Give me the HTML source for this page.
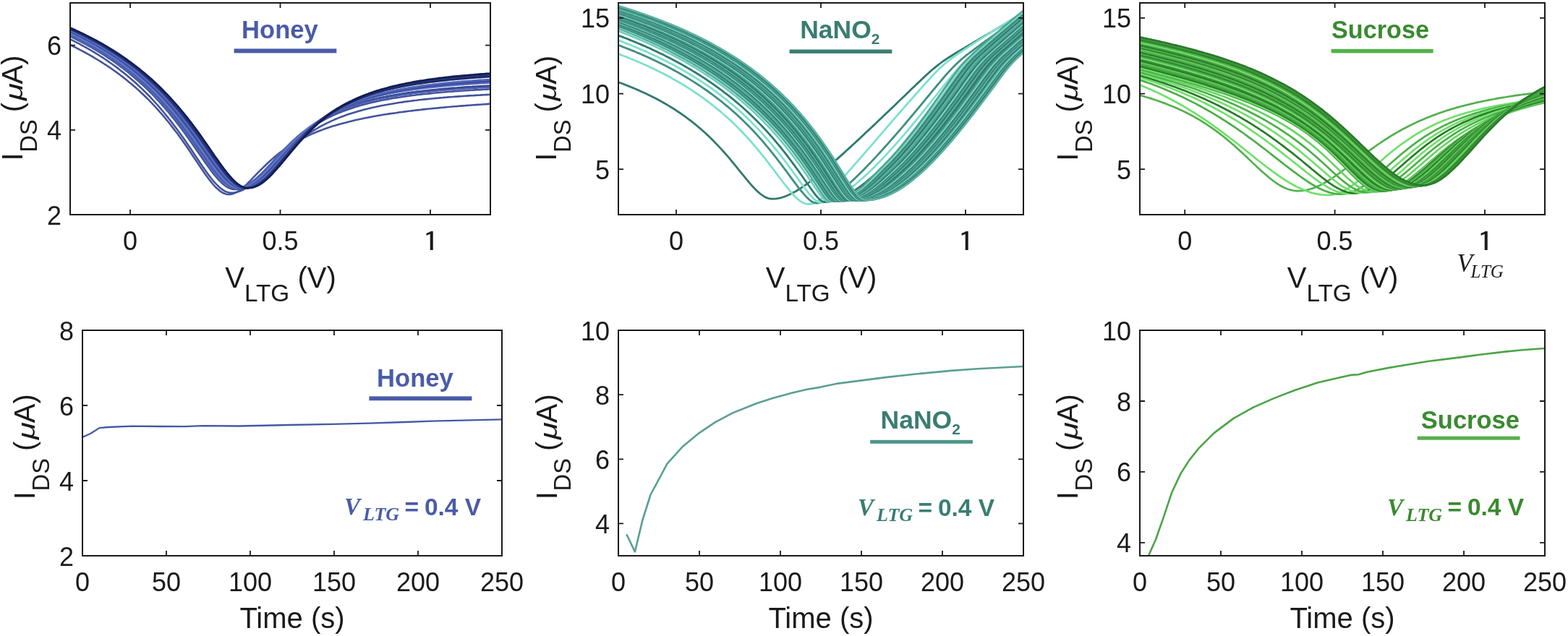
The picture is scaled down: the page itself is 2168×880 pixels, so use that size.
<!DOCTYPE html><html><head><meta charset="utf-8"><title>Figure</title><style>
html,body{margin:0;padding:0;background:#fff;}
svg{display:block;}
.t{font-family:"Liberation Sans",Arial,sans-serif;font-size:36px;fill:#1a1a1a;}
.l{font-family:"Liberation Sans",Arial,sans-serif;font-size:40px;fill:#1a1a1a;}
.sub{font-size:32px;}
.mu{font-style:italic;font-size:34px;}
.ann{font-family:"Liberation Sans",Arial,sans-serif;font-size:34.5px;font-weight:bold;}
.annsub{font-size:21px;}
.vi{font-family:"Liberation Serif",serif;font-style:italic;font-size:35px;fill:#1a1a1a;}
.visub{font-size:26px;}
.vb{font-family:"Liberation Serif",serif;font-style:italic;font-weight:bold;font-size:33px;}
.vbsub{font-size:26px;}
.eq{font-family:"Liberation Sans",Arial,sans-serif;font-weight:bold;font-size:33.5px;}
.one{font-family:"IPAGothic","Liberation Sans",sans-serif;font-size:36.4px;}
</style></head><body><svg width="2168" height="880" viewBox="0 0 2168 880"><rect width="2168" height="880" fill="#fff"/><clipPath id="c1"><rect x="97.0" y="4.0" width="581.0" height="293.0"/></clipPath>
<g clip-path="url(#c1)" fill="none" stroke-width="2.60" stroke-linejoin="round" stroke-linecap="round">
<path stroke="#43549c" d="M97.0,62.1 L99.9,63.5 L102.8,64.9 L105.7,66.4 L108.6,67.9 L111.5,69.4 L114.4,70.9 L117.3,72.5 L120.2,74.1 L123.1,75.7 L126.1,77.4 L129.0,79.0 L131.9,80.8 L134.8,82.5 L137.7,84.3 L140.6,86.1 L143.5,88.0 L146.4,89.8 L149.3,91.8 L152.2,93.7 L155.1,95.7 L158.0,97.8 L160.9,99.9 L163.8,102.0 L166.7,104.2 L169.6,106.4 L172.5,108.7 L175.4,111.0 L178.3,113.4 L181.2,115.8 L184.1,118.3 L187.1,120.8 L190.0,123.4 L192.9,126.0 L195.8,128.7 L198.7,131.5 L201.6,134.3 L204.5,137.2 L207.4,140.1 L210.3,143.1 L213.2,146.2 L216.1,149.3 L219.0,152.6 L221.9,155.8 L224.8,159.2 L227.7,162.6 L230.6,166.2 L233.5,169.7 L236.4,173.4 L239.3,177.1 L242.2,181.0 L245.2,184.8 L248.1,188.8 L251.0,192.8 L253.9,196.9 L256.8,201.1 L259.7,205.3 L262.6,209.6 L265.5,213.9 L268.4,218.2 L271.3,222.5 L274.2,226.9 L277.1,231.2 L280.0,235.5 L282.9,239.7 L285.8,243.7 L288.7,247.7 L291.6,251.4 L294.5,255.0 L297.4,258.2 L300.4,261.1 L303.3,263.6 L306.2,265.7 L309.1,267.3 L312.0,268.4 L314.9,269.0 L317.8,269.0 L320.7,268.5 L323.6,267.6 L326.5,266.3 L329.4,264.6 L332.3,262.6 L335.2,260.3 L338.1,257.8 L341.0,255.1 L343.9,252.2 L346.8,249.3 L349.7,246.2 L352.6,243.2 L355.5,240.2 L358.4,237.2 L361.4,234.2 L364.3,231.3 L367.2,228.5 L370.1,225.7 L373.0,223.0 L375.9,220.4 L378.8,217.9 L381.7,215.5 L384.6,213.1 L387.5,210.9 L390.4,208.7 L393.3,206.6 L396.2,204.6 L399.1,202.6 L402.0,200.8 L404.9,199.0 L407.8,197.2 L410.7,195.5 L413.6,193.9 L416.5,192.4 L419.5,190.9 L422.4,189.5 L425.3,188.1 L428.2,186.7 L431.1,185.4 L434.0,184.2 L436.9,183.0 L439.8,181.8 L442.7,180.7 L445.6,179.6 L448.5,178.5 L451.4,177.5 L454.3,176.5 L457.2,175.6 L460.1,174.6 L463.0,173.8 L465.9,172.9 L468.8,172.0 L471.7,171.2 L474.7,170.4 L477.6,169.7 L480.5,168.9 L483.4,168.2 L486.3,167.5 L489.2,166.8 L492.1,166.1 L495.0,165.5 L497.9,164.8 L500.8,164.2 L503.7,163.6 L506.6,163.0 L509.5,162.4 L512.4,161.9 L515.3,161.3 L518.2,160.8 L521.1,160.3 L524.0,159.8 L526.9,159.3 L529.8,158.8 L532.8,158.3 L535.7,157.9 L538.6,157.4 L541.5,157.0 L544.4,156.6 L547.3,156.2 L550.2,155.7 L553.1,155.3 L556.0,155.0 L558.9,154.6 L561.8,154.2 L564.7,153.8 L567.6,153.5 L570.5,153.1 L573.4,152.8 L576.3,152.4 L579.2,152.1 L582.1,151.8 L585.0,151.4 L587.9,151.1 L590.8,150.8 L593.8,150.5 L596.7,150.2 L599.6,149.9 L602.5,149.7 L605.4,149.4 L608.3,149.1 L611.2,148.8 L614.1,148.6 L617.0,148.3 L619.9,148.0 L622.8,147.8 L625.7,147.5 L628.6,147.3 L631.5,147.1 L634.4,146.8 L637.3,146.6 L640.2,146.4 L643.1,146.2 L646.0,145.9 L648.9,145.7 L651.9,145.5 L654.8,145.3 L657.7,145.1 L660.6,144.9 L663.5,144.7 L666.4,144.5 L669.3,144.3 L672.2,144.1 L675.1,143.9 L678.0,143.7"/>
<path stroke="#43549c" d="M97.0,54.3 L99.9,55.7 L102.8,57.2 L105.7,58.7 L108.6,60.2 L111.5,61.7 L114.4,63.3 L117.3,64.9 L120.2,66.5 L123.1,68.2 L126.1,69.9 L129.0,71.6 L131.9,73.4 L134.8,75.2 L137.7,77.0 L140.6,78.8 L143.5,80.7 L146.4,82.7 L149.3,84.6 L152.2,86.7 L155.1,88.7 L158.0,90.8 L160.9,92.9 L163.8,95.1 L166.7,97.4 L169.6,99.6 L172.5,101.9 L175.4,104.3 L178.3,106.7 L181.2,109.2 L184.1,111.7 L187.1,114.3 L190.0,117.0 L192.9,119.7 L195.8,122.4 L198.7,125.2 L201.6,128.1 L204.5,131.0 L207.4,134.0 L210.3,137.1 L213.2,140.3 L216.1,143.5 L219.0,146.7 L221.9,150.1 L224.8,153.5 L227.7,157.0 L230.6,160.6 L233.5,164.2 L236.4,167.9 L239.3,171.7 L242.2,175.5 L245.2,179.5 L248.1,183.5 L251.0,187.5 L253.9,191.6 L256.8,195.8 L259.7,200.0 L262.6,204.3 L265.5,208.6 L268.4,212.9 L271.3,217.3 L274.2,221.6 L277.1,225.9 L280.0,230.2 L282.9,234.3 L285.8,238.4 L288.7,242.4 L291.6,246.2 L294.5,249.8 L297.4,253.2 L300.4,256.2 L303.3,259.0 L306.2,261.4 L309.1,263.4 L312.0,265.0 L314.9,266.1 L317.8,266.7 L320.7,266.8 L323.6,266.6 L326.5,266.1 L329.4,265.3 L332.3,264.3 L335.2,263.0 L338.1,261.5 L341.0,259.8 L343.9,257.9 L346.8,255.8 L349.7,253.5 L352.6,251.1 L355.5,248.6 L358.4,245.9 L361.4,243.2 L364.3,240.4 L367.2,237.5 L370.1,234.6 L373.0,231.7 L375.9,228.8 L378.8,225.9 L381.7,223.0 L384.6,220.2 L387.5,217.3 L390.4,214.6 L393.3,211.8 L396.2,209.2 L399.1,206.5 L402.0,204.0 L404.9,201.5 L407.8,199.1 L410.7,196.7 L413.6,194.4 L416.5,192.2 L419.5,190.1 L422.4,188.0 L425.3,186.0 L428.2,184.0 L431.1,182.1 L434.0,180.3 L436.9,178.6 L439.8,176.9 L442.7,175.2 L445.6,173.7 L448.5,172.2 L451.4,170.7 L454.3,169.3 L457.2,167.9 L460.1,166.6 L463.0,165.3 L465.9,164.1 L468.8,162.9 L471.7,161.8 L474.7,160.7 L477.6,159.6 L480.5,158.6 L483.4,157.6 L486.3,156.7 L489.2,155.8 L492.1,154.9 L495.0,154.0 L497.9,153.2 L500.8,152.4 L503.7,151.6 L506.6,150.9 L509.5,150.2 L512.4,149.5 L515.3,148.8 L518.2,148.2 L521.1,147.5 L524.0,146.9 L526.9,146.3 L529.8,145.8 L532.8,145.2 L535.7,144.7 L538.6,144.2 L541.5,143.7 L544.4,143.2 L547.3,142.7 L550.2,142.2 L553.1,141.8 L556.0,141.4 L558.9,140.9 L561.8,140.5 L564.7,140.1 L567.6,139.8 L570.5,139.4 L573.4,139.0 L576.3,138.7 L579.2,138.3 L582.1,138.0 L585.0,137.7 L587.9,137.4 L590.8,137.1 L593.8,136.8 L596.7,136.5 L599.6,136.2 L602.5,135.9 L605.4,135.7 L608.3,135.4 L611.2,135.2 L614.1,134.9 L617.0,134.7 L619.9,134.4 L622.8,134.2 L625.7,134.0 L628.6,133.8 L631.5,133.6 L634.4,133.4 L637.3,133.2 L640.2,133.0 L643.1,132.8 L646.0,132.6 L648.9,132.4 L651.9,132.2 L654.8,132.1 L657.7,131.9 L660.6,131.7 L663.5,131.6 L666.4,131.4 L669.3,131.3 L672.2,131.1 L675.1,131.0 L678.0,130.8"/>
<path stroke="#43549c" d="M97.0,50.2 L99.9,51.6 L102.8,53.0 L105.7,54.5 L108.6,56.0 L111.5,57.5 L114.4,59.0 L117.3,60.6 L120.2,62.2 L123.1,63.8 L126.1,65.4 L129.0,67.1 L131.9,68.8 L134.8,70.6 L137.7,72.3 L140.6,74.1 L143.5,76.0 L146.4,77.9 L149.3,79.8 L152.2,81.7 L155.1,83.7 L158.0,85.7 L160.9,87.8 L163.8,89.9 L166.7,92.1 L169.6,94.3 L172.5,96.5 L175.4,98.8 L178.3,101.1 L181.2,103.5 L184.1,105.9 L187.1,108.4 L190.0,110.9 L192.9,113.5 L195.8,116.2 L198.7,118.9 L201.6,121.6 L204.5,124.4 L207.4,127.3 L210.3,130.2 L213.2,133.2 L216.1,136.3 L219.0,139.4 L221.9,142.6 L224.8,145.9 L227.7,149.2 L230.6,152.6 L233.5,156.0 L236.4,159.6 L239.3,163.2 L242.2,166.8 L245.2,170.6 L248.1,174.4 L251.0,178.3 L253.9,182.2 L256.8,186.2 L259.7,190.2 L262.6,194.3 L265.5,198.5 L268.4,202.7 L271.3,206.9 L274.2,211.1 L277.1,215.3 L280.0,219.5 L282.9,223.7 L285.8,227.8 L288.7,231.8 L291.6,235.8 L294.5,239.6 L297.4,243.2 L300.4,246.6 L303.3,249.8 L306.2,252.7 L309.1,255.3 L312.0,257.5 L314.9,259.3 L317.8,260.6 L320.7,261.6 L323.6,262.0 L326.5,262.0 L329.4,261.7 L332.3,261.0 L335.2,260.1 L338.1,258.8 L341.0,257.3 L343.9,255.6 L346.8,253.6 L349.7,251.4 L352.6,249.0 L355.5,246.5 L358.4,243.8 L361.4,241.0 L364.3,238.1 L367.2,235.1 L370.1,232.1 L373.0,229.0 L375.9,226.0 L378.8,222.9 L381.7,219.8 L384.6,216.8 L387.5,213.8 L390.4,210.8 L393.3,207.9 L396.2,205.0 L399.1,202.2 L402.0,199.5 L404.9,196.8 L407.8,194.2 L410.7,191.7 L413.6,189.3 L416.5,186.9 L419.5,184.6 L422.4,182.4 L425.3,180.3 L428.2,178.2 L431.1,176.3 L434.0,174.3 L436.9,172.5 L439.8,170.7 L442.7,169.0 L445.6,167.3 L448.5,165.7 L451.4,164.2 L454.3,162.7 L457.2,161.3 L460.1,159.9 L463.0,158.6 L465.9,157.4 L468.8,156.1 L471.7,155.0 L474.7,153.8 L477.6,152.7 L480.5,151.7 L483.4,150.7 L486.3,149.7 L489.2,148.7 L492.1,147.8 L495.0,146.9 L497.9,146.1 L500.8,145.3 L503.7,144.5 L506.6,143.7 L509.5,143.0 L512.4,142.3 L515.3,141.6 L518.2,140.9 L521.1,140.3 L524.0,139.7 L526.9,139.1 L529.8,138.5 L532.8,137.9 L535.7,137.4 L538.6,136.9 L541.5,136.3 L544.4,135.8 L547.3,135.4 L550.2,134.9 L553.1,134.5 L556.0,134.0 L558.9,133.6 L561.8,133.2 L564.7,132.8 L567.6,132.4 L570.5,132.0 L573.4,131.7 L576.3,131.3 L579.2,131.0 L582.1,130.6 L585.0,130.3 L587.9,130.0 L590.8,129.7 L593.8,129.4 L596.7,129.1 L599.6,128.8 L602.5,128.5 L605.4,128.2 L608.3,128.0 L611.2,127.7 L614.1,127.5 L617.0,127.2 L619.9,127.0 L622.8,126.8 L625.7,126.6 L628.6,126.3 L631.5,126.1 L634.4,125.9 L637.3,125.7 L640.2,125.5 L643.1,125.3 L646.0,125.1 L648.9,124.9 L651.9,124.8 L654.8,124.6 L657.7,124.4 L660.6,124.2 L663.5,124.1 L666.4,123.9 L669.3,123.8 L672.2,123.6 L675.1,123.5 L678.0,123.3"/>
<path stroke="#5a70c4" d="M97.0,48.6 L99.9,50.0 L102.8,51.4 L105.7,52.9 L108.6,54.3 L111.5,55.8 L114.4,57.4 L117.3,58.9 L120.2,60.5 L123.1,62.1 L126.1,63.7 L129.0,65.4 L131.9,67.1 L134.8,68.8 L137.7,70.5 L140.6,72.3 L143.5,74.2 L146.4,76.0 L149.3,77.9 L152.2,79.8 L155.1,81.8 L158.0,83.8 L160.9,85.8 L163.8,87.9 L166.7,90.0 L169.6,92.2 L172.5,94.4 L175.4,96.7 L178.3,99.0 L181.2,101.3 L184.1,103.7 L187.1,106.1 L190.0,108.6 L192.9,111.2 L195.8,113.8 L198.7,116.4 L201.6,119.1 L204.5,121.9 L207.4,124.7 L210.3,127.6 L213.2,130.6 L216.1,133.6 L219.0,136.6 L221.9,139.8 L224.8,143.0 L227.7,146.2 L230.6,149.6 L233.5,153.0 L236.4,156.4 L239.3,160.0 L242.2,163.6 L245.2,167.2 L248.1,171.0 L251.0,174.8 L253.9,178.7 L256.8,182.6 L259.7,186.6 L262.6,190.6 L265.5,194.7 L268.4,198.8 L271.3,202.9 L274.2,207.1 L277.1,211.3 L280.0,215.5 L282.9,219.6 L285.8,223.7 L288.7,227.8 L291.6,231.7 L294.5,235.6 L297.4,239.3 L300.4,242.8 L303.3,246.1 L306.2,249.1 L309.1,251.9 L312.0,254.3 L314.9,256.3 L317.8,258.0 L320.7,259.2 L323.6,259.9 L326.5,260.2 L329.4,260.1 L332.3,259.6 L335.2,258.8 L338.1,257.7 L341.0,256.3 L343.9,254.7 L346.8,252.8 L349.7,250.6 L352.6,248.3 L355.5,245.7 L358.4,243.0 L361.4,240.2 L364.3,237.3 L367.2,234.2 L370.1,231.2 L373.0,228.0 L375.9,224.9 L378.8,221.7 L381.7,218.5 L384.6,215.4 L387.5,212.3 L390.4,209.2 L393.3,206.2 L396.2,203.3 L399.1,200.4 L402.0,197.5 L404.9,194.8 L407.8,192.1 L410.7,189.5 L413.6,187.0 L416.5,184.6 L419.5,182.2 L422.4,179.9 L425.3,177.7 L428.2,175.6 L431.1,173.5 L434.0,171.6 L436.9,169.6 L439.8,167.8 L442.7,166.0 L445.6,164.3 L448.5,162.7 L451.4,161.1 L454.3,159.6 L457.2,158.1 L460.1,156.7 L463.0,155.4 L465.9,154.1 L468.8,152.8 L471.7,151.6 L474.7,150.5 L477.6,149.3 L480.5,148.3 L483.4,147.2 L486.3,146.2 L489.2,145.2 L492.1,144.3 L495.0,143.4 L497.9,142.6 L500.8,141.7 L503.7,140.9 L506.6,140.1 L509.5,139.4 L512.4,138.7 L515.3,138.0 L518.2,137.3 L521.1,136.6 L524.0,136.0 L526.9,135.4 L529.8,134.8 L532.8,134.2 L535.7,133.7 L538.6,133.1 L541.5,132.6 L544.4,132.1 L547.3,131.6 L550.2,131.2 L553.1,130.7 L556.0,130.3 L558.9,129.8 L561.8,129.4 L564.7,129.0 L567.6,128.6 L570.5,128.2 L573.4,127.9 L576.3,127.5 L579.2,127.1 L582.1,126.8 L585.0,126.5 L587.9,126.2 L590.8,125.8 L593.8,125.5 L596.7,125.2 L599.6,125.0 L602.5,124.7 L605.4,124.4 L608.3,124.1 L611.2,123.9 L614.1,123.6 L617.0,123.4 L619.9,123.1 L622.8,122.9 L625.7,122.7 L628.6,122.5 L631.5,122.2 L634.4,122.0 L637.3,121.8 L640.2,121.6 L643.1,121.4 L646.0,121.2 L648.9,121.1 L651.9,120.9 L654.8,120.7 L657.7,120.5 L660.6,120.4 L663.5,120.2 L666.4,120.0 L669.3,119.9 L672.2,119.7 L675.1,119.6 L678.0,119.4"/>
<path stroke="#2f3f88" d="M97.0,47.0 L99.9,48.4 L102.8,49.8 L105.7,51.3 L108.6,52.7 L111.5,54.2 L114.4,55.7 L117.3,57.2 L120.2,58.8 L123.1,60.4 L126.1,62.0 L129.0,63.6 L131.9,65.3 L134.8,67.0 L137.7,68.7 L140.6,70.5 L143.5,72.3 L146.4,74.1 L149.3,76.0 L152.2,77.9 L155.1,79.8 L158.0,81.8 L160.9,83.8 L163.8,85.8 L166.7,87.9 L169.6,90.1 L172.5,92.2 L175.4,94.5 L178.3,96.7 L181.2,99.0 L184.1,101.4 L187.1,103.8 L190.0,106.2 L192.9,108.8 L195.8,111.3 L198.7,113.9 L201.6,116.6 L204.5,119.3 L207.4,122.1 L210.3,124.9 L213.2,127.8 L216.1,130.8 L219.0,133.8 L221.9,136.9 L224.8,140.0 L227.7,143.3 L230.6,146.5 L233.5,149.9 L236.4,153.3 L239.3,156.8 L242.2,160.3 L245.2,164.0 L248.1,167.7 L251.0,171.4 L253.9,175.2 L256.8,179.1 L259.7,183.0 L262.6,187.0 L265.5,191.1 L268.4,195.2 L271.3,199.3 L274.2,203.5 L277.1,207.6 L280.0,211.8 L282.9,216.0 L285.8,220.2 L288.7,224.3 L291.6,228.3 L294.5,232.3 L297.4,236.1 L300.4,239.8 L303.3,243.2 L306.2,246.5 L309.1,249.5 L312.0,252.2 L314.9,254.6 L317.8,256.6 L320.7,258.2 L323.6,259.3 L326.5,260.0 L329.4,260.2 L332.3,260.1 L335.2,259.5 L338.1,258.7 L341.0,257.6 L343.9,256.1 L346.8,254.4 L349.7,252.5 L352.6,250.3 L355.5,247.9 L358.4,245.3 L361.4,242.6 L364.3,239.7 L367.2,236.8 L370.1,233.7 L373.0,230.6 L375.9,227.5 L378.8,224.3 L381.7,221.1 L384.6,217.9 L387.5,214.8 L390.4,211.7 L393.3,208.6 L396.2,205.6 L399.1,202.6 L402.0,199.7 L404.9,196.8 L407.8,194.1 L410.7,191.4 L413.6,188.8 L416.5,186.3 L419.5,183.8 L422.4,181.4 L425.3,179.2 L428.2,176.9 L431.1,174.8 L434.0,172.8 L436.9,170.8 L439.8,168.9 L442.7,167.0 L445.6,165.2 L448.5,163.5 L451.4,161.9 L454.3,160.3 L457.2,158.8 L460.1,157.3 L463.0,155.9 L465.9,154.5 L468.8,153.2 L471.7,152.0 L474.7,150.8 L477.6,149.6 L480.5,148.5 L483.4,147.4 L486.3,146.3 L489.2,145.3 L492.1,144.4 L495.0,143.4 L497.9,142.5 L500.8,141.7 L503.7,140.8 L506.6,140.0 L509.5,139.2 L512.4,138.5 L515.3,137.7 L518.2,137.0 L521.1,136.4 L524.0,135.7 L526.9,135.1 L529.8,134.5 L532.8,133.9 L535.7,133.3 L538.6,132.7 L541.5,132.2 L544.4,131.7 L547.3,131.2 L550.2,130.7 L553.1,130.2 L556.0,129.7 L558.9,129.3 L561.8,128.9 L564.7,128.4 L567.6,128.0 L570.5,127.6 L573.4,127.3 L576.3,126.9 L579.2,126.5 L582.1,126.2 L585.0,125.8 L587.9,125.5 L590.8,125.2 L593.8,124.9 L596.7,124.6 L599.6,124.3 L602.5,124.0 L605.4,123.7 L608.3,123.4 L611.2,123.1 L614.1,122.9 L617.0,122.6 L619.9,122.4 L622.8,122.1 L625.7,121.9 L628.6,121.7 L631.5,121.5 L634.4,121.2 L637.3,121.0 L640.2,120.8 L643.1,120.6 L646.0,120.4 L648.9,120.2 L651.9,120.1 L654.8,119.9 L657.7,119.7 L660.6,119.5 L663.5,119.3 L666.4,119.2 L669.3,119.0 L672.2,118.9 L675.1,118.7 L678.0,118.5"/>
<path stroke="#4a5eb0" d="M97.0,48.1 L99.9,49.5 L102.8,50.9 L105.7,52.3 L108.6,53.8 L111.5,55.3 L114.4,56.8 L117.3,58.3 L120.2,59.9 L123.1,61.5 L126.1,63.1 L129.0,64.8 L131.9,66.5 L134.8,68.2 L137.7,69.9 L140.6,71.7 L143.5,73.5 L146.4,75.4 L149.3,77.3 L152.2,79.2 L155.1,81.1 L158.0,83.1 L160.9,85.1 L163.8,87.2 L166.7,89.3 L169.6,91.5 L172.5,93.7 L175.4,95.9 L178.3,98.2 L181.2,100.5 L184.1,102.9 L187.1,105.4 L190.0,107.8 L192.9,110.4 L195.8,113.0 L198.7,115.6 L201.6,118.3 L204.5,121.0 L207.4,123.9 L210.3,126.7 L213.2,129.6 L216.1,132.6 L219.0,135.7 L221.9,138.8 L224.8,142.0 L227.7,145.2 L230.6,148.6 L233.5,151.9 L236.4,155.4 L239.3,158.9 L242.2,162.5 L245.2,166.2 L248.1,169.9 L251.0,173.7 L253.9,177.5 L256.8,181.4 L259.7,185.4 L262.6,189.4 L265.5,193.5 L268.4,197.6 L271.3,201.7 L274.2,205.9 L277.1,210.1 L280.0,214.2 L282.9,218.4 L285.8,222.5 L288.7,226.6 L291.6,230.6 L294.5,234.5 L297.4,238.2 L300.4,241.8 L303.3,245.1 L306.2,248.3 L309.1,251.1 L312.0,253.6 L314.9,255.8 L317.8,257.5 L320.7,258.9 L323.6,259.8 L326.5,260.2 L329.4,260.2 L332.3,259.8 L335.2,259.1 L338.1,258.1 L341.0,256.8 L343.9,255.2 L346.8,253.3 L349.7,251.3 L352.6,249.0 L355.5,246.5 L358.4,243.9 L361.4,241.1 L364.3,238.2 L367.2,235.2 L370.1,232.1 L373.0,229.0 L375.9,225.9 L378.8,222.8 L381.7,219.6 L384.6,216.5 L387.5,213.4 L390.4,210.3 L393.3,207.3 L396.2,204.4 L399.1,201.5 L402.0,198.6 L404.9,195.9 L407.8,193.2 L410.7,190.6 L413.6,188.1 L416.5,185.6 L419.5,183.3 L422.4,181.0 L425.3,178.8 L428.2,176.6 L431.1,174.6 L434.0,172.6 L436.9,170.7 L439.8,168.9 L442.7,167.1 L445.6,165.4 L448.5,163.7 L451.4,162.2 L454.3,160.6 L457.2,159.2 L460.1,157.8 L463.0,156.4 L465.9,155.1 L468.8,153.8 L471.7,152.6 L474.7,151.5 L477.6,150.4 L480.5,149.3 L483.4,148.2 L486.3,147.2 L489.2,146.3 L492.1,145.3 L495.0,144.4 L497.9,143.6 L500.8,142.7 L503.7,141.9 L506.6,141.2 L509.5,140.4 L512.4,139.7 L515.3,139.0 L518.2,138.3 L521.1,137.6 L524.0,137.0 L526.9,136.4 L529.8,135.8 L532.8,135.2 L535.7,134.7 L538.6,134.2 L541.5,133.6 L544.4,133.1 L547.3,132.6 L550.2,132.2 L553.1,131.7 L556.0,131.3 L558.9,130.8 L561.8,130.4 L564.7,130.0 L567.6,129.6 L570.5,129.3 L573.4,128.9 L576.3,128.5 L579.2,128.2 L582.1,127.8 L585.0,127.5 L587.9,127.2 L590.8,126.9 L593.8,126.6 L596.7,126.3 L599.6,126.0 L602.5,125.7 L605.4,125.4 L608.3,125.2 L611.2,124.9 L614.1,124.7 L617.0,124.4 L619.9,124.2 L622.8,123.9 L625.7,123.7 L628.6,123.5 L631.5,123.3 L634.4,123.1 L637.3,122.9 L640.2,122.7 L643.1,122.5 L646.0,122.3 L648.9,122.1 L651.9,121.9 L654.8,121.7 L657.7,121.6 L660.6,121.4 L663.5,121.2 L666.4,121.1 L669.3,120.9 L672.2,120.7 L675.1,120.6 L678.0,120.4"/>
<path stroke="#26357c" d="M97.0,44.5 L99.9,45.8 L102.8,47.2 L105.7,48.6 L108.6,50.0 L111.5,51.5 L114.4,52.9 L117.3,54.4 L120.2,56.0 L123.1,57.5 L126.1,59.1 L129.0,60.7 L131.9,62.3 L134.8,64.0 L137.7,65.7 L140.6,67.4 L143.5,69.2 L146.4,70.9 L149.3,72.8 L152.2,74.6 L155.1,76.5 L158.0,78.4 L160.9,80.4 L163.8,82.4 L166.7,84.5 L169.6,86.5 L172.5,88.7 L175.4,90.8 L178.3,93.0 L181.2,95.3 L184.1,97.6 L187.1,99.9 L190.0,102.3 L192.9,104.8 L195.8,107.3 L198.7,109.8 L201.6,112.4 L204.5,115.1 L207.4,117.8 L210.3,120.5 L213.2,123.4 L216.1,126.2 L219.0,129.2 L221.9,132.2 L224.8,135.3 L227.7,138.4 L230.6,141.6 L233.5,144.9 L236.4,148.2 L239.3,151.6 L242.2,155.1 L245.2,158.6 L248.1,162.2 L251.0,165.9 L253.9,169.6 L256.8,173.4 L259.7,177.3 L262.6,181.2 L265.5,185.2 L268.4,189.2 L271.3,193.3 L274.2,197.4 L277.1,201.6 L280.0,205.8 L282.9,210.0 L285.8,214.1 L288.7,218.3 L291.6,222.5 L294.5,226.5 L297.4,230.5 L300.4,234.4 L303.3,238.2 L306.2,241.8 L309.1,245.1 L312.0,248.3 L314.9,251.1 L317.8,253.6 L320.7,255.8 L323.6,257.5 L326.5,258.9 L329.4,259.8 L332.3,260.2 L335.2,260.2 L338.1,259.8 L341.0,259.1 L343.9,258.1 L346.8,256.7 L349.7,255.1 L352.6,253.2 L355.5,251.1 L358.4,248.8 L361.4,246.2 L364.3,243.5 L367.2,240.6 L370.1,237.6 L373.0,234.5 L375.9,231.3 L378.8,228.1 L381.7,224.8 L384.6,221.5 L387.5,218.2 L390.4,214.9 L393.3,211.6 L396.2,208.4 L399.1,205.2 L402.0,202.1 L404.9,199.0 L407.8,196.0 L410.7,193.1 L413.6,190.2 L416.5,187.4 L419.5,184.7 L422.4,182.1 L425.3,179.6 L428.2,177.1 L431.1,174.8 L434.0,172.5 L436.9,170.2 L439.8,168.1 L442.7,166.1 L445.6,164.1 L448.5,162.2 L451.4,160.3 L454.3,158.5 L457.2,156.8 L460.1,155.2 L463.0,153.6 L465.9,152.1 L468.8,150.6 L471.7,149.2 L474.7,147.8 L477.6,146.5 L480.5,145.2 L483.4,144.0 L486.3,142.8 L489.2,141.7 L492.1,140.6 L495.0,139.6 L497.9,138.5 L500.8,137.6 L503.7,136.6 L506.6,135.7 L509.5,134.8 L512.4,134.0 L515.3,133.2 L518.2,132.4 L521.1,131.6 L524.0,130.9 L526.9,130.2 L529.8,129.5 L532.8,128.8 L535.7,128.2 L538.6,127.5 L541.5,126.9 L544.4,126.4 L547.3,125.8 L550.2,125.3 L553.1,124.7 L556.0,124.2 L558.9,123.7 L561.8,123.2 L564.7,122.8 L567.6,122.3 L570.5,121.9 L573.4,121.4 L576.3,121.0 L579.2,120.6 L582.1,120.2 L585.0,119.9 L587.9,119.5 L590.8,119.1 L593.8,118.8 L596.7,118.4 L599.6,118.1 L602.5,117.8 L605.4,117.5 L608.3,117.2 L611.2,116.9 L614.1,116.6 L617.0,116.3 L619.9,116.0 L622.8,115.8 L625.7,115.5 L628.6,115.3 L631.5,115.0 L634.4,114.8 L637.3,114.6 L640.2,114.3 L643.1,114.1 L646.0,113.9 L648.9,113.7 L651.9,113.5 L654.8,113.3 L657.7,113.1 L660.6,112.9 L663.5,112.7 L666.4,112.5 L669.3,112.3 L672.2,112.2 L675.1,112.0 L678.0,111.8"/>
<path stroke="#6378cc" d="M97.0,46.0 L99.9,47.4 L102.8,48.8 L105.7,50.2 L108.6,51.6 L111.5,53.1 L114.4,54.6 L117.3,56.1 L120.2,57.6 L123.1,59.2 L126.1,60.8 L129.0,62.4 L131.9,64.1 L134.8,65.8 L137.7,67.5 L140.6,69.2 L143.5,71.0 L146.4,72.8 L149.3,74.7 L152.2,76.6 L155.1,78.5 L158.0,80.4 L160.9,82.4 L163.8,84.5 L166.7,86.5 L169.6,88.6 L172.5,90.8 L175.4,93.0 L178.3,95.2 L181.2,97.5 L184.1,99.9 L187.1,102.2 L190.0,104.7 L192.9,107.2 L195.8,109.7 L198.7,112.3 L201.6,114.9 L204.5,117.6 L207.4,120.4 L210.3,123.2 L213.2,126.0 L216.1,129.0 L219.0,132.0 L221.9,135.0 L224.8,138.1 L227.7,141.3 L230.6,144.6 L233.5,147.9 L236.4,151.2 L239.3,154.7 L242.2,158.2 L245.2,161.8 L248.1,165.5 L251.0,169.2 L253.9,173.0 L256.8,176.8 L259.7,180.7 L262.6,184.7 L265.5,188.7 L268.4,192.8 L271.3,196.9 L274.2,201.0 L277.1,205.2 L280.0,209.4 L282.9,213.6 L285.8,217.8 L288.7,221.9 L291.6,226.0 L294.5,230.0 L297.4,233.9 L300.4,237.7 L303.3,241.3 L306.2,244.7 L309.1,247.8 L312.0,250.7 L314.9,253.3 L317.8,255.5 L320.7,257.3 L323.6,258.7 L326.5,259.7 L329.4,260.2 L332.3,260.2 L335.2,259.9 L338.1,259.2 L341.0,258.2 L343.9,257.0 L346.8,255.4 L349.7,253.6 L352.6,251.5 L355.5,249.2 L358.4,246.7 L361.4,244.0 L364.3,241.2 L367.2,238.2 L370.1,235.2 L373.0,232.0 L375.9,228.8 L378.8,225.6 L381.7,222.4 L384.6,219.1 L387.5,215.9 L390.4,212.7 L393.3,209.5 L396.2,206.3 L399.1,203.3 L402.0,200.2 L404.9,197.3 L407.8,194.4 L410.7,191.6 L413.6,188.9 L416.5,186.2 L419.5,183.6 L422.4,181.2 L425.3,178.7 L428.2,176.4 L431.1,174.2 L434.0,172.0 L436.9,169.9 L439.8,167.9 L442.7,165.9 L445.6,164.1 L448.5,162.3 L451.4,160.5 L454.3,158.8 L457.2,157.2 L460.1,155.7 L463.0,154.2 L465.9,152.7 L468.8,151.3 L471.7,150.0 L474.7,148.7 L477.6,147.5 L480.5,146.3 L483.4,145.1 L486.3,144.0 L489.2,143.0 L492.1,141.9 L495.0,140.9 L497.9,140.0 L500.8,139.1 L503.7,138.2 L506.6,137.3 L509.5,136.5 L512.4,135.7 L515.3,134.9 L518.2,134.2 L521.1,133.5 L524.0,132.8 L526.9,132.1 L529.8,131.4 L532.8,130.8 L535.7,130.2 L538.6,129.6 L541.5,129.0 L544.4,128.5 L547.3,128.0 L550.2,127.4 L553.1,126.9 L556.0,126.4 L558.9,126.0 L561.8,125.5 L564.7,125.1 L567.6,124.6 L570.5,124.2 L573.4,123.8 L576.3,123.4 L579.2,123.0 L582.1,122.7 L585.0,122.3 L587.9,122.0 L590.8,121.6 L593.8,121.3 L596.7,121.0 L599.6,120.7 L602.5,120.4 L605.4,120.1 L608.3,119.8 L611.2,119.5 L614.1,119.2 L617.0,119.0 L619.9,118.7 L622.8,118.4 L625.7,118.2 L628.6,118.0 L631.5,117.7 L634.4,117.5 L637.3,117.3 L640.2,117.1 L643.1,116.8 L646.0,116.6 L648.9,116.4 L651.9,116.2 L654.8,116.0 L657.7,115.9 L660.6,115.7 L663.5,115.5 L666.4,115.3 L669.3,115.1 L672.2,115.0 L675.1,114.8 L678.0,114.7"/>
<path stroke="#2c3c84" d="M97.0,42.9 L99.9,44.3 L102.8,45.6 L105.7,47.0 L108.6,48.4 L111.5,49.9 L114.4,51.3 L117.3,52.8 L120.2,54.3 L123.1,55.8 L126.1,57.4 L129.0,59.0 L131.9,60.6 L134.8,62.2 L137.7,63.9 L140.6,65.6 L143.5,67.3 L146.4,69.1 L149.3,70.9 L152.2,72.7 L155.1,74.6 L158.0,76.5 L160.9,78.4 L163.8,80.4 L166.7,82.4 L169.6,84.5 L172.5,86.5 L175.4,88.7 L178.3,90.9 L181.2,93.1 L184.1,95.3 L187.1,97.7 L190.0,100.0 L192.9,102.4 L195.8,104.9 L198.7,107.4 L201.6,109.9 L204.5,112.5 L207.4,115.2 L210.3,117.9 L213.2,120.7 L216.1,123.6 L219.0,126.5 L221.9,129.4 L224.8,132.4 L227.7,135.5 L230.6,138.7 L233.5,141.9 L236.4,145.2 L239.3,148.5 L242.2,151.9 L245.2,155.4 L248.1,159.0 L251.0,162.6 L253.9,166.3 L256.8,170.0 L259.7,173.8 L262.6,177.7 L265.5,181.7 L268.4,185.7 L271.3,189.7 L274.2,193.8 L277.1,197.9 L280.0,202.1 L282.9,206.3 L285.8,210.5 L288.7,214.7 L291.6,218.9 L294.5,223.0 L297.4,227.1 L300.4,231.1 L303.3,234.9 L306.2,238.7 L309.1,242.2 L312.0,245.6 L314.9,248.7 L317.8,251.5 L320.7,253.9 L323.6,256.1 L326.5,257.8 L329.4,259.0 L332.3,259.9 L335.2,260.2 L338.1,260.1 L341.0,259.7 L343.9,259.0 L346.8,257.9 L349.7,256.5 L352.6,254.9 L355.5,252.9 L358.4,250.8 L361.4,248.4 L364.3,245.8 L367.2,243.0 L370.1,240.1 L373.0,237.1 L375.9,234.0 L378.8,230.7 L381.7,227.5 L384.6,224.2 L387.5,220.9 L390.4,217.5 L393.3,214.2 L396.2,211.0 L399.1,207.7 L402.0,204.5 L404.9,201.4 L407.8,198.3 L410.7,195.3 L413.6,192.3 L416.5,189.5 L419.5,186.7 L422.4,184.0 L425.3,181.4 L428.2,178.8 L431.1,176.3 L434.0,174.0 L436.9,171.7 L439.8,169.5 L442.7,167.3 L445.6,165.2 L448.5,163.3 L451.4,161.3 L454.3,159.5 L457.2,157.7 L460.1,156.0 L463.0,154.3 L465.9,152.7 L468.8,151.2 L471.7,149.7 L474.7,148.3 L477.6,146.9 L480.5,145.6 L483.4,144.4 L486.3,143.1 L489.2,141.9 L492.1,140.8 L495.0,139.7 L497.9,138.7 L500.8,137.6 L503.7,136.7 L506.6,135.7 L509.5,134.8 L512.4,133.9 L515.3,133.1 L518.2,132.3 L521.1,131.5 L524.0,130.7 L526.9,130.0 L529.8,129.2 L532.8,128.5 L535.7,127.9 L538.6,127.2 L541.5,126.6 L544.4,126.0 L547.3,125.4 L550.2,124.8 L553.1,124.3 L556.0,123.8 L558.9,123.2 L561.8,122.7 L564.7,122.3 L567.6,121.8 L570.5,121.3 L573.4,120.9 L576.3,120.5 L579.2,120.1 L582.1,119.6 L585.0,119.3 L587.9,118.9 L590.8,118.5 L593.8,118.1 L596.7,117.8 L599.6,117.5 L602.5,117.1 L605.4,116.8 L608.3,116.5 L611.2,116.2 L614.1,115.9 L617.0,115.6 L619.9,115.3 L622.8,115.0 L625.7,114.8 L628.6,114.5 L631.5,114.3 L634.4,114.0 L637.3,113.8 L640.2,113.5 L643.1,113.3 L646.0,113.1 L648.9,112.9 L651.9,112.7 L654.8,112.5 L657.7,112.3 L660.6,112.1 L663.5,111.9 L666.4,111.7 L669.3,111.5 L672.2,111.3 L675.1,111.1 L678.0,111.0"/>
<path stroke="#3e509c" d="M97.0,44.0 L99.9,45.3 L102.8,46.7 L105.7,48.1 L108.6,49.5 L111.5,50.9 L114.4,52.4 L117.3,53.9 L120.2,55.4 L123.1,56.9 L126.1,58.5 L129.0,60.1 L131.9,61.7 L134.8,63.4 L137.7,65.1 L140.6,66.8 L143.5,68.5 L146.4,70.3 L149.3,72.1 L152.2,74.0 L155.1,75.9 L158.0,77.8 L160.9,79.7 L163.8,81.7 L166.7,83.8 L169.6,85.8 L172.5,88.0 L175.4,90.1 L178.3,92.3 L181.2,94.5 L184.1,96.8 L187.1,99.2 L190.0,101.6 L192.9,104.0 L195.8,106.5 L198.7,109.0 L201.6,111.6 L204.5,114.2 L207.4,116.9 L210.3,119.7 L213.2,122.5 L216.1,125.3 L219.0,128.3 L221.9,131.3 L224.8,134.3 L227.7,137.4 L230.6,140.6 L233.5,143.9 L236.4,147.2 L239.3,150.6 L242.2,154.0 L245.2,157.5 L248.1,161.1 L251.0,164.8 L253.9,168.5 L256.8,172.3 L259.7,176.1 L262.6,180.0 L265.5,184.0 L268.4,188.0 L271.3,192.1 L274.2,196.2 L277.1,200.4 L280.0,204.5 L282.9,208.7 L285.8,212.9 L288.7,217.1 L291.6,221.3 L294.5,225.4 L297.4,229.4 L300.4,233.3 L303.3,237.1 L306.2,240.7 L309.1,244.2 L312.0,247.4 L314.9,250.3 L317.8,252.9 L320.7,255.2 L323.6,257.1 L326.5,258.5 L329.4,259.6 L332.3,260.1 L335.2,260.2 L338.1,259.9 L341.0,259.3 L343.9,258.4 L346.8,257.2 L349.7,255.6 L352.6,253.8 L355.5,251.8 L358.4,249.5 L361.4,247.0 L364.3,244.3 L367.2,241.5 L370.1,238.5 L373.0,235.5 L375.9,232.3 L378.8,229.1 L381.7,225.8 L384.6,222.6 L387.5,219.3 L390.4,216.0 L393.3,212.7 L396.2,209.5 L399.1,206.3 L402.0,203.2 L404.9,200.1 L407.8,197.1 L410.7,194.2 L413.6,191.3 L416.5,188.6 L419.5,185.9 L422.4,183.2 L425.3,180.7 L428.2,178.2 L431.1,175.9 L434.0,173.6 L436.9,171.3 L439.8,169.2 L442.7,167.1 L445.6,165.2 L448.5,163.2 L451.4,161.4 L454.3,159.6 L457.2,157.9 L460.1,156.2 L463.0,154.6 L465.9,153.1 L468.8,151.6 L471.7,150.2 L474.7,148.9 L477.6,147.5 L480.5,146.3 L483.4,145.1 L486.3,143.9 L489.2,142.7 L492.1,141.6 L495.0,140.6 L497.9,139.6 L500.8,138.6 L503.7,137.7 L506.6,136.7 L509.5,135.9 L512.4,135.0 L515.3,134.2 L518.2,133.4 L521.1,132.6 L524.0,131.9 L526.9,131.2 L529.8,130.5 L532.8,129.8 L535.7,129.2 L538.6,128.6 L541.5,128.0 L544.4,127.4 L547.3,126.8 L550.2,126.3 L553.1,125.7 L556.0,125.2 L558.9,124.7 L561.8,124.3 L564.7,123.8 L567.6,123.3 L570.5,122.9 L573.4,122.5 L576.3,122.1 L579.2,121.7 L582.1,121.3 L585.0,120.9 L587.9,120.5 L590.8,120.2 L593.8,119.8 L596.7,119.5 L599.6,119.1 L602.5,118.8 L605.4,118.5 L608.3,118.2 L611.2,117.9 L614.1,117.6 L617.0,117.3 L619.9,117.1 L622.8,116.8 L625.7,116.6 L628.6,116.3 L631.5,116.1 L634.4,115.8 L637.3,115.6 L640.2,115.4 L643.1,115.1 L646.0,114.9 L648.9,114.7 L651.9,114.5 L654.8,114.3 L657.7,114.1 L660.6,113.9 L663.5,113.7 L666.4,113.5 L669.3,113.4 L672.2,113.2 L675.1,113.0 L678.0,112.9"/>
<path stroke="#222f72" d="M97.0,41.4 L99.9,42.7 L102.8,44.1 L105.7,45.5 L108.6,46.8 L111.5,48.3 L114.4,49.7 L117.3,51.2 L120.2,52.6 L123.1,54.1 L126.1,55.7 L129.0,57.2 L131.9,58.8 L134.8,60.5 L137.7,62.1 L140.6,63.8 L143.5,65.5 L146.4,67.2 L149.3,69.0 L152.2,70.8 L155.1,72.7 L158.0,74.5 L160.9,76.4 L163.8,78.4 L166.7,80.4 L169.6,82.4 L172.5,84.5 L175.4,86.6 L178.3,88.7 L181.2,90.9 L184.1,93.1 L187.1,95.4 L190.0,97.7 L192.9,100.1 L195.8,102.5 L198.7,105.0 L201.6,107.5 L204.5,110.1 L207.4,112.7 L210.3,115.4 L213.2,118.1 L216.1,120.9 L219.0,123.8 L221.9,126.7 L224.8,129.6 L227.7,132.7 L230.6,135.8 L233.5,138.9 L236.4,142.2 L239.3,145.5 L242.2,148.8 L245.2,152.3 L248.1,155.8 L251.0,159.3 L253.9,163.0 L256.8,166.7 L259.7,170.4 L262.6,174.3 L265.5,178.2 L268.4,182.1 L271.3,186.1 L274.2,190.2 L277.1,194.3 L280.0,198.5 L282.9,202.6 L285.8,206.8 L288.7,211.1 L291.6,215.3 L294.5,219.4 L297.4,223.6 L300.4,227.6 L303.3,231.6 L306.2,235.5 L309.1,239.2 L312.0,242.7 L314.9,246.0 L317.8,249.1 L320.7,251.8 L323.6,254.3 L326.5,256.3 L329.4,258.0 L332.3,259.2 L335.2,259.9 L338.1,260.2 L341.0,260.1 L343.9,259.6 L346.8,258.8 L349.7,257.7 L352.6,256.3 L355.5,254.6 L358.4,252.6 L361.4,250.3 L364.3,247.9 L367.2,245.2 L370.1,242.4 L373.0,239.4 L375.9,236.3 L378.8,233.1 L381.7,229.8 L384.6,226.5 L387.5,223.1 L390.4,219.7 L393.3,216.2 L396.2,212.9 L399.1,209.5 L402.0,206.1 L404.9,202.9 L407.8,199.6 L410.7,196.5 L413.6,193.3 L416.5,190.3 L419.5,187.4 L422.4,184.5 L425.3,181.7 L428.2,179.0 L431.1,176.4 L434.0,173.8 L436.9,171.4 L439.8,169.0 L442.7,166.7 L445.6,164.5 L448.5,162.4 L451.4,160.3 L454.3,158.3 L457.2,156.4 L460.1,154.5 L463.0,152.8 L465.9,151.0 L468.8,149.4 L471.7,147.8 L474.7,146.3 L477.6,144.8 L480.5,143.4 L483.4,142.0 L486.3,140.7 L489.2,139.4 L492.1,138.2 L495.0,137.0 L497.9,135.9 L500.8,134.8 L503.7,133.7 L506.6,132.7 L509.5,131.7 L512.4,130.8 L515.3,129.8 L518.2,129.0 L521.1,128.1 L524.0,127.3 L526.9,126.5 L529.8,125.7 L532.8,125.0 L535.7,124.3 L538.6,123.6 L541.5,122.9 L544.4,122.2 L547.3,121.6 L550.2,121.0 L553.1,120.4 L556.0,119.8 L558.9,119.3 L561.8,118.7 L564.7,118.2 L567.6,117.7 L570.5,117.2 L573.4,116.8 L576.3,116.3 L579.2,115.9 L582.1,115.4 L585.0,115.0 L587.9,114.6 L590.8,114.2 L593.8,113.8 L596.7,113.4 L599.6,113.1 L602.5,112.7 L605.4,112.4 L608.3,112.0 L611.2,111.7 L614.1,111.4 L617.0,111.1 L619.9,110.8 L622.8,110.5 L625.7,110.2 L628.6,109.9 L631.5,109.7 L634.4,109.4 L637.3,109.2 L640.2,108.9 L643.1,108.7 L646.0,108.4 L648.9,108.2 L651.9,108.0 L654.8,107.8 L657.7,107.5 L660.6,107.3 L663.5,107.1 L666.4,106.9 L669.3,106.7 L672.2,106.5 L675.1,106.4 L678.0,106.2"/>
<path stroke="#5268bc" d="M97.0,42.4 L99.9,43.8 L102.8,45.1 L105.7,46.5 L108.6,47.9 L111.5,49.3 L114.4,50.8 L117.3,52.2 L120.2,53.7 L123.1,55.3 L126.1,56.8 L129.0,58.4 L131.9,60.0 L134.8,61.6 L137.7,63.3 L140.6,65.0 L143.5,66.7 L146.4,68.5 L149.3,70.3 L152.2,72.1 L155.1,73.9 L158.0,75.8 L160.9,77.8 L163.8,79.7 L166.7,81.7 L169.6,83.8 L172.5,85.8 L175.4,88.0 L178.3,90.1 L181.2,92.3 L184.1,94.6 L187.1,96.9 L190.0,99.2 L192.9,101.6 L195.8,104.1 L198.7,106.6 L201.6,109.1 L204.5,111.7 L207.4,114.4 L210.3,117.1 L213.2,119.8 L216.1,122.7 L219.0,125.5 L221.9,128.5 L224.8,131.5 L227.7,134.6 L230.6,137.7 L233.5,140.9 L236.4,144.2 L239.3,147.5 L242.2,150.9 L245.2,154.4 L248.1,157.9 L251.0,161.5 L253.9,165.2 L256.8,168.9 L259.7,172.7 L262.6,176.6 L265.5,180.5 L268.4,184.5 L271.3,188.5 L274.2,192.6 L277.1,196.7 L280.0,200.9 L282.9,205.1 L285.8,209.3 L288.7,213.5 L291.6,217.7 L294.5,221.8 L297.4,225.9 L300.4,229.9 L303.3,233.8 L306.2,237.6 L309.1,241.2 L312.0,244.6 L314.9,247.8 L317.8,250.7 L320.7,253.3 L323.6,255.5 L326.5,257.3 L329.4,258.7 L332.3,259.7 L335.2,260.2 L338.1,260.2 L341.0,259.9 L343.9,259.2 L346.8,258.2 L349.7,256.9 L352.6,255.4 L355.5,253.5 L358.4,251.4 L361.4,249.1 L364.3,246.5 L367.2,243.8 L370.1,240.9 L373.0,237.9 L375.9,234.8 L378.8,231.6 L381.7,228.3 L384.6,225.0 L387.5,221.7 L390.4,218.3 L393.3,215.0 L396.2,211.7 L399.1,208.4 L402.0,205.2 L404.9,202.0 L407.8,198.9 L410.7,195.8 L413.6,192.9 L416.5,189.9 L419.5,187.1 L422.4,184.4 L425.3,181.7 L428.2,179.1 L431.1,176.6 L434.0,174.2 L436.9,171.9 L439.8,169.6 L442.7,167.4 L445.6,165.3 L448.5,163.3 L451.4,161.3 L454.3,159.4 L457.2,157.6 L460.1,155.9 L463.0,154.2 L465.9,152.6 L468.8,151.0 L471.7,149.5 L474.7,148.1 L477.6,146.7 L480.5,145.3 L483.4,144.0 L486.3,142.8 L489.2,141.6 L492.1,140.4 L495.0,139.3 L497.9,138.2 L500.8,137.2 L503.7,136.2 L506.6,135.2 L509.5,134.3 L512.4,133.4 L515.3,132.5 L518.2,131.7 L521.1,130.9 L524.0,130.1 L526.9,129.3 L529.8,128.6 L532.8,127.9 L535.7,127.2 L538.6,126.6 L541.5,125.9 L544.4,125.3 L547.3,124.7 L550.2,124.1 L553.1,123.6 L556.0,123.0 L558.9,122.5 L561.8,122.0 L564.7,121.5 L567.6,121.0 L570.5,120.6 L573.4,120.1 L576.3,119.7 L579.2,119.3 L582.1,118.8 L585.0,118.4 L587.9,118.1 L590.8,117.7 L593.8,117.3 L596.7,117.0 L599.6,116.6 L602.5,116.3 L605.4,116.0 L608.3,115.6 L611.2,115.3 L614.1,115.0 L617.0,114.7 L619.9,114.4 L622.8,114.2 L625.7,113.9 L628.6,113.6 L631.5,113.4 L634.4,113.1 L637.3,112.9 L640.2,112.6 L643.1,112.4 L646.0,112.2 L648.9,112.0 L651.9,111.8 L654.8,111.5 L657.7,111.3 L660.6,111.1 L663.5,110.9 L666.4,110.8 L669.3,110.6 L672.2,110.4 L675.1,110.2 L678.0,110.0"/>
<path stroke="#1c2866" d="M97.0,39.9 L99.9,41.2 L102.8,42.6 L105.7,43.9 L108.6,45.3 L111.5,46.7 L114.4,48.1 L117.3,49.5 L120.2,51.0 L123.1,52.5 L126.1,54.0 L129.0,55.5 L131.9,57.1 L134.8,58.7 L137.7,60.3 L140.6,62.0 L143.5,63.7 L146.4,65.4 L149.3,67.2 L152.2,68.9 L155.1,70.8 L158.0,72.6 L160.9,74.5 L163.8,76.4 L166.7,78.4 L169.6,80.4 L172.5,82.4 L175.4,84.5 L178.3,86.6 L181.2,88.7 L184.1,90.9 L187.1,93.2 L190.0,95.5 L192.9,97.8 L195.8,100.2 L198.7,102.6 L201.6,105.1 L204.5,107.6 L207.4,110.2 L210.3,112.8 L213.2,115.5 L216.1,118.3 L219.0,121.1 L221.9,124.0 L224.8,126.9 L227.7,129.9 L230.6,132.9 L233.5,136.0 L236.4,139.2 L239.3,142.5 L242.2,145.8 L245.2,149.2 L248.1,152.6 L251.0,156.1 L253.9,159.7 L256.8,163.4 L259.7,167.1 L262.6,170.9 L265.5,174.7 L268.4,178.6 L271.3,182.6 L274.2,186.6 L277.1,190.7 L280.0,194.8 L282.9,199.0 L285.8,203.2 L288.7,207.4 L291.6,211.6 L294.5,215.8 L297.4,220.0 L300.4,224.1 L303.3,228.2 L306.2,232.1 L309.1,236.0 L312.0,239.7 L314.9,243.2 L317.8,246.5 L320.7,249.5 L323.6,252.2 L326.5,254.6 L329.4,256.6 L332.3,258.2 L335.2,259.3 L338.1,260.0 L341.0,260.2 L343.9,260.1 L346.8,259.5 L349.7,258.7 L352.6,257.5 L355.5,256.0 L358.4,254.3 L361.4,252.3 L364.3,250.0 L367.2,247.5 L370.1,244.8 L373.0,241.9 L375.9,238.9 L378.8,235.8 L381.7,232.5 L384.6,229.2 L387.5,225.9 L390.4,222.4 L393.3,219.0 L396.2,215.6 L399.1,212.2 L402.0,208.8 L404.9,205.4 L407.8,202.1 L410.7,198.9 L413.6,195.7 L416.5,192.6 L419.5,189.6 L422.4,186.6 L425.3,183.7 L428.2,180.9 L431.1,178.2 L434.0,175.6 L436.9,173.0 L439.8,170.6 L442.7,168.2 L445.6,165.9 L448.5,163.7 L451.4,161.5 L454.3,159.5 L457.2,157.5 L460.1,155.5 L463.0,153.7 L465.9,151.9 L468.8,150.2 L471.7,148.5 L474.7,146.9 L477.6,145.4 L480.5,143.9 L483.4,142.5 L486.3,141.1 L489.2,139.8 L492.1,138.5 L495.0,137.3 L497.9,136.1 L500.8,135.0 L503.7,133.9 L506.6,132.8 L509.5,131.8 L512.4,130.8 L515.3,129.8 L518.2,128.9 L521.1,128.0 L524.0,127.2 L526.9,126.4 L529.8,125.6 L532.8,124.8 L535.7,124.0 L538.6,123.3 L541.5,122.6 L544.4,121.9 L547.3,121.3 L550.2,120.7 L553.1,120.0 L556.0,119.4 L558.9,118.9 L561.8,118.3 L564.7,117.8 L567.6,117.3 L570.5,116.8 L573.4,116.3 L576.3,115.8 L579.2,115.3 L582.1,114.9 L585.0,114.4 L587.9,114.0 L590.8,113.6 L593.8,113.2 L596.7,112.8 L599.6,112.5 L602.5,112.1 L605.4,111.7 L608.3,111.4 L611.2,111.1 L614.1,110.7 L617.0,110.4 L619.9,110.1 L622.8,109.8 L625.7,109.5 L628.6,109.2 L631.5,108.9 L634.4,108.7 L637.3,108.4 L640.2,108.2 L643.1,107.9 L646.0,107.7 L648.9,107.4 L651.9,107.2 L654.8,107.0 L657.7,106.7 L660.6,106.5 L663.5,106.3 L666.4,106.1 L669.3,105.9 L672.2,105.7 L675.1,105.5 L678.0,105.3"/>
<path stroke="#26347a" d="M97.0,40.4 L99.9,41.7 L102.8,43.1 L105.7,44.4 L108.6,45.8 L111.5,47.2 L114.4,48.6 L117.3,50.1 L120.2,51.5 L123.1,53.0 L126.1,54.6 L129.0,56.1 L131.9,57.7 L134.8,59.3 L137.7,60.9 L140.6,62.6 L143.5,64.3 L146.4,66.0 L149.3,67.8 L152.2,69.6 L155.1,71.4 L158.0,73.2 L160.9,75.1 L163.8,77.1 L166.7,79.0 L169.6,81.0 L172.5,83.1 L175.4,85.2 L178.3,87.3 L181.2,89.4 L184.1,91.7 L187.1,93.9 L190.0,96.2 L192.9,98.6 L195.8,100.9 L198.7,103.4 L201.6,105.9 L204.5,108.4 L207.4,111.0 L210.3,113.7 L213.2,116.4 L216.1,119.2 L219.0,122.0 L221.9,124.9 L224.8,127.8 L227.7,130.8 L230.6,133.9 L233.5,137.0 L236.4,140.2 L239.3,143.5 L242.2,146.8 L245.2,150.2 L248.1,153.7 L251.0,157.2 L253.9,160.8 L256.8,164.5 L259.7,168.2 L262.6,172.0 L265.5,175.9 L268.4,179.8 L271.3,183.8 L274.2,187.8 L277.1,191.9 L280.0,196.0 L282.9,200.2 L285.8,204.4 L288.7,208.6 L291.6,212.8 L294.5,217.0 L297.4,221.2 L300.4,225.3 L303.3,229.3 L306.2,233.3 L309.1,237.1 L312.0,240.7 L314.9,244.2 L317.8,247.4 L320.7,250.3 L323.6,252.9 L326.5,255.2 L329.4,257.1 L332.3,258.5 L335.2,259.6 L338.1,260.1 L341.0,260.2 L343.9,259.9 L346.8,259.3 L349.7,258.4 L352.6,257.1 L355.5,255.6 L358.4,253.7 L361.4,251.6 L364.3,249.2 L367.2,246.7 L370.1,243.9 L373.0,241.0 L375.9,237.9 L378.8,234.7 L381.7,231.4 L384.6,228.1 L387.5,224.6 L390.4,221.2 L393.3,217.7 L396.2,214.3 L399.1,210.8 L402.0,207.4 L404.9,204.0 L407.8,200.7 L410.7,197.4 L413.6,194.2 L416.5,191.1 L419.5,188.1 L422.4,185.1 L425.3,182.2 L428.2,179.4 L431.1,176.6 L434.0,174.0 L436.9,171.4 L439.8,169.0 L442.7,166.6 L445.6,164.3 L448.5,162.0 L451.4,159.9 L454.3,157.8 L457.2,155.8 L460.1,153.9 L463.0,152.0 L465.9,150.2 L468.8,148.5 L471.7,146.8 L474.7,145.2 L477.6,143.7 L480.5,142.2 L483.4,140.7 L486.3,139.4 L489.2,138.0 L492.1,136.7 L495.0,135.5 L497.9,134.3 L500.8,133.2 L503.7,132.1 L506.6,131.0 L509.5,130.0 L512.4,129.0 L515.3,128.0 L518.2,127.1 L521.1,126.2 L524.0,125.3 L526.9,124.5 L529.8,123.7 L532.8,122.9 L535.7,122.2 L538.6,121.4 L541.5,120.7 L544.4,120.0 L547.3,119.4 L550.2,118.7 L553.1,118.1 L556.0,117.5 L558.9,117.0 L561.8,116.4 L564.7,115.9 L567.6,115.3 L570.5,114.8 L573.4,114.3 L576.3,113.8 L579.2,113.4 L582.1,112.9 L585.0,112.5 L587.9,112.1 L590.8,111.6 L593.8,111.2 L596.7,110.9 L599.6,110.5 L602.5,110.1 L605.4,109.8 L608.3,109.4 L611.2,109.1 L614.1,108.7 L617.0,108.4 L619.9,108.1 L622.8,107.8 L625.7,107.5 L628.6,107.2 L631.5,106.9 L634.4,106.7 L637.3,106.4 L640.2,106.1 L643.1,105.9 L646.0,105.6 L648.9,105.4 L651.9,105.2 L654.8,104.9 L657.7,104.7 L660.6,104.5 L663.5,104.3 L666.4,104.1 L669.3,103.9 L672.2,103.7 L675.1,103.5 L678.0,103.3"/>
<path stroke="#131c50" d="M97.0,38.4 L99.9,39.7 L102.8,41.0 L105.7,42.4 L108.6,43.7 L111.5,45.1 L114.4,46.5 L117.3,47.9 L120.2,49.4 L123.1,50.8 L126.1,52.3 L129.0,53.9 L131.9,55.4 L134.8,57.0 L137.7,58.6 L140.6,60.2 L143.5,61.9 L146.4,63.6 L149.3,65.3 L152.2,67.1 L155.1,68.9 L158.0,70.7 L160.9,72.5 L163.8,74.4 L166.7,76.4 L169.6,78.3 L172.5,80.3 L175.4,82.4 L178.3,84.5 L181.2,86.6 L184.1,88.8 L187.1,91.0 L190.0,93.2 L192.9,95.5 L195.8,97.9 L198.7,100.3 L201.6,102.7 L204.5,105.2 L207.4,107.7 L210.3,110.3 L213.2,113.0 L216.1,115.7 L219.0,118.5 L221.9,121.3 L224.8,124.2 L227.7,127.1 L230.6,130.1 L233.5,133.2 L236.4,136.3 L239.3,139.5 L242.2,142.8 L245.2,146.1 L248.1,149.5 L251.0,153.0 L253.9,156.5 L256.8,160.1 L259.7,163.8 L262.6,167.5 L265.5,171.3 L268.4,175.2 L271.3,179.1 L274.2,183.1 L277.1,187.1 L280.0,191.2 L282.9,195.4 L285.8,199.5 L288.7,203.7 L291.6,207.9 L294.5,212.2 L297.4,216.4 L300.4,220.5 L303.3,224.7 L306.2,228.7 L309.1,232.7 L312.0,236.5 L314.9,240.2 L317.8,243.7 L320.7,246.9 L323.6,249.9 L326.5,252.6 L329.4,254.9 L332.3,256.8 L335.2,258.4 L338.1,259.4 L341.0,260.1 L343.9,260.2 L346.8,260.0 L349.7,259.4 L352.6,258.5 L355.5,257.3 L358.4,255.8 L361.4,254.0 L364.3,251.9 L367.2,249.6 L370.1,247.0 L373.0,244.2 L375.9,241.3 L378.8,238.2 L381.7,235.0 L384.6,231.7 L387.5,228.3 L390.4,224.9 L393.3,221.4 L396.2,217.9 L399.1,214.4 L402.0,210.9 L404.9,207.5 L407.8,204.1 L410.7,200.7 L413.6,197.4 L416.5,194.1 L419.5,190.9 L422.4,187.8 L425.3,184.8 L428.2,181.9 L431.1,179.0 L434.0,176.2 L436.9,173.5 L439.8,170.9 L442.7,168.4 L445.6,166.0 L448.5,163.6 L451.4,161.3 L454.3,159.1 L457.2,157.0 L460.1,155.0 L463.0,153.0 L465.9,151.1 L468.8,149.3 L471.7,147.5 L474.7,145.8 L477.6,144.2 L480.5,142.6 L483.4,141.1 L486.3,139.6 L489.2,138.2 L492.1,136.8 L495.0,135.5 L497.9,134.2 L500.8,133.0 L503.7,131.8 L506.6,130.7 L509.5,129.6 L512.4,128.6 L515.3,127.6 L518.2,126.6 L521.1,125.6 L524.0,124.7 L526.9,123.8 L529.8,123.0 L532.8,122.2 L535.7,121.4 L538.6,120.6 L541.5,119.8 L544.4,119.1 L547.3,118.4 L550.2,117.8 L553.1,117.1 L556.0,116.5 L558.9,115.9 L561.8,115.3 L564.7,114.7 L567.6,114.2 L570.5,113.6 L573.4,113.1 L576.3,112.6 L579.2,112.1 L582.1,111.6 L585.0,111.2 L587.9,110.7 L590.8,110.3 L593.8,109.9 L596.7,109.5 L599.6,109.1 L602.5,108.7 L605.4,108.3 L608.3,107.9 L611.2,107.6 L614.1,107.2 L617.0,106.9 L619.9,106.6 L622.8,106.2 L625.7,105.9 L628.6,105.6 L631.5,105.3 L634.4,105.1 L637.3,104.8 L640.2,104.5 L643.1,104.2 L646.0,104.0 L648.9,103.7 L651.9,103.5 L654.8,103.3 L657.7,103.0 L660.6,102.8 L663.5,102.6 L666.4,102.4 L669.3,102.2 L672.2,101.9 L675.1,101.7 L678.0,101.5"/>
</g>
<path d="M180.0,297.0 V290.0 M180.0,4.0 V11.0 M387.5,297.0 V290.0 M387.5,4.0 V11.0 M595.0,297.0 V290.0 M595.0,4.0 V11.0 M97.0,297.0 H104.0 M678.0,297.0 H671.0 M97.0,179.8 H104.0 M678.0,179.8 H671.0 M97.0,62.6 H104.0 M678.0,62.6 H671.0" stroke="#1a1a1a" stroke-width="1.8" fill="none"/>
<rect x="97.0" y="4.0" width="581.0" height="293.0" fill="none" stroke="#1a1a1a" stroke-width="2"/>
<text x="180.0" y="346.0" text-anchor="middle" class="t">0</text>
<text x="387.5" y="346.0" text-anchor="middle" class="t">0.5</text>
<text transform="translate(596.1,347.8) scale(1.35,1)" text-anchor="middle" class="t one">1</text>
<text x="85.0" y="310.5" text-anchor="end" class="t">2</text>
<text x="85.0" y="193.3" text-anchor="end" class="t">4</text>
<text x="85.0" y="76.1" text-anchor="end" class="t">6</text>
<g transform="translate(31.3,222.5) rotate(-90)">
<text x="0" y="0" class="l">I</text>
<text x="11.8" y="19.7" class="l" style="font-size:32.75px">DS</text>
<text x="67.3" y="0" class="l">(</text>
<text transform="translate(83.4,0) scale(1.28,1)" class="l mu">μ</text>
<text x="106" y="0" class="l">A)</text>
</g>
<text x="388.0" y="398.0" text-anchor="middle" class="l">V<tspan style="font-size:33.3px" dy="19.2">LTG</tspan><tspan dy="-19.2"> (V)</tspan></text>
<text x="334.1" y="53" class="ann" fill="#4a5ba8" style="font-size:34.6px">Honey</text>
<rect x="323.6" y="67.4" width="141.7" height="6" fill="#4a5ba8"/>
<clipPath id="c2"><rect x="855.0" y="4.0" width="560.0" height="293.0"/></clipPath>
<g clip-path="url(#c2)" fill="none" stroke-width="2.80" stroke-linejoin="round" stroke-linecap="round">
<path stroke="#2f7a6d" d="M855.0,113.7 L857.8,114.8 L860.6,115.8 L863.4,116.9 L866.2,118.0 L869.0,119.1 L871.8,120.2 L874.6,121.4 L877.4,122.5 L880.2,123.7 L883.0,124.9 L885.8,126.2 L888.6,127.5 L891.4,128.7 L894.2,130.1 L897.0,131.4 L899.8,132.8 L902.6,134.2 L905.4,135.6 L908.2,137.1 L911.0,138.6 L913.8,140.1 L916.6,141.7 L919.4,143.3 L922.2,144.9 L925.0,146.6 L927.8,148.3 L930.6,150.0 L933.4,151.8 L936.2,153.7 L939.0,155.5 L941.8,157.4 L944.6,159.4 L947.4,161.4 L950.2,163.5 L953.0,165.6 L955.8,167.7 L958.6,169.9 L961.4,172.2 L964.2,174.5 L967.0,176.9 L969.8,179.3 L972.6,181.8 L975.4,184.3 L978.2,186.9 L981.0,189.6 L983.8,192.3 L986.6,195.1 L989.4,198.0 L992.2,200.9 L995.0,203.9 L997.8,206.9 L1000.6,210.0 L1003.4,213.2 L1006.2,216.4 L1009.0,219.7 L1011.8,223.1 L1014.6,226.5 L1017.4,229.9 L1020.2,233.3 L1023.0,236.8 L1025.8,240.3 L1028.6,243.7 L1031.4,247.1 L1034.2,250.5 L1037.0,253.8 L1039.8,257.0 L1042.6,260.1 L1045.4,262.9 L1048.2,265.6 L1051.0,268.0 L1053.8,270.1 L1056.6,271.9 L1059.4,273.4 L1062.2,274.4 L1065.0,275.0 L1067.8,275.2 L1070.6,275.1 L1073.4,274.8 L1076.2,274.4 L1079.0,273.8 L1081.8,273.0 L1084.6,272.1 L1087.4,271.0 L1090.2,269.8 L1093.0,268.5 L1095.8,267.1 L1098.6,265.6 L1101.4,264.0 L1104.2,262.2 L1107.0,260.5 L1109.8,258.6 L1112.6,256.7 L1115.4,254.7 L1118.2,252.6 L1121.0,250.5 L1123.8,248.4 L1126.6,246.2 L1129.4,243.9 L1132.2,241.7 L1135.0,239.4 L1137.8,237.0 L1140.6,234.7 L1143.4,232.3 L1146.2,229.9 L1149.0,227.5 L1151.8,225.0 L1154.6,222.6 L1157.4,220.1 L1160.2,217.6 L1163.0,215.1 L1165.8,212.6 L1168.6,210.0 L1171.4,207.5 L1174.2,204.9 L1177.0,202.4 L1179.8,199.8 L1182.6,197.2 L1185.4,194.6 L1188.2,192.0 L1191.0,189.4 L1193.8,186.8 L1196.6,184.1 L1199.4,181.5 L1202.2,178.9 L1205.0,176.2 L1207.8,173.6 L1210.6,170.9 L1213.4,168.3 L1216.2,165.6 L1219.0,162.9 L1221.8,160.3 L1224.6,157.6 L1227.4,154.9 L1230.2,152.2 L1233.0,149.6 L1235.8,146.9 L1238.6,144.2 L1241.4,141.5 L1244.2,138.8 L1247.0,136.1 L1249.8,133.4 L1252.6,130.7 L1255.4,128.0 L1258.2,125.3 L1261.0,122.6 L1263.8,119.9 L1266.6,117.2 L1269.4,114.6 L1272.2,111.9 L1275.0,109.2 L1277.8,106.6 L1280.6,104.0 L1283.4,101.5 L1286.2,98.9 L1289.0,96.5 L1291.8,94.1 L1294.6,91.8 L1297.4,89.6 L1300.2,87.5 L1303.0,85.4 L1305.8,83.5 L1308.6,81.6 L1311.4,79.7 L1314.2,78.0 L1317.0,76.2 L1319.8,74.5 L1322.6,72.8 L1325.4,71.1 L1328.2,69.4 L1331.0,67.7 L1333.8,66.1 L1336.6,64.4 L1339.4,62.8 L1342.2,61.1 L1345.0,59.4 L1347.8,57.8 L1350.6,56.1 L1353.4,54.5 L1356.2,52.8 L1359.0,51.2 L1361.8,49.5 L1364.6,47.9 L1367.4,46.2 L1370.2,44.6 L1373.0,42.9 L1375.8,41.3 L1378.6,39.6 L1381.4,38.0 L1384.2,36.3 L1387.0,34.7 L1389.8,33.0 L1392.6,31.4 L1395.4,29.7 L1398.2,28.0 L1401.0,26.4 L1403.8,24.7 L1406.6,23.1 L1409.4,21.4 L1412.2,19.8 L1415.0,18.1"/>
<path stroke="#7ee0cf" d="M855.0,74.6 L857.8,75.7 L860.6,76.8 L863.4,77.8 L866.2,78.9 L869.0,80.0 L871.8,81.2 L874.6,82.3 L877.4,83.5 L880.2,84.6 L883.0,85.8 L885.8,87.0 L888.6,88.3 L891.4,89.5 L894.2,90.8 L897.0,92.1 L899.8,93.4 L902.6,94.7 L905.4,96.0 L908.2,97.4 L911.0,98.8 L913.8,100.2 L916.6,101.6 L919.4,103.1 L922.2,104.6 L925.0,106.1 L927.8,107.6 L930.6,109.2 L933.4,110.7 L936.2,112.3 L939.0,114.0 L941.8,115.6 L944.6,117.3 L947.4,119.0 L950.2,120.8 L953.0,122.6 L955.8,124.4 L958.6,126.2 L961.4,128.1 L964.2,130.0 L967.0,131.9 L969.8,133.9 L972.6,135.9 L975.4,138.0 L978.2,140.0 L981.0,142.2 L983.8,144.3 L986.6,146.5 L989.4,148.8 L992.2,151.1 L995.0,153.4 L997.8,155.8 L1000.6,158.2 L1003.4,160.7 L1006.2,163.2 L1009.0,165.8 L1011.8,168.4 L1014.6,171.1 L1017.4,173.8 L1020.2,176.6 L1023.0,179.4 L1025.8,182.3 L1028.6,185.2 L1031.4,188.2 L1034.2,191.3 L1037.0,194.4 L1039.8,197.6 L1042.6,200.8 L1045.4,204.1 L1048.2,207.5 L1051.0,210.9 L1053.8,214.3 L1056.6,217.8 L1059.4,221.4 L1062.2,225.0 L1065.0,228.6 L1067.8,232.3 L1070.6,236.0 L1073.4,239.8 L1076.2,243.5 L1079.0,247.3 L1081.8,251.0 L1084.6,254.6 L1087.4,258.2 L1090.2,261.7 L1093.0,265.1 L1095.8,268.3 L1098.6,271.3 L1101.4,274.1 L1104.2,276.5 L1107.0,278.6 L1109.8,280.3 L1112.6,281.5 L1115.4,282.2 L1118.2,282.5 L1121.0,282.3 L1123.8,281.6 L1126.6,280.6 L1129.4,279.3 L1132.2,277.6 L1135.0,275.7 L1137.8,273.6 L1140.6,271.2 L1143.4,268.8 L1146.2,266.1 L1149.0,263.4 L1151.8,260.6 L1154.6,257.7 L1157.4,254.8 L1160.2,251.8 L1163.0,248.7 L1165.8,245.7 L1168.6,242.5 L1171.4,239.4 L1174.2,236.2 L1177.0,233.1 L1179.8,229.9 L1182.6,226.7 L1185.4,223.5 L1188.2,220.2 L1191.0,217.0 L1193.8,213.8 L1196.6,210.5 L1199.4,207.3 L1202.2,204.1 L1205.0,200.8 L1207.8,197.6 L1210.6,194.3 L1213.4,191.1 L1216.2,187.8 L1219.0,184.6 L1221.8,181.3 L1224.6,178.1 L1227.4,174.9 L1230.2,171.6 L1233.0,168.4 L1235.8,165.2 L1238.6,161.9 L1241.4,158.7 L1244.2,155.5 L1247.0,152.3 L1249.8,149.1 L1252.6,145.9 L1255.4,142.7 L1258.2,139.5 L1261.0,136.3 L1263.8,133.1 L1266.6,130.0 L1269.4,126.8 L1272.2,123.6 L1275.0,120.5 L1277.8,117.4 L1280.6,114.3 L1283.4,111.2 L1286.2,108.1 L1289.0,105.1 L1291.8,102.1 L1294.6,99.3 L1297.4,96.4 L1300.2,93.7 L1303.0,91.1 L1305.8,88.7 L1308.6,86.3 L1311.4,84.1 L1314.2,81.9 L1317.0,79.8 L1319.8,77.8 L1322.6,75.9 L1325.4,73.9 L1328.2,72.0 L1331.0,70.2 L1333.8,68.3 L1336.6,66.5 L1339.4,64.6 L1342.2,62.8 L1345.0,61.0 L1347.8,59.2 L1350.6,57.3 L1353.4,55.5 L1356.2,53.7 L1359.0,51.9 L1361.8,50.1 L1364.6,48.4 L1367.4,46.6 L1370.2,44.8 L1373.0,43.0 L1375.8,41.2 L1378.6,39.4 L1381.4,37.7 L1384.2,35.9 L1387.0,34.1 L1389.8,32.4 L1392.6,30.6 L1395.4,28.9 L1398.2,27.1 L1401.0,25.4 L1403.8,23.6 L1406.6,21.9 L1409.4,20.2 L1412.2,18.4 L1415.0,16.7"/>
<path stroke="#3f8f81" d="M855.0,62.5 L857.8,63.5 L860.6,64.6 L863.4,65.7 L866.2,66.8 L869.0,67.9 L871.8,69.0 L874.6,70.1 L877.4,71.3 L880.2,72.5 L883.0,73.6 L885.8,74.8 L888.6,76.1 L891.4,77.3 L894.2,78.5 L897.0,79.8 L899.8,81.1 L902.6,82.4 L905.4,83.7 L908.2,85.1 L911.0,86.4 L913.8,87.8 L916.6,89.2 L919.4,90.6 L922.2,92.0 L925.0,93.5 L927.8,95.0 L930.6,96.5 L933.4,98.0 L936.2,99.6 L939.0,101.1 L941.8,102.7 L944.6,104.4 L947.4,106.0 L950.2,107.7 L953.0,109.4 L955.8,111.1 L958.6,112.9 L961.4,114.6 L964.2,116.5 L967.0,118.3 L969.8,120.2 L972.6,122.1 L975.4,124.0 L978.2,126.0 L981.0,128.0 L983.8,130.0 L986.6,132.1 L989.4,134.2 L992.2,136.3 L995.0,138.5 L997.8,140.7 L1000.6,143.0 L1003.4,145.3 L1006.2,147.6 L1009.0,150.0 L1011.8,152.4 L1014.6,154.9 L1017.4,157.4 L1020.2,160.0 L1023.0,162.6 L1025.8,165.3 L1028.6,168.0 L1031.4,170.7 L1034.2,173.5 L1037.0,176.4 L1039.8,179.3 L1042.6,182.3 L1045.4,185.3 L1048.2,188.4 L1051.0,191.5 L1053.8,194.7 L1056.6,198.0 L1059.4,201.3 L1062.2,204.7 L1065.0,208.1 L1067.8,211.6 L1070.6,215.1 L1073.4,218.7 L1076.2,222.3 L1079.0,226.0 L1081.8,229.7 L1084.6,233.5 L1087.4,237.2 L1090.2,241.0 L1093.0,244.8 L1095.8,248.6 L1098.6,252.4 L1101.4,256.1 L1104.2,259.8 L1107.0,263.3 L1109.8,266.7 L1112.6,269.9 L1115.4,272.9 L1118.2,275.6 L1121.0,278.0 L1123.8,279.7 L1126.6,280.8 L1129.4,281.0 L1132.2,280.8 L1135.0,280.2 L1137.8,279.4 L1140.6,278.3 L1143.4,277.1 L1146.2,275.6 L1149.0,273.9 L1151.8,272.1 L1154.6,270.2 L1157.4,268.1 L1160.2,266.0 L1163.0,263.7 L1165.8,261.4 L1168.6,259.0 L1171.4,256.6 L1174.2,254.1 L1177.0,251.5 L1179.8,248.9 L1182.6,246.2 L1185.4,243.5 L1188.2,240.8 L1191.0,238.0 L1193.8,235.2 L1196.6,232.3 L1199.4,229.4 L1202.2,226.5 L1205.0,223.6 L1207.8,220.6 L1210.6,217.6 L1213.4,214.6 L1216.2,211.5 L1219.0,208.4 L1221.8,205.3 L1224.6,202.2 L1227.4,199.1 L1230.2,195.9 L1233.0,192.7 L1235.8,189.5 L1238.6,186.3 L1241.4,183.1 L1244.2,179.8 L1247.0,176.6 L1249.8,173.3 L1252.6,170.0 L1255.4,166.7 L1258.2,163.3 L1261.0,160.0 L1263.8,156.7 L1266.6,153.3 L1269.4,150.0 L1272.2,146.6 L1275.0,143.2 L1277.8,139.8 L1280.6,136.4 L1283.4,133.0 L1286.2,129.6 L1289.0,126.2 L1291.8,122.9 L1294.6,119.5 L1297.4,116.1 L1300.2,112.8 L1303.0,109.5 L1305.8,106.2 L1308.6,103.0 L1311.4,99.9 L1314.2,96.8 L1317.0,93.9 L1319.8,91.0 L1322.6,88.3 L1325.4,85.7 L1328.2,83.1 L1331.0,80.7 L1333.8,78.4 L1336.6,76.2 L1339.4,74.0 L1342.2,71.9 L1345.0,69.8 L1347.8,67.7 L1350.6,65.6 L1353.4,63.6 L1356.2,61.5 L1359.0,59.5 L1361.8,57.4 L1364.6,55.4 L1367.4,53.4 L1370.2,51.4 L1373.0,49.4 L1375.8,47.4 L1378.6,45.4 L1381.4,43.4 L1384.2,41.4 L1387.0,39.4 L1389.8,37.4 L1392.6,35.4 L1395.4,33.5 L1398.2,31.5 L1401.0,29.6 L1403.8,27.6 L1406.6,25.7 L1409.4,23.7 L1412.2,21.8 L1415.0,19.9"/>
<path stroke="#7ee0cf" d="M855.0,55.8 L857.8,56.8 L860.6,57.9 L863.4,59.0 L866.2,60.1 L869.0,61.2 L871.8,62.3 L874.6,63.5 L877.4,64.6 L880.2,65.8 L883.0,67.0 L885.8,68.2 L888.6,69.4 L891.4,70.6 L894.2,71.8 L897.0,73.1 L899.8,74.4 L902.6,75.7 L905.4,77.0 L908.2,78.3 L911.0,79.7 L913.8,81.0 L916.6,82.4 L919.4,83.8 L922.2,85.2 L925.0,86.7 L927.8,88.1 L930.6,89.6 L933.4,91.1 L936.2,92.7 L939.0,94.2 L941.8,95.8 L944.6,97.4 L947.4,99.0 L950.2,100.6 L953.0,102.3 L955.8,104.0 L958.6,105.7 L961.4,107.4 L964.2,109.2 L967.0,111.0 L969.8,112.8 L972.6,114.7 L975.4,116.6 L978.2,118.5 L981.0,120.4 L983.8,122.4 L986.6,124.4 L989.4,126.5 L992.2,128.5 L995.0,130.7 L997.8,132.8 L1000.6,135.0 L1003.4,137.2 L1006.2,139.5 L1009.0,141.8 L1011.8,144.1 L1014.6,146.5 L1017.4,148.9 L1020.2,151.4 L1023.0,153.9 L1025.8,156.4 L1028.6,159.0 L1031.4,161.6 L1034.2,164.3 L1037.0,167.1 L1039.8,169.9 L1042.6,172.7 L1045.4,175.6 L1048.2,178.5 L1051.0,181.5 L1053.8,184.6 L1056.6,187.7 L1059.4,190.9 L1062.2,194.1 L1065.0,197.4 L1067.8,200.7 L1070.6,204.1 L1073.4,207.5 L1076.2,211.1 L1079.0,214.6 L1081.8,218.2 L1084.6,221.9 L1087.4,225.6 L1090.2,229.4 L1093.0,233.2 L1095.8,237.0 L1098.6,240.9 L1101.4,244.7 L1104.2,248.6 L1107.0,252.5 L1109.8,256.3 L1112.6,260.0 L1115.4,263.7 L1118.2,267.3 L1121.0,270.6 L1123.8,273.7 L1126.6,276.4 L1129.4,278.6 L1132.2,280.0 L1135.0,280.2 L1137.8,280.0 L1140.6,279.6 L1143.4,279.0 L1146.2,278.1 L1149.0,277.1 L1151.8,275.8 L1154.6,274.5 L1157.4,273.0 L1160.2,271.4 L1163.0,269.6 L1165.8,267.8 L1168.6,265.9 L1171.4,263.9 L1174.2,261.8 L1177.0,259.7 L1179.8,257.5 L1182.6,255.2 L1185.4,252.8 L1188.2,250.4 L1191.0,248.0 L1193.8,245.5 L1196.6,242.9 L1199.4,240.3 L1202.2,237.7 L1205.0,235.0 L1207.8,232.2 L1210.6,229.4 L1213.4,226.6 L1216.2,223.7 L1219.0,220.8 L1221.8,217.9 L1224.6,214.9 L1227.4,211.9 L1230.2,208.8 L1233.0,205.7 L1235.8,202.6 L1238.6,199.5 L1241.4,196.3 L1244.2,193.1 L1247.0,189.8 L1249.8,186.6 L1252.6,183.3 L1255.4,180.0 L1258.2,176.6 L1261.0,173.3 L1263.8,169.9 L1266.6,166.5 L1269.4,163.1 L1272.2,159.6 L1275.0,156.2 L1277.8,152.7 L1280.6,149.2 L1283.4,145.7 L1286.2,142.2 L1289.0,138.7 L1291.8,135.1 L1294.6,131.6 L1297.4,128.1 L1300.2,124.5 L1303.0,121.0 L1305.8,117.5 L1308.6,114.0 L1311.4,110.5 L1314.2,107.1 L1317.0,103.7 L1319.8,100.4 L1322.6,97.1 L1325.4,94.0 L1328.2,91.0 L1331.0,88.1 L1333.8,85.3 L1336.6,82.7 L1339.4,80.1 L1342.2,77.7 L1345.0,75.4 L1347.8,73.1 L1350.6,70.9 L1353.4,68.7 L1356.2,66.5 L1359.0,64.3 L1361.8,62.1 L1364.6,60.0 L1367.4,57.8 L1370.2,55.7 L1373.0,53.5 L1375.8,51.4 L1378.6,49.3 L1381.4,47.1 L1384.2,45.0 L1387.0,42.9 L1389.8,40.8 L1392.6,38.7 L1395.4,36.6 L1398.2,34.5 L1401.0,32.5 L1403.8,30.4 L1406.6,28.3 L1409.4,26.3 L1412.2,24.2 L1415.0,22.2"/>
<path stroke="#2f7a6d" d="M855.0,49.0 L857.8,50.1 L860.6,51.1 L863.4,52.2 L866.2,53.3 L869.0,54.4 L871.8,55.6 L874.6,56.7 L877.4,57.9 L880.2,59.0 L883.0,60.2 L885.8,61.4 L888.6,62.6 L891.4,63.8 L894.2,65.1 L897.0,66.3 L899.8,67.6 L902.6,68.9 L905.4,70.2 L908.2,71.5 L911.0,72.9 L913.8,74.2 L916.6,75.6 L919.4,77.0 L922.2,78.4 L925.0,79.8 L927.8,81.3 L930.6,82.7 L933.4,84.2 L936.2,85.7 L939.0,87.3 L941.8,88.8 L944.6,90.4 L947.4,92.0 L950.2,93.6 L953.0,95.2 L955.8,96.9 L958.6,98.6 L961.4,100.3 L964.2,102.0 L967.0,103.8 L969.8,105.6 L972.6,107.4 L975.4,109.2 L978.2,111.1 L981.0,113.0 L983.8,114.9 L986.6,116.9 L989.4,118.9 L992.2,120.9 L995.0,122.9 L997.8,125.0 L1000.6,127.1 L1003.4,129.3 L1006.2,131.4 L1009.0,133.7 L1011.8,135.9 L1014.6,138.2 L1017.4,140.6 L1020.2,142.9 L1023.0,145.3 L1025.8,147.8 L1028.6,150.3 L1031.4,152.8 L1034.2,155.4 L1037.0,158.0 L1039.8,160.7 L1042.6,163.4 L1045.4,166.2 L1048.2,169.0 L1051.0,171.9 L1053.8,174.8 L1056.6,177.8 L1059.4,180.8 L1062.2,183.9 L1065.0,187.0 L1067.8,190.2 L1070.6,193.4 L1073.4,196.8 L1076.2,200.1 L1079.0,203.5 L1081.8,207.0 L1084.6,210.6 L1087.4,214.2 L1090.2,217.8 L1093.0,221.5 L1095.8,225.3 L1098.6,229.1 L1101.4,233.0 L1104.2,236.9 L1107.0,240.8 L1109.8,244.8 L1112.6,248.8 L1115.4,252.8 L1118.2,256.8 L1121.0,260.7 L1123.8,264.6 L1126.6,268.3 L1129.4,271.8 L1132.2,274.9 L1135.0,277.5 L1137.8,279.1 L1140.6,279.5 L1143.4,279.3 L1146.2,279.0 L1149.0,278.5 L1151.8,277.8 L1154.6,277.0 L1157.4,276.1 L1160.2,275.0 L1163.0,273.8 L1165.8,272.5 L1168.6,271.1 L1171.4,269.6 L1174.2,268.0 L1177.0,266.4 L1179.8,264.6 L1182.6,262.8 L1185.4,260.9 L1188.2,258.9 L1191.0,256.8 L1193.8,254.7 L1196.6,252.5 L1199.4,250.2 L1202.2,247.9 L1205.0,245.5 L1207.8,243.0 L1210.6,240.5 L1213.4,237.9 L1216.2,235.3 L1219.0,232.6 L1221.8,229.9 L1224.6,227.1 L1227.4,224.3 L1230.2,221.4 L1233.0,218.4 L1235.8,215.4 L1238.6,212.4 L1241.4,209.3 L1244.2,206.2 L1247.0,203.1 L1249.8,199.9 L1252.6,196.6 L1255.4,193.3 L1258.2,190.0 L1261.0,186.7 L1263.8,183.3 L1266.6,179.9 L1269.4,176.5 L1272.2,173.0 L1275.0,169.5 L1277.8,166.0 L1280.6,162.4 L1283.4,158.8 L1286.2,155.2 L1289.0,151.6 L1291.8,148.0 L1294.6,144.3 L1297.4,140.7 L1300.2,137.0 L1303.0,133.3 L1305.8,129.6 L1308.6,125.9 L1311.4,122.2 L1314.2,118.5 L1317.0,114.8 L1319.8,111.1 L1322.6,107.5 L1325.4,103.9 L1328.2,100.4 L1331.0,97.0 L1333.8,93.7 L1336.6,90.5 L1339.4,87.5 L1342.2,84.6 L1345.0,81.9 L1347.8,79.3 L1350.6,76.8 L1353.4,74.3 L1356.2,72.0 L1359.0,69.6 L1361.8,67.3 L1364.6,65.0 L1367.4,62.7 L1370.2,60.5 L1373.0,58.2 L1375.8,55.9 L1378.6,53.7 L1381.4,51.4 L1384.2,49.2 L1387.0,46.9 L1389.8,44.7 L1392.6,42.5 L1395.4,40.3 L1398.2,38.0 L1401.0,35.8 L1403.8,33.6 L1406.6,31.5 L1409.4,29.3 L1412.2,27.1 L1415.0,24.9"/>
<path stroke="#6ccfbd" d="M855.0,42.9 L857.8,43.9 L860.6,45.0 L863.4,46.1 L866.2,47.2 L869.0,48.3 L871.8,49.5 L874.6,50.6 L877.4,51.8 L880.2,52.9 L883.0,54.1 L885.8,55.3 L888.6,56.5 L891.4,57.8 L894.2,59.0 L897.0,60.3 L899.8,61.5 L902.6,62.8 L905.4,64.1 L908.2,65.4 L911.0,66.8 L913.8,68.1 L916.6,69.5 L919.4,70.9 L922.2,72.3 L925.0,73.7 L927.8,75.1 L930.6,76.6 L933.4,78.0 L936.2,79.5 L939.0,81.0 L941.8,82.6 L944.6,84.1 L947.4,85.7 L950.2,87.3 L953.0,88.9 L955.8,90.6 L958.6,92.2 L961.4,93.9 L964.2,95.6 L967.0,97.3 L969.8,99.1 L972.6,100.9 L975.4,102.7 L978.2,104.5 L981.0,106.4 L983.8,108.3 L986.6,110.2 L989.4,112.1 L992.2,114.1 L995.0,116.1 L997.8,118.1 L1000.6,120.2 L1003.4,122.3 L1006.2,124.4 L1009.0,126.6 L1011.8,128.8 L1014.6,131.0 L1017.4,133.2 L1020.2,135.5 L1023.0,137.9 L1025.8,140.3 L1028.6,142.7 L1031.4,145.1 L1034.2,147.6 L1037.0,150.1 L1039.8,152.7 L1042.6,155.3 L1045.4,158.0 L1048.2,160.7 L1051.0,163.5 L1053.8,166.3 L1056.6,169.2 L1059.4,172.1 L1062.2,175.0 L1065.0,178.0 L1067.8,181.1 L1070.6,184.2 L1073.4,187.4 L1076.2,190.6 L1079.0,193.9 L1081.8,197.3 L1084.6,200.7 L1087.4,204.2 L1090.2,207.7 L1093.0,211.3 L1095.8,214.9 L1098.6,218.7 L1101.4,222.5 L1104.2,226.3 L1107.0,230.2 L1109.8,234.2 L1112.6,238.2 L1115.4,242.3 L1118.2,246.4 L1121.0,250.6 L1123.8,254.7 L1126.6,258.9 L1129.4,263.0 L1132.2,267.0 L1135.0,270.8 L1137.8,274.2 L1140.6,276.9 L1143.4,278.5 L1146.2,278.8 L1149.0,278.6 L1151.8,278.4 L1154.6,278.0 L1157.4,277.5 L1160.2,276.9 L1163.0,276.2 L1165.8,275.3 L1168.6,274.4 L1171.4,273.4 L1174.2,272.2 L1177.0,271.0 L1179.8,269.7 L1182.6,268.3 L1185.4,266.8 L1188.2,265.2 L1191.0,263.5 L1193.8,261.8 L1196.6,259.9 L1199.4,258.0 L1202.2,256.0 L1205.0,254.0 L1207.8,251.8 L1210.6,249.6 L1213.4,247.3 L1216.2,244.9 L1219.0,242.5 L1221.8,240.0 L1224.6,237.4 L1227.4,234.8 L1230.2,232.1 L1233.0,229.4 L1235.8,226.5 L1238.6,223.7 L1241.4,220.7 L1244.2,217.7 L1247.0,214.7 L1249.8,211.6 L1252.6,208.4 L1255.4,205.2 L1258.2,202.0 L1261.0,198.7 L1263.8,195.4 L1266.6,192.0 L1269.4,188.5 L1272.2,185.1 L1275.0,181.6 L1277.8,178.0 L1280.6,174.5 L1283.4,170.9 L1286.2,167.2 L1289.0,163.5 L1291.8,159.8 L1294.6,156.1 L1297.4,152.4 L1300.2,148.6 L1303.0,144.8 L1305.8,141.0 L1308.6,137.1 L1311.4,133.3 L1314.2,129.4 L1317.0,125.6 L1319.8,121.7 L1322.6,117.8 L1325.4,114.0 L1328.2,110.1 L1331.0,106.3 L1333.8,102.6 L1336.6,98.9 L1339.4,95.4 L1342.2,92.0 L1345.0,88.7 L1347.8,85.7 L1350.6,82.8 L1353.4,80.1 L1356.2,77.5 L1359.0,74.9 L1361.8,72.5 L1364.6,70.0 L1367.4,67.6 L1370.2,65.2 L1373.0,62.8 L1375.8,60.4 L1378.6,58.0 L1381.4,55.7 L1384.2,53.3 L1387.0,50.9 L1389.8,48.6 L1392.6,46.2 L1395.4,43.9 L1398.2,41.6 L1401.0,39.3 L1403.8,37.0 L1406.6,34.7 L1409.4,32.4 L1412.2,30.1 L1415.0,27.8"/>
<path stroke="#4fa393" d="M855.0,39.2 L857.8,40.3 L860.6,41.4 L863.4,42.5 L866.2,43.6 L869.0,44.7 L871.8,45.9 L874.6,47.0 L877.4,48.2 L880.2,49.3 L883.0,50.5 L885.8,51.7 L888.6,52.9 L891.4,54.2 L894.2,55.4 L897.0,56.6 L899.8,57.9 L902.6,59.2 L905.4,60.5 L908.2,61.8 L911.0,63.1 L913.8,64.5 L916.6,65.9 L919.4,67.2 L922.2,68.6 L925.0,70.0 L927.8,71.5 L930.6,72.9 L933.4,74.4 L936.2,75.9 L939.0,77.4 L941.8,78.9 L944.6,80.5 L947.4,82.0 L950.2,83.6 L953.0,85.2 L955.8,86.8 L958.6,88.5 L961.4,90.2 L964.2,91.8 L967.0,93.6 L969.8,95.3 L972.6,97.1 L975.4,98.9 L978.2,100.7 L981.0,102.5 L983.8,104.4 L986.6,106.3 L989.4,108.2 L992.2,110.1 L995.0,112.1 L997.8,114.1 L1000.6,116.1 L1003.4,118.2 L1006.2,120.3 L1009.0,122.4 L1011.8,124.6 L1014.6,126.8 L1017.4,129.0 L1020.2,131.3 L1023.0,133.6 L1025.8,135.9 L1028.6,138.3 L1031.4,140.7 L1034.2,143.1 L1037.0,145.6 L1039.8,148.1 L1042.6,150.7 L1045.4,153.3 L1048.2,156.0 L1051.0,158.7 L1053.8,161.4 L1056.6,164.2 L1059.4,167.0 L1062.2,169.9 L1065.0,172.9 L1067.8,175.9 L1070.6,178.9 L1073.4,182.0 L1076.2,185.2 L1079.0,188.4 L1081.8,191.7 L1084.6,195.0 L1087.4,198.4 L1090.2,201.8 L1093.0,205.4 L1095.8,209.0 L1098.6,212.6 L1101.4,216.3 L1104.2,220.1 L1107.0,224.0 L1109.8,227.9 L1112.6,231.9 L1115.4,236.0 L1118.2,240.1 L1121.0,244.3 L1123.8,248.5 L1126.6,252.8 L1129.4,257.1 L1132.2,261.4 L1135.0,265.6 L1137.8,269.6 L1140.6,273.3 L1143.4,276.2 L1146.2,278.0 L1149.0,278.3 L1151.8,278.2 L1154.6,278.0 L1157.4,277.7 L1160.2,277.2 L1163.0,276.5 L1165.8,275.7 L1168.6,274.7 L1171.4,273.5 L1174.2,272.1 L1177.0,270.5 L1179.8,268.8 L1182.6,266.8 L1185.4,264.7 L1188.2,262.5 L1191.0,260.1 L1193.8,257.5 L1196.6,254.8 L1199.4,252.1 L1202.2,249.2 L1205.0,246.3 L1207.8,243.4 L1210.6,240.4 L1213.4,237.5 L1216.2,234.5 L1219.0,231.7 L1221.8,228.9 L1224.6,226.0 L1227.4,223.1 L1230.2,220.1 L1233.0,217.1 L1235.8,214.0 L1238.6,210.8 L1241.4,207.6 L1244.2,204.3 L1247.0,201.0 L1249.8,197.6 L1252.6,194.2 L1255.4,190.7 L1258.2,187.2 L1261.0,183.7 L1263.8,180.1 L1266.6,176.5 L1269.4,172.8 L1272.2,169.1 L1275.0,165.4 L1277.8,161.6 L1280.6,157.8 L1283.4,154.0 L1286.2,150.1 L1289.0,146.2 L1291.8,142.3 L1294.6,138.4 L1297.4,134.5 L1300.2,130.5 L1303.0,126.5 L1305.8,122.5 L1308.6,118.6 L1311.4,114.6 L1314.2,110.6 L1317.0,106.7 L1319.8,102.8 L1322.6,99.1 L1325.4,95.4 L1328.2,91.9 L1331.0,88.7 L1333.8,85.6 L1336.6,82.6 L1339.4,79.9 L1342.2,77.2 L1345.0,74.6 L1347.8,72.1 L1350.6,69.6 L1353.4,67.1 L1356.2,64.6 L1359.0,62.2 L1361.8,59.7 L1364.6,57.3 L1367.4,54.9 L1370.2,52.4 L1373.0,50.0 L1375.8,47.6 L1378.6,45.2 L1381.4,42.8 L1384.2,40.4 L1387.0,38.1 L1389.8,35.7 L1392.6,33.3 L1395.4,31.0 L1398.2,28.7 L1401.0,26.3 L1403.8,24.0 L1406.6,21.7 L1409.4,19.4 L1412.2,17.1 L1415.0,14.9"/>
<path stroke="#78d8c6" d="M855.0,37.5 L857.8,38.6 L860.6,39.7 L863.4,40.7 L866.2,41.8 L869.0,43.0 L871.8,44.1 L874.6,45.2 L877.4,46.4 L880.2,47.5 L883.0,48.7 L885.8,49.9 L888.6,51.1 L891.4,52.3 L894.2,53.5 L897.0,54.7 L899.8,56.0 L902.6,57.3 L905.4,58.6 L908.2,59.9 L911.0,61.2 L913.8,62.5 L916.6,63.9 L919.4,65.2 L922.2,66.6 L925.0,68.0 L927.8,69.4 L930.6,70.9 L933.4,72.3 L936.2,73.8 L939.0,75.3 L941.8,76.8 L944.6,78.3 L947.4,79.9 L950.2,81.4 L953.0,83.0 L955.8,84.6 L958.6,86.3 L961.4,87.9 L964.2,89.6 L967.0,91.3 L969.8,93.0 L972.6,94.7 L975.4,96.5 L978.2,98.3 L981.0,100.1 L983.8,102.0 L986.6,103.9 L989.4,105.8 L992.2,107.7 L995.0,109.6 L997.8,111.6 L1000.6,113.6 L1003.4,115.7 L1006.2,117.8 L1009.0,119.9 L1011.8,122.0 L1014.6,124.2 L1017.4,126.4 L1020.2,128.6 L1023.0,130.9 L1025.8,133.2 L1028.6,135.5 L1031.4,137.9 L1034.2,140.3 L1037.0,142.8 L1039.8,145.3 L1042.6,147.9 L1045.4,150.4 L1048.2,153.1 L1051.0,155.8 L1053.8,158.5 L1056.6,161.2 L1059.4,164.1 L1062.2,166.9 L1065.0,169.8 L1067.8,172.8 L1070.6,175.8 L1073.4,178.9 L1076.2,182.0 L1079.0,185.2 L1081.8,188.5 L1084.6,191.8 L1087.4,195.1 L1090.2,198.6 L1093.0,202.1 L1095.8,205.6 L1098.6,209.2 L1101.4,212.9 L1104.2,216.7 L1107.0,220.5 L1109.8,224.4 L1112.6,228.4 L1115.4,232.4 L1118.2,236.5 L1121.0,240.6 L1123.8,244.9 L1126.6,249.1 L1129.4,253.4 L1132.2,257.7 L1135.0,261.9 L1137.8,266.1 L1140.6,270.1 L1143.4,273.6 L1146.2,276.4 L1149.0,278.1 L1151.8,278.3 L1154.6,278.2 L1157.4,277.9 L1160.2,277.6 L1163.0,277.1 L1165.8,276.4 L1168.6,275.5 L1171.4,274.5 L1174.2,273.4 L1177.0,272.0 L1179.8,270.4 L1182.6,268.7 L1185.4,266.8 L1188.2,264.7 L1191.0,262.5 L1193.8,260.2 L1196.6,257.7 L1199.4,255.1 L1202.2,252.4 L1205.0,249.6 L1207.8,246.7 L1210.6,243.8 L1213.4,240.9 L1216.2,238.0 L1219.0,235.2 L1221.8,232.4 L1224.6,229.6 L1227.4,226.8 L1230.2,223.8 L1233.0,220.9 L1235.8,217.9 L1238.6,214.8 L1241.4,211.6 L1244.2,208.4 L1247.0,205.2 L1249.8,201.9 L1252.6,198.5 L1255.4,195.1 L1258.2,191.7 L1261.0,188.2 L1263.8,184.7 L1266.6,181.1 L1269.4,177.5 L1272.2,173.8 L1275.0,170.2 L1277.8,166.4 L1280.6,162.7 L1283.4,158.9 L1286.2,155.1 L1289.0,151.3 L1291.8,147.4 L1294.6,143.5 L1297.4,139.6 L1300.2,135.7 L1303.0,131.7 L1305.8,127.8 L1308.6,123.8 L1311.4,119.8 L1314.2,115.9 L1317.0,111.9 L1319.8,108.0 L1322.6,104.1 L1325.4,100.3 L1328.2,96.6 L1331.0,93.1 L1333.8,89.7 L1336.6,86.6 L1339.4,83.6 L1342.2,80.8 L1345.0,78.1 L1347.8,75.5 L1350.6,72.9 L1353.4,70.4 L1356.2,67.9 L1359.0,65.5 L1361.8,63.0 L1364.6,60.6 L1367.4,58.1 L1370.2,55.7 L1373.0,53.3 L1375.8,50.8 L1378.6,48.4 L1381.4,46.0 L1384.2,43.6 L1387.0,41.2 L1389.8,38.8 L1392.6,36.5 L1395.4,34.1 L1398.2,31.7 L1401.0,29.4 L1403.8,27.0 L1406.6,24.7 L1409.4,22.4 L1412.2,20.1 L1415.0,17.8"/>
<path stroke="#3a8577" d="M855.0,36.1 L857.8,37.1 L860.6,38.2 L863.4,39.2 L866.2,40.3 L869.0,41.4 L871.8,42.5 L874.6,43.7 L877.4,44.8 L880.2,45.9 L883.0,47.1 L885.8,48.3 L888.6,49.5 L891.4,50.7 L894.2,51.9 L897.0,53.1 L899.8,54.4 L902.6,55.6 L905.4,56.9 L908.2,58.2 L911.0,59.5 L913.8,60.8 L916.6,62.1 L919.4,63.5 L922.2,64.9 L925.0,66.2 L927.8,67.6 L930.6,69.1 L933.4,70.5 L936.2,72.0 L939.0,73.4 L941.8,74.9 L944.6,76.4 L947.4,78.0 L950.2,79.5 L953.0,81.1 L955.8,82.7 L958.6,84.3 L961.4,86.0 L964.2,87.6 L967.0,89.3 L969.8,91.0 L972.6,92.7 L975.4,94.5 L978.2,96.3 L981.0,98.1 L983.8,99.9 L986.6,101.8 L989.4,103.7 L992.2,105.6 L995.0,107.5 L997.8,109.5 L1000.6,111.5 L1003.4,113.5 L1006.2,115.6 L1009.0,117.6 L1011.8,119.8 L1014.6,121.9 L1017.4,124.1 L1020.2,126.3 L1023.0,128.6 L1025.8,130.9 L1028.6,133.2 L1031.4,135.6 L1034.2,138.0 L1037.0,140.4 L1039.8,142.9 L1042.6,145.4 L1045.4,148.0 L1048.2,150.6 L1051.0,153.2 L1053.8,155.9 L1056.6,158.7 L1059.4,161.5 L1062.2,164.3 L1065.0,167.2 L1067.8,170.2 L1070.6,173.2 L1073.4,176.2 L1076.2,179.3 L1079.0,182.5 L1081.8,185.7 L1084.6,189.0 L1087.4,192.3 L1090.2,195.7 L1093.0,199.2 L1095.8,202.7 L1098.6,206.3 L1101.4,210.0 L1104.2,213.7 L1107.0,217.5 L1109.8,221.4 L1112.6,225.3 L1115.4,229.3 L1118.2,233.4 L1121.0,237.5 L1123.8,241.7 L1126.6,245.9 L1129.4,250.2 L1132.2,254.5 L1135.0,258.8 L1137.8,263.0 L1140.6,267.1 L1143.4,270.9 L1146.2,274.3 L1149.0,276.9 L1151.8,278.2 L1154.6,278.2 L1157.4,278.1 L1160.2,277.8 L1163.0,277.4 L1165.8,276.9 L1168.6,276.2 L1171.4,275.3 L1174.2,274.3 L1177.0,273.1 L1179.8,271.7 L1182.6,270.1 L1185.4,268.4 L1188.2,266.5 L1191.0,264.5 L1193.8,262.3 L1196.6,259.9 L1199.4,257.5 L1202.2,254.9 L1205.0,252.2 L1207.8,249.5 L1210.6,246.7 L1213.4,243.9 L1216.2,241.0 L1219.0,238.2 L1221.8,235.3 L1224.6,232.6 L1227.4,229.8 L1230.2,227.0 L1233.0,224.1 L1235.8,221.1 L1238.6,218.1 L1241.4,215.0 L1244.2,211.9 L1247.0,208.7 L1249.8,205.5 L1252.6,202.2 L1255.4,198.8 L1258.2,195.5 L1261.0,192.0 L1263.8,188.6 L1266.6,185.0 L1269.4,181.5 L1272.2,177.9 L1275.0,174.2 L1277.8,170.6 L1280.6,166.9 L1283.4,163.1 L1286.2,159.4 L1289.0,155.6 L1291.8,151.7 L1294.6,147.9 L1297.4,144.0 L1300.2,140.1 L1303.0,136.2 L1305.8,132.3 L1308.6,128.3 L1311.4,124.3 L1314.2,120.4 L1317.0,116.4 L1319.8,112.5 L1322.6,108.5 L1325.4,104.6 L1328.2,100.8 L1331.0,97.1 L1333.8,93.6 L1336.6,90.2 L1339.4,87.1 L1342.2,84.1 L1345.0,81.2 L1347.8,78.5 L1350.6,75.9 L1353.4,73.3 L1356.2,70.8 L1359.0,68.3 L1361.8,65.9 L1364.6,63.4 L1367.4,60.9 L1370.2,58.5 L1373.0,56.1 L1375.8,53.6 L1378.6,51.2 L1381.4,48.8 L1384.2,46.4 L1387.0,44.0 L1389.8,41.6 L1392.6,39.2 L1395.4,36.8 L1398.2,34.4 L1401.0,32.1 L1403.8,29.7 L1406.6,27.3 L1409.4,25.0 L1412.2,22.7 L1415.0,20.3"/>
<path stroke="#4fa393" d="M855.0,34.7 L857.8,35.7 L860.6,36.8 L863.4,37.8 L866.2,38.9 L869.0,40.0 L871.8,41.1 L874.6,42.2 L877.4,43.3 L880.2,44.5 L883.0,45.6 L885.8,46.8 L888.6,48.0 L891.4,49.1 L894.2,50.3 L897.0,51.6 L899.8,52.8 L902.6,54.0 L905.4,55.3 L908.2,56.6 L911.0,57.9 L913.8,59.2 L916.6,60.5 L919.4,61.9 L922.2,63.2 L925.0,64.6 L927.8,66.0 L930.6,67.4 L933.4,68.8 L936.2,70.3 L939.0,71.7 L941.8,73.2 L944.6,74.7 L947.4,76.2 L950.2,77.8 L953.0,79.3 L955.8,80.9 L958.6,82.5 L961.4,84.1 L964.2,85.8 L967.0,87.4 L969.8,89.1 L972.6,90.9 L975.4,92.6 L978.2,94.4 L981.0,96.1 L983.8,98.0 L986.6,99.8 L989.4,101.7 L992.2,103.6 L995.0,105.5 L997.8,107.4 L1000.6,109.4 L1003.4,111.4 L1006.2,113.5 L1009.0,115.5 L1011.8,117.6 L1014.6,119.8 L1017.4,121.9 L1020.2,124.2 L1023.0,126.4 L1025.8,128.7 L1028.6,131.0 L1031.4,133.3 L1034.2,135.7 L1037.0,138.1 L1039.8,140.6 L1042.6,143.1 L1045.4,145.6 L1048.2,148.2 L1051.0,150.9 L1053.8,153.5 L1056.6,156.3 L1059.4,159.0 L1062.2,161.9 L1065.0,164.7 L1067.8,167.7 L1070.6,170.6 L1073.4,173.7 L1076.2,176.7 L1079.0,179.9 L1081.8,183.1 L1084.6,186.3 L1087.4,189.7 L1090.2,193.0 L1093.0,196.5 L1095.8,200.0 L1098.6,203.6 L1101.4,207.2 L1104.2,210.9 L1107.0,214.7 L1109.8,218.5 L1112.6,222.4 L1115.4,226.4 L1118.2,230.4 L1121.0,234.5 L1123.8,238.7 L1126.6,242.9 L1129.4,247.2 L1132.2,251.4 L1135.0,255.7 L1137.8,260.0 L1140.6,264.2 L1143.4,268.2 L1146.2,271.9 L1149.0,275.1 L1151.8,277.3 L1154.6,278.2 L1157.4,278.1 L1160.2,277.9 L1163.0,277.7 L1165.8,277.2 L1168.6,276.7 L1171.4,275.9 L1174.2,275.0 L1177.0,274.0 L1179.8,272.7 L1182.6,271.3 L1185.4,269.8 L1188.2,268.0 L1191.0,266.2 L1193.8,264.1 L1196.6,261.9 L1199.4,259.6 L1202.2,257.2 L1205.0,254.6 L1207.8,252.0 L1210.6,249.3 L1213.4,246.5 L1216.2,243.7 L1219.0,240.9 L1221.8,238.1 L1224.6,235.3 L1227.4,232.6 L1230.2,229.9 L1233.0,227.0 L1235.8,224.1 L1238.6,221.2 L1241.4,218.2 L1244.2,215.1 L1247.0,212.0 L1249.8,208.8 L1252.6,205.6 L1255.4,202.3 L1258.2,199.0 L1261.0,195.6 L1263.8,192.2 L1266.6,188.7 L1269.4,185.2 L1272.2,181.6 L1275.0,178.0 L1277.8,174.4 L1280.6,170.7 L1283.4,167.1 L1286.2,163.3 L1289.0,159.6 L1291.8,155.8 L1294.6,152.0 L1297.4,148.1 L1300.2,144.3 L1303.0,140.4 L1305.8,136.5 L1308.6,132.5 L1311.4,128.6 L1314.2,124.6 L1317.0,120.7 L1319.8,116.7 L1322.6,112.8 L1325.4,108.8 L1328.2,105.0 L1331.0,101.2 L1333.8,97.5 L1336.6,93.9 L1339.4,90.5 L1342.2,87.3 L1345.0,84.3 L1347.8,81.5 L1350.6,78.8 L1353.4,76.1 L1356.2,73.6 L1359.0,71.1 L1361.8,68.6 L1364.6,66.1 L1367.4,63.6 L1370.2,61.2 L1373.0,58.7 L1375.8,56.3 L1378.6,53.9 L1381.4,51.4 L1384.2,49.0 L1387.0,46.6 L1389.8,44.2 L1392.6,41.8 L1395.4,39.4 L1398.2,37.0 L1401.0,34.6 L1403.8,32.2 L1406.6,29.9 L1409.4,27.5 L1412.2,25.1 L1415.0,22.8"/>
<path stroke="#2f7a6d" d="M855.0,33.3 L857.8,34.4 L860.6,35.4 L863.4,36.5 L866.2,37.5 L869.0,38.6 L871.8,39.7 L874.6,40.8 L877.4,41.9 L880.2,43.0 L883.0,44.2 L885.8,45.3 L888.6,46.5 L891.4,47.7 L894.2,48.9 L897.0,50.1 L899.8,51.3 L902.6,52.5 L905.4,53.8 L908.2,55.1 L911.0,56.3 L913.8,57.6 L916.6,58.9 L919.4,60.3 L922.2,61.6 L925.0,63.0 L927.8,64.4 L930.6,65.8 L933.4,67.2 L936.2,68.6 L939.0,70.1 L941.8,71.5 L944.6,73.0 L947.4,74.5 L950.2,76.1 L953.0,77.6 L955.8,79.2 L958.6,80.8 L961.4,82.4 L964.2,84.0 L967.0,85.7 L969.8,87.3 L972.6,89.0 L975.4,90.8 L978.2,92.5 L981.0,94.3 L983.8,96.1 L986.6,97.9 L989.4,99.8 L992.2,101.6 L995.0,103.6 L997.8,105.5 L1000.6,107.5 L1003.4,109.4 L1006.2,111.5 L1009.0,113.5 L1011.8,115.6 L1014.6,117.7 L1017.4,119.9 L1020.2,122.1 L1023.0,124.3 L1025.8,126.5 L1028.6,128.8 L1031.4,131.2 L1034.2,133.5 L1037.0,135.9 L1039.8,138.4 L1042.6,140.9 L1045.4,143.4 L1048.2,146.0 L1051.0,148.6 L1053.8,151.2 L1056.6,153.9 L1059.4,156.7 L1062.2,159.5 L1065.0,162.3 L1067.8,165.2 L1070.6,168.2 L1073.4,171.2 L1076.2,174.3 L1079.0,177.4 L1081.8,180.6 L1084.6,183.8 L1087.4,187.1 L1090.2,190.4 L1093.0,193.9 L1095.8,197.3 L1098.6,200.9 L1101.4,204.5 L1104.2,208.2 L1107.0,211.9 L1109.8,215.7 L1112.6,219.6 L1115.4,223.6 L1118.2,227.6 L1121.0,231.7 L1123.8,235.8 L1126.6,240.0 L1129.4,244.2 L1132.2,248.5 L1135.0,252.8 L1137.8,257.1 L1140.6,261.3 L1143.4,265.5 L1146.2,269.4 L1149.0,272.9 L1151.8,275.8 L1154.6,277.7 L1157.4,278.1 L1160.2,278.0 L1163.0,277.8 L1165.8,277.5 L1168.6,277.0 L1171.4,276.4 L1174.2,275.7 L1177.0,274.7 L1179.8,273.6 L1182.6,272.4 L1185.4,271.0 L1188.2,269.4 L1191.0,267.6 L1193.8,265.7 L1196.6,263.7 L1199.4,261.5 L1202.2,259.2 L1205.0,256.8 L1207.8,254.3 L1210.6,251.7 L1213.4,249.0 L1216.2,246.3 L1219.0,243.5 L1221.8,240.8 L1224.6,238.0 L1227.4,235.3 L1230.2,232.6 L1233.0,229.8 L1235.8,227.0 L1238.6,224.1 L1241.4,221.1 L1244.2,218.1 L1247.0,215.1 L1249.8,211.9 L1252.6,208.8 L1255.4,205.5 L1258.2,202.3 L1261.0,198.9 L1263.8,195.6 L1266.6,192.1 L1269.4,188.7 L1272.2,185.2 L1275.0,181.6 L1277.8,178.1 L1280.6,174.4 L1283.4,170.8 L1286.2,167.1 L1289.0,163.4 L1291.8,159.6 L1294.6,155.8 L1297.4,152.0 L1300.2,148.2 L1303.0,144.3 L1305.8,140.5 L1308.6,136.6 L1311.4,132.6 L1314.2,128.7 L1317.0,124.8 L1319.8,120.8 L1322.6,116.9 L1325.4,112.9 L1328.2,109.0 L1331.0,105.1 L1333.8,101.3 L1336.6,97.6 L1339.4,94.1 L1342.2,90.7 L1345.0,87.5 L1347.8,84.5 L1350.6,81.6 L1353.4,78.9 L1356.2,76.3 L1359.0,73.7 L1361.8,71.2 L1364.6,68.7 L1367.4,66.2 L1370.2,63.8 L1373.0,61.3 L1375.8,58.9 L1378.6,56.4 L1381.4,54.0 L1384.2,51.5 L1387.0,49.1 L1389.8,46.7 L1392.6,44.3 L1395.4,41.9 L1398.2,39.5 L1401.0,37.1 L1403.8,34.7 L1406.6,32.3 L1409.4,29.9 L1412.2,27.6 L1415.0,25.2"/>
<path stroke="#5db3a3" d="M855.0,32.0 L857.8,33.1 L860.6,34.1 L863.4,35.1 L866.2,36.2 L869.0,37.3 L871.8,38.3 L874.6,39.4 L877.4,40.5 L880.2,41.7 L883.0,42.8 L885.8,43.9 L888.6,45.1 L891.4,46.3 L894.2,47.4 L897.0,48.6 L899.8,49.9 L902.6,51.1 L905.4,52.3 L908.2,53.6 L911.0,54.8 L913.8,56.1 L916.6,57.4 L919.4,58.7 L922.2,60.1 L925.0,61.4 L927.8,62.8 L930.6,64.2 L933.4,65.6 L936.2,67.0 L939.0,68.4 L941.8,69.9 L944.6,71.4 L947.4,72.9 L950.2,74.4 L953.0,75.9 L955.8,77.5 L958.6,79.1 L961.4,80.7 L964.2,82.3 L967.0,83.9 L969.8,85.6 L972.6,87.3 L975.4,89.0 L978.2,90.7 L981.0,92.5 L983.8,94.3 L986.6,96.1 L989.4,97.9 L992.2,99.8 L995.0,101.7 L997.8,103.6 L1000.6,105.5 L1003.4,107.5 L1006.2,109.5 L1009.0,111.6 L1011.8,113.6 L1014.6,115.7 L1017.4,117.9 L1020.2,120.0 L1023.0,122.2 L1025.8,124.5 L1028.6,126.8 L1031.4,129.1 L1034.2,131.4 L1037.0,133.8 L1039.8,136.2 L1042.6,138.7 L1045.4,141.2 L1048.2,143.8 L1051.0,146.3 L1053.8,149.0 L1056.6,151.7 L1059.4,154.4 L1062.2,157.2 L1065.0,160.0 L1067.8,162.9 L1070.6,165.8 L1073.4,168.8 L1076.2,171.9 L1079.0,174.9 L1081.8,178.1 L1084.6,181.3 L1087.4,184.6 L1090.2,187.9 L1093.0,191.3 L1095.8,194.8 L1098.6,198.3 L1101.4,201.9 L1104.2,205.5 L1107.0,209.2 L1109.8,213.0 L1112.6,216.9 L1115.4,220.8 L1118.2,224.8 L1121.0,228.9 L1123.8,233.0 L1126.6,237.1 L1129.4,241.4 L1132.2,245.6 L1135.0,249.9 L1137.8,254.2 L1140.6,258.5 L1143.4,262.7 L1146.2,266.8 L1149.0,270.6 L1151.8,273.9 L1154.6,276.5 L1157.4,277.9 L1160.2,278.0 L1163.0,277.9 L1165.8,277.7 L1168.6,277.3 L1171.4,276.8 L1174.2,276.2 L1177.0,275.4 L1179.8,274.4 L1182.6,273.3 L1185.4,272.0 L1188.2,270.6 L1191.0,269.0 L1193.8,267.2 L1196.6,265.3 L1199.4,263.2 L1202.2,261.1 L1205.0,258.8 L1207.8,256.4 L1210.6,253.9 L1213.4,251.3 L1216.2,248.7 L1219.0,246.0 L1221.8,243.3 L1224.6,240.5 L1227.4,237.8 L1230.2,235.1 L1233.0,232.4 L1235.8,229.7 L1238.6,226.8 L1241.4,223.9 L1244.2,221.0 L1247.0,218.0 L1249.8,214.9 L1252.6,211.8 L1255.4,208.6 L1258.2,205.4 L1261.0,202.1 L1263.8,198.8 L1266.6,195.4 L1269.4,192.0 L1272.2,188.6 L1275.0,185.1 L1277.8,181.5 L1280.6,178.0 L1283.4,174.3 L1286.2,170.7 L1289.0,167.0 L1291.8,163.3 L1294.6,159.6 L1297.4,155.8 L1300.2,152.0 L1303.0,148.2 L1305.8,144.3 L1308.6,140.4 L1311.4,136.5 L1314.2,132.6 L1317.0,128.7 L1319.8,124.8 L1322.6,120.8 L1325.4,116.9 L1328.2,112.9 L1331.0,109.0 L1333.8,105.2 L1336.6,101.4 L1339.4,97.7 L1342.2,94.1 L1345.0,90.7 L1347.8,87.5 L1350.6,84.5 L1353.4,81.7 L1356.2,78.9 L1359.0,76.3 L1361.8,73.8 L1364.6,71.2 L1367.4,68.7 L1370.2,66.3 L1373.0,63.8 L1375.8,61.3 L1378.6,58.9 L1381.4,56.5 L1384.2,54.0 L1387.0,51.6 L1389.8,49.2 L1392.6,46.7 L1395.4,44.3 L1398.2,41.9 L1401.0,39.5 L1403.8,37.1 L1406.6,34.7 L1409.4,32.3 L1412.2,29.9 L1415.0,27.5"/>
<path stroke="#4fa393" d="M855.0,30.8 L857.8,31.8 L860.6,32.8 L863.4,33.8 L866.2,34.9 L869.0,36.0 L871.8,37.0 L874.6,38.1 L877.4,39.2 L880.2,40.3 L883.0,41.4 L885.8,42.6 L888.6,43.7 L891.4,44.9 L894.2,46.0 L897.0,47.2 L899.8,48.4 L902.6,49.7 L905.4,50.9 L908.2,52.1 L911.0,53.4 L913.8,54.7 L916.6,56.0 L919.4,57.3 L922.2,58.6 L925.0,59.9 L927.8,61.3 L930.6,62.7 L933.4,64.0 L936.2,65.5 L939.0,66.9 L941.8,68.3 L944.6,69.8 L947.4,71.3 L950.2,72.8 L953.0,74.3 L955.8,75.8 L958.6,77.4 L961.4,79.0 L964.2,80.6 L967.0,82.2 L969.8,83.9 L972.6,85.5 L975.4,87.2 L978.2,89.0 L981.0,90.7 L983.8,92.5 L986.6,94.3 L989.4,96.1 L992.2,98.0 L995.0,99.8 L997.8,101.7 L1000.6,103.7 L1003.4,105.6 L1006.2,107.6 L1009.0,109.6 L1011.8,111.7 L1014.6,113.8 L1017.4,115.9 L1020.2,118.1 L1023.0,120.2 L1025.8,122.5 L1028.6,124.7 L1031.4,127.0 L1034.2,129.3 L1037.0,131.7 L1039.8,134.1 L1042.6,136.6 L1045.4,139.1 L1048.2,141.6 L1051.0,144.2 L1053.8,146.8 L1056.6,149.5 L1059.4,152.2 L1062.2,154.9 L1065.0,157.7 L1067.8,160.6 L1070.6,163.5 L1073.4,166.5 L1076.2,169.5 L1079.0,172.6 L1081.8,175.7 L1084.6,178.9 L1087.4,182.1 L1090.2,185.4 L1093.0,188.8 L1095.8,192.2 L1098.6,195.7 L1101.4,199.3 L1104.2,202.9 L1107.0,206.6 L1109.8,210.4 L1112.6,214.2 L1115.4,218.1 L1118.2,222.1 L1121.0,226.1 L1123.8,230.2 L1126.6,234.4 L1129.4,238.6 L1132.2,242.8 L1135.0,247.1 L1137.8,251.4 L1140.6,255.7 L1143.4,260.0 L1146.2,264.1 L1149.0,268.1 L1151.8,271.7 L1154.6,274.8 L1157.4,277.0 L1160.2,278.0 L1163.0,278.0 L1165.8,277.8 L1168.6,277.5 L1171.4,277.1 L1174.2,276.6 L1177.0,275.9 L1179.8,275.0 L1182.6,274.0 L1185.4,272.9 L1188.2,271.6 L1191.0,270.1 L1193.8,268.5 L1196.6,266.7 L1199.4,264.8 L1202.2,262.8 L1205.0,260.6 L1207.8,258.3 L1210.6,255.9 L1213.4,253.5 L1216.2,250.9 L1219.0,248.3 L1221.8,245.6 L1224.6,243.0 L1227.4,240.3 L1230.2,237.6 L1233.0,234.9 L1235.8,232.2 L1238.6,229.4 L1241.4,226.6 L1244.2,223.7 L1247.0,220.8 L1249.8,217.8 L1252.6,214.7 L1255.4,211.6 L1258.2,208.4 L1261.0,205.2 L1263.8,201.9 L1266.6,198.6 L1269.4,195.2 L1272.2,191.8 L1275.0,188.4 L1277.8,184.9 L1280.6,181.3 L1283.4,177.8 L1286.2,174.2 L1289.0,170.5 L1291.8,166.9 L1294.6,163.1 L1297.4,159.4 L1300.2,155.6 L1303.0,151.8 L1305.8,148.0 L1308.6,144.2 L1311.4,140.3 L1314.2,136.4 L1317.0,132.5 L1319.8,128.6 L1322.6,124.7 L1325.4,120.7 L1328.2,116.8 L1331.0,112.9 L1333.8,109.0 L1336.6,105.1 L1339.4,101.3 L1342.2,97.6 L1345.0,94.1 L1347.8,90.7 L1350.6,87.5 L1353.4,84.5 L1356.2,81.6 L1359.0,78.9 L1361.8,76.3 L1364.6,73.7 L1367.4,71.2 L1370.2,68.7 L1373.0,66.3 L1375.8,63.8 L1378.6,61.3 L1381.4,58.9 L1384.2,56.4 L1387.0,54.0 L1389.8,51.6 L1392.6,49.1 L1395.4,46.7 L1398.2,44.3 L1401.0,41.9 L1403.8,39.5 L1406.6,37.0 L1409.4,34.6 L1412.2,32.2 L1415.0,29.9"/>
<path stroke="#2f7a6d" d="M855.0,29.5 L857.8,30.5 L860.6,31.6 L863.4,32.6 L866.2,33.6 L869.0,34.7 L871.8,35.7 L874.6,36.8 L877.4,37.9 L880.2,39.0 L883.0,40.1 L885.8,41.2 L888.6,42.4 L891.4,43.5 L894.2,44.7 L897.0,45.9 L899.8,47.1 L902.6,48.3 L905.4,49.5 L908.2,50.7 L911.0,52.0 L913.8,53.2 L916.6,54.5 L919.4,55.8 L922.2,57.1 L925.0,58.4 L927.8,59.8 L930.6,61.2 L933.4,62.5 L936.2,63.9 L939.0,65.3 L941.8,66.8 L944.6,68.2 L947.4,69.7 L950.2,71.2 L953.0,72.7 L955.8,74.2 L958.6,75.8 L961.4,77.4 L964.2,78.9 L967.0,80.6 L969.8,82.2 L972.6,83.9 L975.4,85.5 L978.2,87.3 L981.0,89.0 L983.8,90.7 L986.6,92.5 L989.4,94.3 L992.2,96.2 L995.0,98.0 L997.8,99.9 L1000.6,101.8 L1003.4,103.8 L1006.2,105.8 L1009.0,107.8 L1011.8,109.8 L1014.6,111.9 L1017.4,114.0 L1020.2,116.1 L1023.0,118.3 L1025.8,120.5 L1028.6,122.7 L1031.4,125.0 L1034.2,127.3 L1037.0,129.7 L1039.8,132.1 L1042.6,134.5 L1045.4,137.0 L1048.2,139.5 L1051.0,142.0 L1053.8,144.6 L1056.6,147.3 L1059.4,150.0 L1062.2,152.7 L1065.0,155.5 L1067.8,158.3 L1070.6,161.2 L1073.4,164.2 L1076.2,167.2 L1079.0,170.2 L1081.8,173.3 L1084.6,176.5 L1087.4,179.7 L1090.2,183.0 L1093.0,186.3 L1095.8,189.7 L1098.6,193.2 L1101.4,196.8 L1104.2,200.4 L1107.0,204.0 L1109.8,207.8 L1112.6,211.6 L1115.4,215.5 L1118.2,219.4 L1121.0,223.4 L1123.8,227.5 L1126.6,231.6 L1129.4,235.8 L1132.2,240.1 L1135.0,244.3 L1137.8,248.7 L1140.6,253.0 L1143.4,257.3 L1146.2,261.5 L1149.0,265.5 L1151.8,269.4 L1154.6,272.8 L1157.4,275.7 L1160.2,277.5 L1163.0,277.9 L1165.8,277.9 L1168.6,277.7 L1171.4,277.4 L1174.2,276.9 L1177.0,276.3 L1179.8,275.6 L1182.6,274.7 L1185.4,273.7 L1188.2,272.5 L1191.0,271.2 L1193.8,269.7 L1196.6,268.0 L1199.4,266.2 L1202.2,264.3 L1205.0,262.3 L1207.8,260.1 L1210.6,257.8 L1213.4,255.5 L1216.2,253.0 L1219.0,250.5 L1221.8,247.9 L1224.6,245.3 L1227.4,242.6 L1230.2,240.0 L1233.0,237.3 L1235.8,234.7 L1238.6,231.9 L1241.4,229.2 L1244.2,226.3 L1247.0,223.5 L1249.8,220.5 L1252.6,217.5 L1255.4,214.4 L1258.2,211.3 L1261.0,208.1 L1263.8,204.9 L1266.6,201.7 L1269.4,198.3 L1272.2,195.0 L1275.0,191.6 L1277.8,188.1 L1280.6,184.6 L1283.4,181.1 L1286.2,177.5 L1289.0,173.9 L1291.8,170.3 L1294.6,166.6 L1297.4,162.9 L1300.2,159.2 L1303.0,155.4 L1305.8,151.6 L1308.6,147.8 L1311.4,144.0 L1314.2,140.1 L1317.0,136.2 L1319.8,132.4 L1322.6,128.4 L1325.4,124.5 L1328.2,120.6 L1331.0,116.6 L1333.8,112.7 L1336.6,108.8 L1339.4,105.0 L1342.2,101.2 L1345.0,97.5 L1347.8,94.0 L1350.6,90.6 L1353.4,87.4 L1356.2,84.4 L1359.0,81.6 L1361.8,78.9 L1364.6,76.2 L1367.4,73.7 L1370.2,71.2 L1373.0,68.7 L1375.8,66.2 L1378.6,63.7 L1381.4,61.3 L1384.2,58.8 L1387.0,56.4 L1389.8,53.9 L1392.6,51.5 L1395.4,49.1 L1398.2,46.6 L1401.0,44.2 L1403.8,41.8 L1406.6,39.4 L1409.4,36.9 L1412.2,34.5 L1415.0,32.1"/>
<path stroke="#78d8c6" d="M855.0,28.3 L857.8,29.3 L860.6,30.3 L863.4,31.4 L866.2,32.4 L869.0,33.4 L871.8,34.5 L874.6,35.5 L877.4,36.6 L880.2,37.7 L883.0,38.8 L885.8,39.9 L888.6,41.1 L891.4,42.2 L894.2,43.3 L897.0,44.5 L899.8,45.7 L902.6,46.9 L905.4,48.1 L908.2,49.3 L911.0,50.6 L913.8,51.8 L916.6,53.1 L919.4,54.4 L922.2,55.7 L925.0,57.0 L927.8,58.3 L930.6,59.7 L933.4,61.0 L936.2,62.4 L939.0,63.8 L941.8,65.3 L944.6,66.7 L947.4,68.2 L950.2,69.6 L953.0,71.1 L955.8,72.7 L958.6,74.2 L961.4,75.8 L964.2,77.3 L967.0,78.9 L969.8,80.6 L972.6,82.2 L975.4,83.9 L978.2,85.6 L981.0,87.3 L983.8,89.0 L986.6,90.8 L989.4,92.6 L992.2,94.4 L995.0,96.3 L997.8,98.1 L1000.6,100.0 L1003.4,102.0 L1006.2,103.9 L1009.0,105.9 L1011.8,108.0 L1014.6,110.0 L1017.4,112.1 L1020.2,114.2 L1023.0,116.4 L1025.8,118.6 L1028.6,120.8 L1031.4,123.0 L1034.2,125.3 L1037.0,127.7 L1039.8,130.0 L1042.6,132.4 L1045.4,134.9 L1048.2,137.4 L1051.0,139.9 L1053.8,142.5 L1056.6,145.1 L1059.4,147.8 L1062.2,150.5 L1065.0,153.3 L1067.8,156.1 L1070.6,159.0 L1073.4,161.9 L1076.2,164.9 L1079.0,167.9 L1081.8,171.0 L1084.6,174.1 L1087.4,177.3 L1090.2,180.6 L1093.0,183.9 L1095.8,187.3 L1098.6,190.8 L1101.4,194.3 L1104.2,197.8 L1107.0,201.5 L1109.8,205.2 L1112.6,209.0 L1115.4,212.8 L1118.2,216.8 L1121.0,220.8 L1123.8,224.8 L1126.6,228.9 L1129.4,233.1 L1132.2,237.3 L1135.0,241.6 L1137.8,245.9 L1140.6,250.2 L1143.4,254.5 L1146.2,258.8 L1149.0,263.0 L1151.8,267.0 L1154.6,270.7 L1157.4,273.9 L1160.2,276.4 L1163.0,277.7 L1165.8,277.9 L1168.6,277.8 L1171.4,277.5 L1174.2,277.2 L1177.0,276.7 L1179.8,276.1 L1182.6,275.3 L1185.4,274.4 L1188.2,273.3 L1191.0,272.1 L1193.8,270.7 L1196.6,269.2 L1199.4,267.5 L1202.2,265.7 L1205.0,263.8 L1207.8,261.8 L1210.6,259.6 L1213.4,257.4 L1216.2,255.0 L1219.0,252.6 L1221.8,250.0 L1224.6,247.5 L1227.4,244.9 L1230.2,242.3 L1233.0,239.6 L1235.8,237.0 L1238.6,234.3 L1241.4,231.6 L1244.2,228.9 L1247.0,226.0 L1249.8,223.1 L1252.6,220.2 L1255.4,217.2 L1258.2,214.1 L1261.0,211.0 L1263.8,207.8 L1266.6,204.6 L1269.4,201.3 L1272.2,198.0 L1275.0,194.6 L1277.8,191.2 L1280.6,187.8 L1283.4,184.3 L1286.2,180.8 L1289.0,177.2 L1291.8,173.6 L1294.6,170.0 L1297.4,166.3 L1300.2,162.6 L1303.0,158.9 L1305.8,155.1 L1308.6,151.4 L1311.4,147.5 L1314.2,143.7 L1317.0,139.9 L1319.8,136.0 L1322.6,132.1 L1325.4,128.2 L1328.2,124.3 L1331.0,120.3 L1333.8,116.4 L1336.6,112.5 L1339.4,108.6 L1342.2,104.8 L1345.0,101.0 L1347.8,97.3 L1350.6,93.8 L1353.4,90.4 L1356.2,87.3 L1359.0,84.3 L1361.8,81.4 L1364.6,78.7 L1367.4,76.1 L1370.2,73.6 L1373.0,71.0 L1375.8,68.6 L1378.6,66.1 L1381.4,63.6 L1384.2,61.2 L1387.0,58.7 L1389.8,56.3 L1392.6,53.8 L1395.4,51.4 L1398.2,48.9 L1401.0,46.5 L1403.8,44.1 L1406.6,41.6 L1409.4,39.2 L1412.2,36.8 L1415.0,34.4"/>
<path stroke="#3a8577" d="M855.0,27.1 L857.8,28.1 L860.6,29.1 L863.4,30.1 L866.2,31.2 L869.0,32.2 L871.8,33.2 L874.6,34.3 L877.4,35.4 L880.2,36.4 L883.0,37.5 L885.8,38.6 L888.6,39.8 L891.4,40.9 L894.2,42.0 L897.0,43.2 L899.8,44.4 L902.6,45.5 L905.4,46.7 L908.2,48.0 L911.0,49.2 L913.8,50.4 L916.6,51.7 L919.4,53.0 L922.2,54.3 L925.0,55.6 L927.8,56.9 L930.6,58.2 L933.4,59.6 L936.2,61.0 L939.0,62.4 L941.8,63.8 L944.6,65.2 L947.4,66.6 L950.2,68.1 L953.0,69.6 L955.8,71.1 L958.6,72.6 L961.4,74.2 L964.2,75.7 L967.0,77.3 L969.8,78.9 L972.6,80.6 L975.4,82.2 L978.2,83.9 L981.0,85.6 L983.8,87.4 L986.6,89.1 L989.4,90.9 L992.2,92.7 L995.0,94.5 L997.8,96.4 L1000.6,98.3 L1003.4,100.2 L1006.2,102.1 L1009.0,104.1 L1011.8,106.1 L1014.6,108.2 L1017.4,110.2 L1020.2,112.3 L1023.0,114.5 L1025.8,116.6 L1028.6,118.8 L1031.4,121.1 L1034.2,123.4 L1037.0,125.7 L1039.8,128.0 L1042.6,130.4 L1045.4,132.9 L1048.2,135.3 L1051.0,137.9 L1053.8,140.4 L1056.6,143.0 L1059.4,145.7 L1062.2,148.4 L1065.0,151.1 L1067.8,153.9 L1070.6,156.8 L1073.4,159.7 L1076.2,162.6 L1079.0,165.6 L1081.8,168.7 L1084.6,171.8 L1087.4,175.0 L1090.2,178.2 L1093.0,181.5 L1095.8,184.9 L1098.6,188.3 L1101.4,191.8 L1104.2,195.4 L1107.0,199.0 L1109.8,202.7 L1112.6,206.4 L1115.4,210.3 L1118.2,214.2 L1121.0,218.1 L1123.8,222.2 L1126.6,226.3 L1129.4,230.4 L1132.2,234.6 L1135.0,238.9 L1137.8,243.2 L1140.6,247.5 L1143.4,251.8 L1146.2,256.1 L1149.0,260.4 L1151.8,264.5 L1154.6,268.4 L1157.4,271.9 L1160.2,274.8 L1163.0,277.0 L1165.8,277.8 L1168.6,277.8 L1171.4,277.6 L1174.2,277.4 L1177.0,277.0 L1179.8,276.4 L1182.6,275.8 L1185.4,275.0 L1188.2,274.0 L1191.0,272.9 L1193.8,271.6 L1196.6,270.3 L1199.4,268.7 L1202.2,267.0 L1205.0,265.2 L1207.8,263.3 L1210.6,261.3 L1213.4,259.1 L1216.2,256.8 L1219.0,254.5 L1221.8,252.1 L1224.6,249.6 L1227.4,247.1 L1230.2,244.5 L1233.0,241.9 L1235.8,239.3 L1238.6,236.7 L1241.4,234.0 L1244.2,231.3 L1247.0,228.5 L1249.8,225.7 L1252.6,222.8 L1255.4,219.8 L1258.2,216.8 L1261.0,213.7 L1263.8,210.6 L1266.6,207.4 L1269.4,204.2 L1272.2,200.9 L1275.0,197.6 L1277.8,194.3 L1280.6,190.9 L1283.4,187.4 L1286.2,183.9 L1289.0,180.4 L1291.8,176.8 L1294.6,173.2 L1297.4,169.6 L1300.2,165.9 L1303.0,162.3 L1305.8,158.5 L1308.6,154.8 L1311.4,151.0 L1314.2,147.2 L1317.0,143.4 L1319.8,139.5 L1322.6,135.7 L1325.4,131.8 L1328.2,127.9 L1331.0,124.0 L1333.8,120.0 L1336.6,116.1 L1339.4,112.2 L1342.2,108.3 L1345.0,104.5 L1347.8,100.7 L1350.6,97.1 L1353.4,93.6 L1356.2,90.2 L1359.0,87.1 L1361.8,84.1 L1364.6,81.3 L1367.4,78.6 L1370.2,76.0 L1373.0,73.4 L1375.8,70.9 L1378.6,68.4 L1381.4,65.9 L1384.2,63.5 L1387.0,61.0 L1389.8,58.6 L1392.6,56.1 L1395.4,53.7 L1398.2,51.2 L1401.0,48.8 L1403.8,46.3 L1406.6,43.9 L1409.4,41.5 L1412.2,39.1 L1415.0,36.6"/>
<path stroke="#4fa393" d="M855.0,26.0 L857.8,26.9 L860.6,27.9 L863.4,28.9 L866.2,30.0 L869.0,31.0 L871.8,32.0 L874.6,33.1 L877.4,34.1 L880.2,35.2 L883.0,36.3 L885.8,37.4 L888.6,38.5 L891.4,39.6 L894.2,40.7 L897.0,41.9 L899.8,43.1 L902.6,44.2 L905.4,45.4 L908.2,46.6 L911.0,47.8 L913.8,49.1 L916.6,50.3 L919.4,51.6 L922.2,52.9 L925.0,54.2 L927.8,55.5 L930.6,56.8 L933.4,58.2 L936.2,59.5 L939.0,60.9 L941.8,62.3 L944.6,63.7 L947.4,65.1 L950.2,66.6 L953.0,68.1 L955.8,69.6 L958.6,71.1 L961.4,72.6 L964.2,74.2 L967.0,75.8 L969.8,77.4 L972.6,79.0 L975.4,80.6 L978.2,82.3 L981.0,84.0 L983.8,85.7 L986.6,87.4 L989.4,89.2 L992.2,91.0 L995.0,92.8 L997.8,94.7 L1000.6,96.5 L1003.4,98.4 L1006.2,100.4 L1009.0,102.3 L1011.8,104.3 L1014.6,106.3 L1017.4,108.4 L1020.2,110.5 L1023.0,112.6 L1025.8,114.8 L1028.6,117.0 L1031.4,119.2 L1034.2,121.4 L1037.0,123.7 L1039.8,126.1 L1042.6,128.5 L1045.4,130.9 L1048.2,133.3 L1051.0,135.8 L1053.8,138.4 L1056.6,141.0 L1059.4,143.6 L1062.2,146.3 L1065.0,149.0 L1067.8,151.8 L1070.6,154.6 L1073.4,157.5 L1076.2,160.4 L1079.0,163.4 L1081.8,166.4 L1084.6,169.5 L1087.4,172.7 L1090.2,175.9 L1093.0,179.2 L1095.8,182.5 L1098.6,185.9 L1101.4,189.4 L1104.2,192.9 L1107.0,196.5 L1109.8,200.2 L1112.6,203.9 L1115.4,207.7 L1118.2,211.6 L1121.0,215.5 L1123.8,219.5 L1126.6,223.6 L1129.4,227.8 L1132.2,232.0 L1135.0,236.2 L1137.8,240.5 L1140.6,244.8 L1143.4,249.2 L1146.2,253.5 L1149.0,257.8 L1151.8,262.0 L1154.6,266.0 L1157.4,269.7 L1160.2,273.0 L1163.0,275.7 L1165.8,277.4 L1168.6,277.8 L1171.4,277.7 L1174.2,277.5 L1177.0,277.2 L1179.8,276.8 L1182.6,276.2 L1185.4,275.5 L1188.2,274.6 L1191.0,273.6 L1193.8,272.5 L1196.6,271.2 L1199.4,269.8 L1202.2,268.2 L1205.0,266.5 L1207.8,264.7 L1210.6,262.8 L1213.4,260.7 L1216.2,258.6 L1219.0,256.3 L1221.8,254.0 L1224.6,251.6 L1227.4,249.1 L1230.2,246.6 L1233.0,244.0 L1235.8,241.5 L1238.6,238.9 L1241.4,236.3 L1244.2,233.6 L1247.0,230.9 L1249.8,228.1 L1252.6,225.3 L1255.4,222.4 L1258.2,219.4 L1261.0,216.4 L1263.8,213.3 L1266.6,210.2 L1269.4,207.0 L1272.2,203.8 L1275.0,200.5 L1277.8,197.2 L1280.6,193.8 L1283.4,190.4 L1286.2,187.0 L1289.0,183.5 L1291.8,180.0 L1294.6,176.4 L1297.4,172.8 L1300.2,169.2 L1303.0,165.5 L1305.8,161.8 L1308.6,158.1 L1311.4,154.4 L1314.2,150.6 L1317.0,146.8 L1319.8,143.0 L1322.6,139.1 L1325.4,135.3 L1328.2,131.4 L1331.0,127.5 L1333.8,123.6 L1336.6,119.7 L1339.4,115.8 L1342.2,111.9 L1345.0,108.0 L1347.8,104.2 L1350.6,100.4 L1353.4,96.8 L1356.2,93.3 L1359.0,90.0 L1361.8,86.8 L1364.6,83.9 L1367.4,81.1 L1370.2,78.4 L1373.0,75.8 L1375.8,73.2 L1378.6,70.7 L1381.4,68.2 L1384.2,65.7 L1387.0,63.3 L1389.8,60.8 L1392.6,58.4 L1395.4,55.9 L1398.2,53.5 L1401.0,51.0 L1403.8,48.6 L1406.6,46.1 L1409.4,43.7 L1412.2,41.3 L1415.0,38.8"/>
<path stroke="#2f7a6d" d="M855.0,24.8 L857.8,25.8 L860.6,26.8 L863.4,27.8 L866.2,28.8 L869.0,29.8 L871.8,30.8 L874.6,31.9 L877.4,32.9 L880.2,34.0 L883.0,35.0 L885.8,36.1 L888.6,37.2 L891.4,38.3 L894.2,39.5 L897.0,40.6 L899.8,41.8 L902.6,42.9 L905.4,44.1 L908.2,45.3 L911.0,46.5 L913.8,47.7 L916.6,49.0 L919.4,50.2 L922.2,51.5 L925.0,52.8 L927.8,54.1 L930.6,55.4 L933.4,56.7 L936.2,58.1 L939.0,59.5 L941.8,60.8 L944.6,62.3 L947.4,63.7 L950.2,65.1 L953.0,66.6 L955.8,68.1 L958.6,69.6 L961.4,71.1 L964.2,72.6 L967.0,74.2 L969.8,75.8 L972.6,77.4 L975.4,79.0 L978.2,80.7 L981.0,82.4 L983.8,84.1 L986.6,85.8 L989.4,87.5 L992.2,89.3 L995.0,91.1 L997.8,93.0 L1000.6,94.8 L1003.4,96.7 L1006.2,98.6 L1009.0,100.6 L1011.8,102.6 L1014.6,104.6 L1017.4,106.6 L1020.2,108.7 L1023.0,110.8 L1025.8,112.9 L1028.6,115.1 L1031.4,117.3 L1034.2,119.5 L1037.0,121.8 L1039.8,124.1 L1042.6,126.5 L1045.4,128.9 L1048.2,131.3 L1051.0,133.8 L1053.8,136.3 L1056.6,138.9 L1059.4,141.5 L1062.2,144.2 L1065.0,146.9 L1067.8,149.6 L1070.6,152.4 L1073.4,155.3 L1076.2,158.2 L1079.0,161.2 L1081.8,164.2 L1084.6,167.3 L1087.4,170.4 L1090.2,173.6 L1093.0,176.9 L1095.8,180.2 L1098.6,183.5 L1101.4,187.0 L1104.2,190.5 L1107.0,194.1 L1109.8,197.7 L1112.6,201.4 L1115.4,205.2 L1118.2,209.1 L1121.0,213.0 L1123.8,217.0 L1126.6,221.0 L1129.4,225.1 L1132.2,229.3 L1135.0,233.6 L1137.8,237.8 L1140.6,242.2 L1143.4,246.5 L1146.2,250.8 L1149.0,255.2 L1151.8,259.4 L1154.6,263.5 L1157.4,267.4 L1160.2,271.0 L1163.0,274.1 L1165.8,276.4 L1168.6,277.6 L1171.4,277.7 L1174.2,277.6 L1177.0,277.4 L1179.8,277.0 L1182.6,276.5 L1185.4,275.9 L1188.2,275.1 L1191.0,274.3 L1193.8,273.2 L1196.6,272.0 L1199.4,270.7 L1202.2,269.3 L1205.0,267.7 L1207.8,266.0 L1210.6,264.2 L1213.4,262.2 L1216.2,260.2 L1219.0,258.0 L1221.8,255.8 L1224.6,253.5 L1227.4,251.1 L1230.2,248.6 L1233.0,246.1 L1235.8,243.6 L1238.6,241.0 L1241.4,238.5 L1244.2,235.9 L1247.0,233.2 L1249.8,230.5 L1252.6,227.7 L1255.4,224.8 L1258.2,221.9 L1261.0,218.9 L1263.8,215.9 L1266.6,212.8 L1269.4,209.7 L1272.2,206.5 L1275.0,203.3 L1277.8,200.0 L1280.6,196.7 L1283.4,193.3 L1286.2,189.9 L1289.0,186.5 L1291.8,183.0 L1294.6,179.5 L1297.4,175.9 L1300.2,172.3 L1303.0,168.7 L1305.8,165.1 L1308.6,161.4 L1311.4,157.7 L1314.2,153.9 L1317.0,150.2 L1319.8,146.4 L1322.6,142.5 L1325.4,138.7 L1328.2,134.9 L1331.0,131.0 L1333.8,127.1 L1336.6,123.2 L1339.4,119.3 L1342.2,115.4 L1345.0,111.5 L1347.8,107.6 L1350.6,103.8 L1353.4,100.1 L1356.2,96.4 L1359.0,93.0 L1361.8,89.7 L1364.6,86.5 L1367.4,83.6 L1370.2,80.8 L1373.0,78.1 L1375.8,75.5 L1378.6,73.0 L1381.4,70.5 L1384.2,68.0 L1387.0,65.5 L1389.8,63.1 L1392.6,60.6 L1395.4,58.1 L1398.2,55.7 L1401.0,53.2 L1403.8,50.8 L1406.6,48.4 L1409.4,45.9 L1412.2,43.5 L1415.0,41.0"/>
<path stroke="#5db3a3" d="M855.0,23.7 L857.8,24.6 L860.6,25.6 L863.4,26.6 L866.2,27.6 L869.0,28.6 L871.8,29.6 L874.6,30.7 L877.4,31.7 L880.2,32.8 L883.0,33.8 L885.8,34.9 L888.6,36.0 L891.4,37.1 L894.2,38.2 L897.0,39.3 L899.8,40.5 L902.6,41.6 L905.4,42.8 L908.2,44.0 L911.0,45.2 L913.8,46.4 L916.6,47.6 L919.4,48.9 L922.2,50.1 L925.0,51.4 L927.8,52.7 L930.6,54.0 L933.4,55.3 L936.2,56.7 L939.0,58.0 L941.8,59.4 L944.6,60.8 L947.4,62.2 L950.2,63.7 L953.0,65.1 L955.8,66.6 L958.6,68.1 L961.4,69.6 L964.2,71.1 L967.0,72.7 L969.8,74.2 L972.6,75.8 L975.4,77.5 L978.2,79.1 L981.0,80.8 L983.8,82.5 L986.6,84.2 L989.4,85.9 L992.2,87.7 L995.0,89.5 L997.8,91.3 L1000.6,93.1 L1003.4,95.0 L1006.2,96.9 L1009.0,98.8 L1011.8,100.8 L1014.6,102.8 L1017.4,104.8 L1020.2,106.9 L1023.0,109.0 L1025.8,111.1 L1028.6,113.2 L1031.4,115.4 L1034.2,117.7 L1037.0,119.9 L1039.8,122.2 L1042.6,124.6 L1045.4,126.9 L1048.2,129.4 L1051.0,131.8 L1053.8,134.3 L1056.6,136.9 L1059.4,139.5 L1062.2,142.1 L1065.0,144.8 L1067.8,147.5 L1070.6,150.3 L1073.4,153.2 L1076.2,156.0 L1079.0,159.0 L1081.8,162.0 L1084.6,165.0 L1087.4,168.2 L1090.2,171.3 L1093.0,174.6 L1095.8,177.8 L1098.6,181.2 L1101.4,184.6 L1104.2,188.1 L1107.0,191.7 L1109.8,195.3 L1112.6,199.0 L1115.4,202.7 L1118.2,206.5 L1121.0,210.4 L1123.8,214.4 L1126.6,218.4 L1129.4,222.5 L1132.2,226.7 L1135.0,230.9 L1137.8,235.2 L1140.6,239.5 L1143.4,243.8 L1146.2,248.2 L1149.0,252.5 L1151.8,256.8 L1154.6,261.0 L1157.4,265.1 L1160.2,268.9 L1163.0,272.2 L1165.8,275.0 L1168.6,277.0 L1171.4,277.7 L1174.2,277.6 L1177.0,277.5 L1179.8,277.2 L1182.6,276.8 L1185.4,276.3 L1188.2,275.6 L1191.0,274.8 L1193.8,273.9 L1196.6,272.8 L1199.4,271.6 L1202.2,270.3 L1205.0,268.8 L1207.8,267.2 L1210.6,265.5 L1213.4,263.6 L1216.2,261.7 L1219.0,259.6 L1221.8,257.5 L1224.6,255.3 L1227.4,252.9 L1230.2,250.6 L1233.0,248.1 L1235.8,245.6 L1238.6,243.1 L1241.4,240.6 L1244.2,238.0 L1247.0,235.4 L1249.8,232.7 L1252.6,230.0 L1255.4,227.2 L1258.2,224.3 L1261.0,221.4 L1263.8,218.4 L1266.6,215.4 L1269.4,212.3 L1272.2,209.2 L1275.0,206.0 L1277.8,202.8 L1280.6,199.5 L1283.4,196.2 L1286.2,192.8 L1289.0,189.4 L1291.8,186.0 L1294.6,182.5 L1297.4,179.0 L1300.2,175.4 L1303.0,171.8 L1305.8,168.2 L1308.6,164.6 L1311.4,160.9 L1314.2,157.2 L1317.0,153.4 L1319.8,149.7 L1322.6,145.9 L1325.4,142.1 L1328.2,138.2 L1331.0,134.4 L1333.8,130.5 L1336.6,126.6 L1339.4,122.7 L1342.2,118.8 L1345.0,114.9 L1347.8,111.0 L1350.6,107.2 L1353.4,103.4 L1356.2,99.6 L1359.0,96.0 L1361.8,92.6 L1364.6,89.3 L1367.4,86.2 L1370.2,83.3 L1373.0,80.5 L1375.8,77.9 L1378.6,75.3 L1381.4,72.7 L1384.2,70.2 L1387.0,67.7 L1389.8,65.3 L1392.6,62.8 L1395.4,60.3 L1398.2,57.9 L1401.0,55.4 L1403.8,53.0 L1406.6,50.5 L1409.4,48.1 L1412.2,45.6 L1415.0,43.2"/>
<path stroke="#2f7a6d" d="M855.0,22.6 L857.8,23.5 L860.6,24.5 L863.4,25.5 L866.2,26.4 L869.0,27.4 L871.8,28.5 L874.6,29.5 L877.4,30.5 L880.2,31.6 L883.0,32.6 L885.8,33.7 L888.6,34.8 L891.4,35.9 L894.2,37.0 L897.0,38.1 L899.8,39.2 L902.6,40.4 L905.4,41.5 L908.2,42.7 L911.0,43.9 L913.8,45.1 L916.6,46.3 L919.4,47.6 L922.2,48.8 L925.0,50.1 L927.8,51.4 L930.6,52.7 L933.4,54.0 L936.2,55.3 L939.0,56.6 L941.8,58.0 L944.6,59.4 L947.4,60.8 L950.2,62.2 L953.0,63.7 L955.8,65.1 L958.6,66.6 L961.4,68.1 L964.2,69.6 L967.0,71.2 L969.8,72.7 L972.6,74.3 L975.4,75.9 L978.2,77.5 L981.0,79.2 L983.8,80.9 L986.6,82.6 L989.4,84.3 L992.2,86.0 L995.0,87.8 L997.8,89.6 L1000.6,91.5 L1003.4,93.3 L1006.2,95.2 L1009.0,97.1 L1011.8,99.1 L1014.6,101.0 L1017.4,103.1 L1020.2,105.1 L1023.0,107.2 L1025.8,109.3 L1028.6,111.4 L1031.4,113.6 L1034.2,115.8 L1037.0,118.0 L1039.8,120.3 L1042.6,122.6 L1045.4,125.0 L1048.2,127.4 L1051.0,129.9 L1053.8,132.3 L1056.6,134.9 L1059.4,137.5 L1062.2,140.1 L1065.0,142.7 L1067.8,145.5 L1070.6,148.2 L1073.4,151.0 L1076.2,153.9 L1079.0,156.8 L1081.8,159.8 L1084.6,162.8 L1087.4,165.9 L1090.2,169.1 L1093.0,172.3 L1095.8,175.5 L1098.6,178.9 L1101.4,182.3 L1104.2,185.7 L1107.0,189.3 L1109.8,192.8 L1112.6,196.5 L1115.4,200.2 L1118.2,204.0 L1121.0,207.9 L1123.8,211.9 L1126.6,215.9 L1129.4,219.9 L1132.2,224.1 L1135.0,228.3 L1137.8,232.5 L1140.6,236.9 L1143.4,241.2 L1146.2,245.6 L1149.0,249.9 L1151.8,254.3 L1154.6,258.5 L1157.4,262.7 L1160.2,266.6 L1163.0,270.2 L1165.8,273.4 L1168.6,275.9 L1171.4,277.3 L1174.2,277.6 L1177.0,277.5 L1179.8,277.3 L1182.6,277.0 L1185.4,276.6 L1188.2,276.0 L1191.0,275.3 L1193.8,274.5 L1196.6,273.5 L1199.4,272.4 L1202.2,271.1 L1205.0,269.8 L1207.8,268.3 L1210.6,266.7 L1213.4,264.9 L1216.2,263.1 L1219.0,261.1 L1221.8,259.1 L1224.6,256.9 L1227.4,254.7 L1230.2,252.4 L1233.0,250.0 L1235.8,247.6 L1238.6,245.1 L1241.4,242.6 L1244.2,240.1 L1247.0,237.5 L1249.8,234.9 L1252.6,232.2 L1255.4,229.5 L1258.2,226.7 L1261.0,223.8 L1263.8,220.9 L1266.6,217.9 L1269.4,214.9 L1272.2,211.8 L1275.0,208.7 L1277.8,205.5 L1280.6,202.2 L1283.4,199.0 L1286.2,195.6 L1289.0,192.3 L1291.8,188.9 L1294.6,185.4 L1297.4,181.9 L1300.2,178.4 L1303.0,174.9 L1305.8,171.3 L1308.6,167.7 L1311.4,164.0 L1314.2,160.3 L1317.0,156.6 L1319.8,152.9 L1322.6,149.1 L1325.4,145.3 L1328.2,141.5 L1331.0,137.7 L1333.8,133.8 L1336.6,130.0 L1339.4,126.1 L1342.2,122.2 L1345.0,118.3 L1347.8,114.4 L1350.6,110.5 L1353.4,106.7 L1356.2,102.9 L1359.0,99.2 L1361.8,95.6 L1364.6,92.2 L1367.4,88.9 L1370.2,85.9 L1373.0,83.0 L1375.8,80.2 L1378.6,77.5 L1381.4,75.0 L1384.2,72.4 L1387.0,69.9 L1389.8,67.5 L1392.6,65.0 L1395.4,62.5 L1398.2,60.1 L1401.0,57.6 L1403.8,55.1 L1406.6,52.7 L1409.4,50.2 L1412.2,47.8 L1415.0,45.3"/>
<path stroke="#3a8577" d="M855.0,21.5 L857.8,22.4 L860.6,23.4 L863.4,24.3 L866.2,25.3 L869.0,26.3 L871.8,27.3 L874.6,28.3 L877.4,29.3 L880.2,30.4 L883.0,31.4 L885.8,32.5 L888.6,33.6 L891.4,34.7 L894.2,35.7 L897.0,36.9 L899.8,38.0 L902.6,39.1 L905.4,40.3 L908.2,41.4 L911.0,42.6 L913.8,43.8 L916.6,45.0 L919.4,46.3 L922.2,47.5 L925.0,48.7 L927.8,50.0 L930.6,51.3 L933.4,52.6 L936.2,53.9 L939.0,55.3 L941.8,56.6 L944.6,58.0 L947.4,59.4 L950.2,60.8 L953.0,62.2 L955.8,63.7 L958.6,65.1 L961.4,66.6 L964.2,68.1 L967.0,69.7 L969.8,71.2 L972.6,72.8 L975.4,74.4 L978.2,76.0 L981.0,77.6 L983.8,79.3 L986.6,81.0 L989.4,82.7 L992.2,84.4 L995.0,86.2 L997.8,88.0 L1000.6,89.8 L1003.4,91.7 L1006.2,93.5 L1009.0,95.4 L1011.8,97.4 L1014.6,99.3 L1017.4,101.3 L1020.2,103.3 L1023.0,105.4 L1025.8,107.5 L1028.6,109.6 L1031.4,111.8 L1034.2,114.0 L1037.0,116.2 L1039.8,118.5 L1042.6,120.8 L1045.4,123.1 L1048.2,125.5 L1051.0,127.9 L1053.8,130.4 L1056.6,132.9 L1059.4,135.4 L1062.2,138.1 L1065.0,140.7 L1067.8,143.4 L1070.6,146.1 L1073.4,148.9 L1076.2,151.8 L1079.0,154.7 L1081.8,157.6 L1084.6,160.6 L1087.4,163.7 L1090.2,166.8 L1093.0,170.0 L1095.8,173.3 L1098.6,176.6 L1101.4,179.9 L1104.2,183.4 L1107.0,186.9 L1109.8,190.4 L1112.6,194.1 L1115.4,197.8 L1118.2,201.6 L1121.0,205.4 L1123.8,209.3 L1126.6,213.3 L1129.4,217.4 L1132.2,221.5 L1135.0,225.7 L1137.8,229.9 L1140.6,234.2 L1143.4,238.6 L1146.2,242.9 L1149.0,247.3 L1151.8,251.7 L1154.6,256.0 L1157.4,260.2 L1160.2,264.3 L1163.0,268.1 L1165.8,271.5 L1168.6,274.4 L1171.4,276.5 L1174.2,277.5 L1177.0,277.6 L1179.8,277.4 L1182.6,277.2 L1185.4,276.8 L1188.2,276.3 L1191.0,275.7 L1193.8,275.0 L1196.6,274.1 L1199.4,273.1 L1202.2,271.9 L1205.0,270.7 L1207.8,269.3 L1210.6,267.8 L1213.4,266.1 L1216.2,264.4 L1219.0,262.5 L1221.8,260.6 L1224.6,258.5 L1227.4,256.4 L1230.2,254.2 L1233.0,251.9 L1235.8,249.5 L1238.6,247.1 L1241.4,244.6 L1244.2,242.1 L1247.0,239.6 L1249.8,237.0 L1252.6,234.4 L1255.4,231.7 L1258.2,229.0 L1261.0,226.1 L1263.8,223.3 L1266.6,220.3 L1269.4,217.3 L1272.2,214.3 L1275.0,211.2 L1277.8,208.1 L1280.6,204.9 L1283.4,201.6 L1286.2,198.4 L1289.0,195.0 L1291.8,191.7 L1294.6,188.3 L1297.4,184.8 L1300.2,181.3 L1303.0,177.8 L1305.8,174.3 L1308.6,170.7 L1311.4,167.1 L1314.2,163.4 L1317.0,159.7 L1319.8,156.0 L1322.6,152.3 L1325.4,148.5 L1328.2,144.7 L1331.0,140.9 L1333.8,137.1 L1336.6,133.3 L1339.4,129.4 L1342.2,125.5 L1345.0,121.6 L1347.8,117.8 L1350.6,113.9 L1353.4,110.0 L1356.2,106.2 L1359.0,102.4 L1361.8,98.7 L1364.6,95.1 L1367.4,91.7 L1370.2,88.5 L1373.0,85.5 L1375.8,82.6 L1378.6,79.9 L1381.4,77.2 L1384.2,74.6 L1387.0,72.1 L1389.8,69.6 L1392.6,67.1 L1395.4,64.7 L1398.2,62.2 L1401.0,59.7 L1403.8,57.3 L1406.6,54.8 L1409.4,52.4 L1412.2,49.9 L1415.0,47.5"/>
<path stroke="#4fa393" d="M855.0,20.4 L857.8,21.3 L860.6,22.3 L863.4,23.2 L866.2,24.2 L869.0,25.2 L871.8,26.2 L874.6,27.2 L877.4,28.2 L880.2,29.2 L883.0,30.3 L885.8,31.3 L888.6,32.4 L891.4,33.5 L894.2,34.5 L897.0,35.6 L899.8,36.8 L902.6,37.9 L905.4,39.0 L908.2,40.2 L911.0,41.4 L913.8,42.5 L916.6,43.7 L919.4,45.0 L922.2,46.2 L925.0,47.4 L927.8,48.7 L930.6,50.0 L933.4,51.3 L936.2,52.6 L939.0,53.9 L941.8,55.2 L944.6,56.6 L947.4,58.0 L950.2,59.4 L953.0,60.8 L955.8,62.2 L958.6,63.7 L961.4,65.2 L964.2,66.7 L967.0,68.2 L969.8,69.7 L972.6,71.3 L975.4,72.9 L978.2,74.5 L981.0,76.1 L983.8,77.7 L986.6,79.4 L989.4,81.1 L992.2,82.8 L995.0,84.6 L997.8,86.4 L1000.6,88.2 L1003.4,90.0 L1006.2,91.9 L1009.0,93.7 L1011.8,95.7 L1014.6,97.6 L1017.4,99.6 L1020.2,101.6 L1023.0,103.6 L1025.8,105.7 L1028.6,107.8 L1031.4,110.0 L1034.2,112.1 L1037.0,114.3 L1039.8,116.6 L1042.6,118.9 L1045.4,121.2 L1048.2,123.6 L1051.0,126.0 L1053.8,128.4 L1056.6,130.9 L1059.4,133.5 L1062.2,136.1 L1065.0,138.7 L1067.8,141.4 L1070.6,144.1 L1073.4,146.9 L1076.2,149.7 L1079.0,152.6 L1081.8,155.5 L1084.6,158.5 L1087.4,161.5 L1090.2,164.6 L1093.0,167.8 L1095.8,171.0 L1098.6,174.3 L1101.4,177.6 L1104.2,181.0 L1107.0,184.5 L1109.8,188.1 L1112.6,191.7 L1115.4,195.4 L1118.2,199.1 L1121.0,202.9 L1123.8,206.8 L1126.6,210.8 L1129.4,214.8 L1132.2,218.9 L1135.0,223.1 L1137.8,227.3 L1140.6,231.6 L1143.4,235.9 L1146.2,240.3 L1149.0,244.7 L1151.8,249.1 L1154.6,253.4 L1157.4,257.7 L1160.2,261.9 L1163.0,265.9 L1165.8,269.5 L1168.6,272.7 L1171.4,275.3 L1174.2,277.0 L1177.0,277.5 L1179.8,277.5 L1182.6,277.3 L1185.4,277.0 L1188.2,276.6 L1191.0,276.1 L1193.8,275.4 L1196.6,274.6 L1199.4,273.7 L1202.2,272.7 L1205.0,271.5 L1207.8,270.2 L1210.6,268.8 L1213.4,267.3 L1216.2,265.6 L1219.0,263.8 L1221.8,262.0 L1224.6,260.0 L1227.4,258.0 L1230.2,255.8 L1233.0,253.6 L1235.8,251.3 L1238.6,249.0 L1241.4,246.5 L1244.2,244.1 L1247.0,241.6 L1249.8,239.1 L1252.6,236.5 L1255.4,233.9 L1258.2,231.2 L1261.0,228.4 L1263.8,225.6 L1266.6,222.7 L1269.4,219.7 L1272.2,216.7 L1275.0,213.7 L1277.8,210.6 L1280.6,207.4 L1283.4,204.3 L1286.2,201.0 L1289.0,197.7 L1291.8,194.4 L1294.6,191.0 L1297.4,187.6 L1300.2,184.2 L1303.0,180.7 L1305.8,177.2 L1308.6,173.6 L1311.4,170.0 L1314.2,166.4 L1317.0,162.8 L1319.8,159.1 L1322.6,155.4 L1325.4,151.6 L1328.2,147.9 L1331.0,144.1 L1333.8,140.3 L1336.6,136.5 L1339.4,132.7 L1342.2,128.8 L1345.0,124.9 L1347.8,121.0 L1350.6,117.2 L1353.4,113.3 L1356.2,109.4 L1359.0,105.6 L1361.8,101.8 L1364.6,98.2 L1367.4,94.6 L1370.2,91.3 L1373.0,88.1 L1375.8,85.1 L1378.6,82.2 L1381.4,79.5 L1384.2,76.8 L1387.0,74.3 L1389.8,71.8 L1392.6,69.3 L1395.4,66.8 L1398.2,64.3 L1401.0,61.9 L1403.8,59.4 L1406.6,56.9 L1409.4,54.5 L1412.2,52.0 L1415.0,49.6"/>
<path stroke="#78d8c6" d="M855.0,19.3 L857.8,20.2 L860.6,21.2 L863.4,22.1 L866.2,23.1 L869.0,24.1 L871.8,25.0 L874.6,26.0 L877.4,27.0 L880.2,28.1 L883.0,29.1 L885.8,30.1 L888.6,31.2 L891.4,32.3 L894.2,33.3 L897.0,34.4 L899.8,35.5 L902.6,36.7 L905.4,37.8 L908.2,38.9 L911.0,40.1 L913.8,41.3 L916.6,42.5 L919.4,43.7 L922.2,44.9 L925.0,46.1 L927.8,47.4 L930.6,48.7 L933.4,49.9 L936.2,51.2 L939.0,52.6 L941.8,53.9 L944.6,55.2 L947.4,56.6 L950.2,58.0 L953.0,59.4 L955.8,60.8 L958.6,62.3 L961.4,63.7 L964.2,65.2 L967.0,66.7 L969.8,68.3 L972.6,69.8 L975.4,71.4 L978.2,73.0 L981.0,74.6 L983.8,76.2 L986.6,77.9 L989.4,79.6 L992.2,81.3 L995.0,83.0 L997.8,84.8 L1000.6,86.6 L1003.4,88.4 L1006.2,90.2 L1009.0,92.1 L1011.8,94.0 L1014.6,95.9 L1017.4,97.9 L1020.2,99.9 L1023.0,101.9 L1025.8,104.0 L1028.6,106.1 L1031.4,108.2 L1034.2,110.3 L1037.0,112.5 L1039.8,114.8 L1042.6,117.0 L1045.4,119.3 L1048.2,121.7 L1051.0,124.1 L1053.8,126.5 L1056.6,129.0 L1059.4,131.5 L1062.2,134.1 L1065.0,136.7 L1067.8,139.3 L1070.6,142.0 L1073.4,144.8 L1076.2,147.6 L1079.0,150.5 L1081.8,153.4 L1084.6,156.3 L1087.4,159.4 L1090.2,162.4 L1093.0,165.6 L1095.8,168.8 L1098.6,172.0 L1101.4,175.4 L1104.2,178.7 L1107.0,182.2 L1109.8,185.7 L1112.6,189.3 L1115.4,193.0 L1118.2,196.7 L1121.0,200.5 L1123.8,204.4 L1126.6,208.3 L1129.4,212.3 L1132.2,216.4 L1135.0,220.5 L1137.8,224.7 L1140.6,229.0 L1143.4,233.3 L1146.2,237.7 L1149.0,242.1 L1151.8,246.5 L1154.6,250.9 L1157.4,255.2 L1160.2,259.5 L1163.0,263.5 L1165.8,267.4 L1168.6,270.9 L1171.4,273.8 L1174.2,276.1 L1177.0,277.3 L1179.8,277.5 L1182.6,277.4 L1185.4,277.1 L1188.2,276.8 L1191.0,276.4 L1193.8,275.8 L1196.6,275.1 L1199.4,274.3 L1202.2,273.3 L1205.0,272.2 L1207.8,271.0 L1210.6,269.7 L1213.4,268.3 L1216.2,266.7 L1219.0,265.1 L1221.8,263.3 L1224.6,261.4 L1227.4,259.4 L1230.2,257.4 L1233.0,255.2 L1235.8,253.0 L1238.6,250.7 L1241.4,248.4 L1244.2,246.0 L1247.0,243.5 L1249.8,241.1 L1252.6,238.5 L1255.4,235.9 L1258.2,233.3 L1261.0,230.6 L1263.8,227.8 L1266.6,225.0 L1269.4,222.1 L1272.2,219.1 L1275.0,216.1 L1277.8,213.1 L1280.6,209.9 L1283.4,206.8 L1286.2,203.6 L1289.0,200.3 L1291.8,197.1 L1294.6,193.7 L1297.4,190.4 L1300.2,186.9 L1303.0,183.5 L1305.8,180.0 L1308.6,176.5 L1311.4,172.9 L1314.2,169.3 L1317.0,165.7 L1319.8,162.1 L1322.6,158.4 L1325.4,154.7 L1328.2,151.0 L1331.0,147.2 L1333.8,143.4 L1336.6,139.6 L1339.4,135.8 L1342.2,132.0 L1345.0,128.1 L1347.8,124.3 L1350.6,120.4 L1353.4,116.5 L1356.2,112.7 L1359.0,108.8 L1361.8,105.0 L1364.6,101.3 L1367.4,97.6 L1370.2,94.1 L1373.0,90.8 L1375.8,87.6 L1378.6,84.6 L1381.4,81.8 L1384.2,79.1 L1387.0,76.5 L1389.8,73.9 L1392.6,71.4 L1395.4,68.9 L1398.2,66.4 L1401.0,63.9 L1403.8,61.5 L1406.6,59.0 L1409.4,56.6 L1412.2,54.1 L1415.0,51.6"/>
<path stroke="#2f7a6d" d="M855.0,18.2 L857.8,19.1 L860.6,20.1 L863.4,21.0 L866.2,22.0 L869.0,22.9 L871.8,23.9 L874.6,24.9 L877.4,25.9 L880.2,26.9 L883.0,27.9 L885.8,29.0 L888.6,30.0 L891.4,31.1 L894.2,32.2 L897.0,33.3 L899.8,34.3 L902.6,35.5 L905.4,36.6 L908.2,37.7 L911.0,38.9 L913.8,40.0 L916.6,41.2 L919.4,42.4 L922.2,43.6 L925.0,44.9 L927.8,46.1 L930.6,47.4 L933.4,48.6 L936.2,49.9 L939.0,51.2 L941.8,52.5 L944.6,53.9 L947.4,55.2 L950.2,56.6 L953.0,58.0 L955.8,59.4 L958.6,60.9 L961.4,62.3 L964.2,63.8 L967.0,65.3 L969.8,66.8 L972.6,68.3 L975.4,69.9 L978.2,71.5 L981.0,73.1 L983.8,74.7 L986.6,76.3 L989.4,78.0 L992.2,79.7 L995.0,81.4 L997.8,83.2 L1000.6,85.0 L1003.4,86.8 L1006.2,88.6 L1009.0,90.4 L1011.8,92.3 L1014.6,94.3 L1017.4,96.2 L1020.2,98.2 L1023.0,100.2 L1025.8,102.2 L1028.6,104.3 L1031.4,106.4 L1034.2,108.6 L1037.0,110.7 L1039.8,113.0 L1042.6,115.2 L1045.4,117.5 L1048.2,119.8 L1051.0,122.2 L1053.8,124.6 L1056.6,127.1 L1059.4,129.6 L1062.2,132.1 L1065.0,134.7 L1067.8,137.3 L1070.6,140.0 L1073.4,142.8 L1076.2,145.5 L1079.0,148.4 L1081.8,151.3 L1084.6,154.2 L1087.4,157.2 L1090.2,160.3 L1093.0,163.4 L1095.8,166.5 L1098.6,169.8 L1101.4,173.1 L1104.2,176.4 L1107.0,179.9 L1109.8,183.4 L1112.6,186.9 L1115.4,190.6 L1118.2,194.3 L1121.0,198.0 L1123.8,201.9 L1126.6,205.8 L1129.4,209.8 L1132.2,213.9 L1135.0,218.0 L1137.8,222.2 L1140.6,226.4 L1143.4,230.7 L1146.2,235.1 L1149.0,239.5 L1151.8,243.9 L1154.6,248.3 L1157.4,252.7 L1160.2,257.0 L1163.0,261.2 L1165.8,265.2 L1168.6,268.9 L1171.4,272.1 L1174.2,274.8 L1177.0,276.6 L1179.8,277.4 L1182.6,277.4 L1185.4,277.2 L1188.2,277.0 L1191.0,276.6 L1193.8,276.1 L1196.6,275.5 L1199.4,274.7 L1202.2,273.9 L1205.0,272.9 L1207.8,271.8 L1210.6,270.6 L1213.4,269.2 L1216.2,267.8 L1219.0,266.2 L1221.8,264.5 L1224.6,262.7 L1227.4,260.8 L1230.2,258.9 L1233.0,256.8 L1235.8,254.7 L1238.6,252.4 L1241.4,250.2 L1244.2,247.8 L1247.0,245.4 L1249.8,243.0 L1252.6,240.5 L1255.4,237.9 L1258.2,235.3 L1261.0,232.7 L1263.8,229.9 L1266.6,227.2 L1269.4,224.3 L1272.2,221.4 L1275.0,218.4 L1277.8,215.4 L1280.6,212.4 L1283.4,209.3 L1286.2,206.1 L1289.0,202.9 L1291.8,199.6 L1294.6,196.3 L1297.4,193.0 L1300.2,189.6 L1303.0,186.2 L1305.8,182.8 L1308.6,179.3 L1311.4,175.8 L1314.2,172.2 L1317.0,168.6 L1319.8,165.0 L1322.6,161.4 L1325.4,157.7 L1328.2,154.0 L1331.0,150.3 L1333.8,146.5 L1336.6,142.7 L1339.4,138.9 L1342.2,135.1 L1345.0,131.3 L1347.8,127.4 L1350.6,123.6 L1353.4,119.7 L1356.2,115.8 L1359.0,112.0 L1361.8,108.1 L1364.6,104.3 L1367.4,100.6 L1370.2,97.0 L1373.0,93.5 L1375.8,90.2 L1378.6,87.1 L1381.4,84.1 L1384.2,81.3 L1387.0,78.6 L1389.8,76.0 L1392.6,73.5 L1395.4,71.0 L1398.2,68.5 L1401.0,66.0 L1403.8,63.5 L1406.6,61.1 L1409.4,58.6 L1412.2,56.2 L1415.0,53.7"/>
<path stroke="#4fa393" d="M855.0,17.2 L857.8,18.1 L860.6,19.0 L863.4,19.9 L866.2,20.9 L869.0,21.9 L871.8,22.8 L874.6,23.8 L877.4,24.8 L880.2,25.8 L883.0,26.8 L885.8,27.8 L888.6,28.9 L891.4,29.9 L894.2,31.0 L897.0,32.1 L899.8,33.2 L902.6,34.3 L905.4,35.4 L908.2,36.5 L911.0,37.7 L913.8,38.8 L916.6,40.0 L919.4,41.2 L922.2,42.4 L925.0,43.6 L927.8,44.8 L930.6,46.1 L933.4,47.3 L936.2,48.6 L939.0,49.9 L941.8,51.2 L944.6,52.5 L947.4,53.9 L950.2,55.3 L953.0,56.6 L955.8,58.0 L958.6,59.5 L961.4,60.9 L964.2,62.4 L967.0,63.9 L969.8,65.4 L972.6,66.9 L975.4,68.4 L978.2,70.0 L981.0,71.6 L983.8,73.2 L986.6,74.8 L989.4,76.5 L992.2,78.2 L995.0,79.9 L997.8,81.6 L1000.6,83.4 L1003.4,85.2 L1006.2,87.0 L1009.0,88.8 L1011.8,90.7 L1014.6,92.6 L1017.4,94.5 L1020.2,96.5 L1023.0,98.5 L1025.8,100.5 L1028.6,102.6 L1031.4,104.7 L1034.2,106.8 L1037.0,109.0 L1039.8,111.2 L1042.6,113.4 L1045.4,115.7 L1048.2,118.0 L1051.0,120.3 L1053.8,122.7 L1056.6,125.2 L1059.4,127.6 L1062.2,130.2 L1065.0,132.7 L1067.8,135.4 L1070.6,138.0 L1073.4,140.7 L1076.2,143.5 L1079.0,146.3 L1081.8,149.2 L1084.6,152.1 L1087.4,155.1 L1090.2,158.1 L1093.0,161.2 L1095.8,164.3 L1098.6,167.6 L1101.4,170.8 L1104.2,174.2 L1107.0,177.6 L1109.8,181.1 L1112.6,184.6 L1115.4,188.2 L1118.2,191.9 L1121.0,195.6 L1123.8,199.4 L1126.6,203.3 L1129.4,207.3 L1132.2,211.3 L1135.0,215.4 L1137.8,219.6 L1140.6,223.8 L1143.4,228.1 L1146.2,232.5 L1149.0,236.9 L1151.8,241.3 L1154.6,245.7 L1157.4,250.1 L1160.2,254.5 L1163.0,258.8 L1165.8,262.9 L1168.6,266.7 L1171.4,270.3 L1174.2,273.3 L1177.0,275.6 L1179.8,277.1 L1182.6,277.4 L1185.4,277.3 L1188.2,277.1 L1191.0,276.8 L1193.8,276.4 L1196.6,275.8 L1199.4,275.2 L1202.2,274.4 L1205.0,273.5 L1207.8,272.5 L1210.6,271.3 L1213.4,270.1 L1216.2,268.7 L1219.0,267.2 L1221.8,265.6 L1224.6,263.9 L1227.4,262.1 L1230.2,260.2 L1233.0,258.3 L1235.8,256.2 L1238.6,254.1 L1241.4,251.8 L1244.2,249.6 L1247.0,247.2 L1249.8,244.8 L1252.6,242.4 L1255.4,239.9 L1258.2,237.3 L1261.0,234.7 L1263.8,232.0 L1266.6,229.3 L1269.4,226.5 L1272.2,223.6 L1275.0,220.7 L1277.8,217.7 L1280.6,214.7 L1283.4,211.7 L1286.2,208.5 L1289.0,205.4 L1291.8,202.2 L1294.6,198.9 L1297.4,195.6 L1300.2,192.3 L1303.0,188.9 L1305.8,185.5 L1308.6,182.0 L1311.4,178.5 L1314.2,175.0 L1317.0,171.5 L1319.8,167.9 L1322.6,164.2 L1325.4,160.6 L1328.2,156.9 L1331.0,153.2 L1333.8,149.5 L1336.6,145.8 L1339.4,142.0 L1342.2,138.2 L1345.0,134.4 L1347.8,130.5 L1350.6,126.7 L1353.4,122.8 L1356.2,119.0 L1359.0,115.1 L1361.8,111.3 L1364.6,107.4 L1367.4,103.7 L1370.2,100.0 L1373.0,96.4 L1375.8,92.9 L1378.6,89.6 L1381.4,86.5 L1384.2,83.6 L1387.0,80.8 L1389.8,78.2 L1392.6,75.6 L1395.4,73.0 L1398.2,70.5 L1401.0,68.1 L1403.8,65.6 L1406.6,63.1 L1409.4,60.7 L1412.2,58.2 L1415.0,55.7"/>
<path stroke="#3a8577" d="M855.0,16.1 L857.8,17.0 L860.6,17.9 L863.4,18.9 L866.2,19.8 L869.0,20.8 L871.8,21.7 L874.6,22.7 L877.4,23.7 L880.2,24.7 L883.0,25.7 L885.8,26.7 L888.6,27.7 L891.4,28.8 L894.2,29.8 L897.0,30.9 L899.8,32.0 L902.6,33.1 L905.4,34.2 L908.2,35.3 L911.0,36.4 L913.8,37.6 L916.6,38.8 L919.4,39.9 L922.2,41.1 L925.0,42.3 L927.8,43.6 L930.6,44.8 L933.4,46.0 L936.2,47.3 L939.0,48.6 L941.8,49.9 L944.6,51.2 L947.4,52.6 L950.2,53.9 L953.0,55.3 L955.8,56.7 L958.6,58.1 L961.4,59.5 L964.2,61.0 L967.0,62.4 L969.8,63.9 L972.6,65.4 L975.4,67.0 L978.2,68.5 L981.0,70.1 L983.8,71.7 L986.6,73.3 L989.4,75.0 L992.2,76.6 L995.0,78.3 L997.8,80.1 L1000.6,81.8 L1003.4,83.6 L1006.2,85.4 L1009.0,87.2 L1011.8,89.1 L1014.6,91.0 L1017.4,92.9 L1020.2,94.8 L1023.0,96.8 L1025.8,98.8 L1028.6,100.9 L1031.4,102.9 L1034.2,105.0 L1037.0,107.2 L1039.8,109.4 L1042.6,111.6 L1045.4,113.9 L1048.2,116.1 L1051.0,118.5 L1053.8,120.9 L1056.6,123.3 L1059.4,125.7 L1062.2,128.2 L1065.0,130.8 L1067.8,133.4 L1070.6,136.0 L1073.4,138.7 L1076.2,141.5 L1079.0,144.3 L1081.8,147.1 L1084.6,150.0 L1087.4,153.0 L1090.2,156.0 L1093.0,159.0 L1095.8,162.2 L1098.6,165.4 L1101.4,168.6 L1104.2,171.9 L1107.0,175.3 L1109.8,178.7 L1112.6,182.3 L1115.4,185.8 L1118.2,189.5 L1121.0,193.2 L1123.8,197.0 L1126.6,200.9 L1129.4,204.8 L1132.2,208.8 L1135.0,212.9 L1137.8,217.1 L1140.6,221.3 L1143.4,225.6 L1146.2,229.9 L1149.0,234.3 L1151.8,238.7 L1154.6,243.1 L1157.4,247.6 L1160.2,252.0 L1163.0,256.3 L1165.8,260.5 L1168.6,264.5 L1171.4,268.3 L1174.2,271.6 L1177.0,274.3 L1179.8,276.3 L1182.6,277.3 L1185.4,277.3 L1188.2,277.2 L1191.0,277.0 L1193.8,276.6 L1196.6,276.1 L1199.4,275.6 L1202.2,274.8 L1205.0,274.0 L1207.8,273.1 L1210.6,272.0 L1213.4,270.9 L1216.2,269.6 L1219.0,268.2 L1221.8,266.7 L1224.6,265.1 L1227.4,263.4 L1230.2,261.6 L1233.0,259.7 L1235.8,257.7 L1238.6,255.6 L1241.4,253.4 L1244.2,251.2 L1247.0,248.9 L1249.8,246.6 L1252.6,244.2 L1255.4,241.8 L1258.2,239.3 L1261.0,236.7 L1263.8,234.1 L1266.6,231.4 L1269.4,228.6 L1272.2,225.8 L1275.0,222.9 L1277.8,220.0 L1280.6,217.0 L1283.4,214.0 L1286.2,210.9 L1289.0,207.8 L1291.8,204.6 L1294.6,201.4 L1297.4,198.1 L1300.2,194.8 L1303.0,191.5 L1305.8,188.1 L1308.6,184.7 L1311.4,181.2 L1314.2,177.7 L1317.0,174.2 L1319.8,170.7 L1322.6,167.1 L1325.4,163.4 L1328.2,159.8 L1331.0,156.1 L1333.8,152.4 L1336.6,148.7 L1339.4,145.0 L1342.2,141.2 L1345.0,137.4 L1347.8,133.6 L1350.6,129.8 L1353.4,125.9 L1356.2,122.1 L1359.0,118.2 L1361.8,114.4 L1364.6,110.5 L1367.4,106.7 L1370.2,102.9 L1373.0,99.3 L1375.8,95.7 L1378.6,92.3 L1381.4,89.0 L1384.2,86.0 L1387.0,83.1 L1389.8,80.3 L1392.6,77.7 L1395.4,75.1 L1398.2,72.6 L1401.0,70.1 L1403.8,67.6 L1406.6,65.1 L1409.4,62.7 L1412.2,60.2 L1415.0,57.7"/>
<path stroke="#5db3a3" d="M855.0,15.1 L857.8,16.0 L860.6,16.9 L863.4,17.8 L866.2,18.8 L869.0,19.7 L871.8,20.7 L874.6,21.6 L877.4,22.6 L880.2,23.6 L883.0,24.6 L885.8,25.6 L888.6,26.6 L891.4,27.7 L894.2,28.7 L897.0,29.8 L899.8,30.8 L902.6,31.9 L905.4,33.0 L908.2,34.1 L911.0,35.2 L913.8,36.4 L916.6,37.5 L919.4,38.7 L922.2,39.9 L925.0,41.1 L927.8,42.3 L930.6,43.5 L933.4,44.8 L936.2,46.0 L939.0,47.3 L941.8,48.6 L944.6,49.9 L947.4,51.2 L950.2,52.6 L953.0,53.9 L955.8,55.3 L958.6,56.7 L961.4,58.1 L964.2,59.6 L967.0,61.0 L969.8,62.5 L972.6,64.0 L975.4,65.5 L978.2,67.1 L981.0,68.6 L983.8,70.2 L986.6,71.8 L989.4,73.5 L992.2,75.1 L995.0,76.8 L997.8,78.5 L1000.6,80.3 L1003.4,82.0 L1006.2,83.8 L1009.0,85.6 L1011.8,87.5 L1014.6,89.3 L1017.4,91.2 L1020.2,93.2 L1023.0,95.1 L1025.8,97.1 L1028.6,99.2 L1031.4,101.2 L1034.2,103.3 L1037.0,105.4 L1039.8,107.6 L1042.6,109.8 L1045.4,112.1 L1048.2,114.3 L1051.0,116.6 L1053.8,119.0 L1056.6,121.4 L1059.4,123.8 L1062.2,126.3 L1065.0,128.9 L1067.8,131.4 L1070.6,134.1 L1073.4,136.7 L1076.2,139.5 L1079.0,142.2 L1081.8,145.1 L1084.6,147.9 L1087.4,150.9 L1090.2,153.9 L1093.0,156.9 L1095.8,160.0 L1098.6,163.2 L1101.4,166.4 L1104.2,169.7 L1107.0,173.0 L1109.8,176.5 L1112.6,180.0 L1115.4,183.5 L1118.2,187.1 L1121.0,190.8 L1123.8,194.6 L1126.6,198.4 L1129.4,202.4 L1132.2,206.3 L1135.0,210.4 L1137.8,214.5 L1140.6,218.7 L1143.4,223.0 L1146.2,227.3 L1149.0,231.7 L1151.8,236.1 L1154.6,240.5 L1157.4,245.0 L1160.2,249.4 L1163.0,253.8 L1165.8,258.1 L1168.6,262.3 L1171.4,266.1 L1174.2,269.7 L1177.0,272.8 L1179.8,275.2 L1182.6,276.8 L1185.4,277.3 L1188.2,277.2 L1191.0,277.1 L1193.8,276.8 L1196.6,276.4 L1199.4,275.9 L1202.2,275.2 L1205.0,274.5 L1207.8,273.6 L1210.6,272.7 L1213.4,271.6 L1216.2,270.4 L1219.0,269.1 L1221.8,267.7 L1224.6,266.1 L1227.4,264.5 L1230.2,262.8 L1233.0,261.0 L1235.8,259.0 L1238.6,257.1 L1241.4,255.0 L1244.2,252.8 L1247.0,250.6 L1249.8,248.3 L1252.6,246.0 L1255.4,243.6 L1258.2,241.1 L1261.0,238.6 L1263.8,236.0 L1266.6,233.4 L1269.4,230.6 L1272.2,227.9 L1275.0,225.1 L1277.8,222.2 L1280.6,219.2 L1283.4,216.2 L1286.2,213.2 L1289.0,210.1 L1291.8,207.0 L1294.6,203.8 L1297.4,200.6 L1300.2,197.3 L1303.0,194.0 L1305.8,190.7 L1308.6,187.3 L1311.4,183.8 L1314.2,180.4 L1317.0,176.9 L1319.8,173.4 L1322.6,169.8 L1325.4,166.2 L1328.2,162.6 L1331.0,159.0 L1333.8,155.3 L1336.6,151.6 L1339.4,147.9 L1342.2,144.1 L1345.0,140.4 L1347.8,136.6 L1350.6,132.8 L1353.4,128.9 L1356.2,125.1 L1359.0,121.3 L1361.8,117.4 L1364.6,113.6 L1367.4,109.7 L1370.2,105.9 L1373.0,102.2 L1375.8,98.5 L1378.6,95.0 L1381.4,91.6 L1384.2,88.4 L1387.0,85.4 L1389.8,82.5 L1392.6,79.8 L1395.4,77.2 L1398.2,74.6 L1401.0,72.1 L1403.8,69.6 L1406.6,67.1 L1409.4,64.6 L1412.2,62.2 L1415.0,59.7"/>
<path stroke="#2f7a6d" d="M855.0,14.1 L857.8,14.9 L860.6,15.9 L863.4,16.8 L866.2,17.7 L869.0,18.6 L871.8,19.6 L874.6,20.5 L877.4,21.5 L880.2,22.5 L883.0,23.5 L885.8,24.5 L888.6,25.5 L891.4,26.5 L894.2,27.6 L897.0,28.6 L899.8,29.7 L902.6,30.8 L905.4,31.8 L908.2,32.9 L911.0,34.1 L913.8,35.2 L916.6,36.3 L919.4,37.5 L922.2,38.7 L925.0,39.9 L927.8,41.1 L930.6,42.3 L933.4,43.5 L936.2,44.8 L939.0,46.0 L941.8,47.3 L944.6,48.6 L947.4,49.9 L950.2,51.3 L953.0,52.6 L955.8,54.0 L958.6,55.4 L961.4,56.8 L964.2,58.2 L967.0,59.6 L969.8,61.1 L972.6,62.6 L975.4,64.1 L978.2,65.6 L981.0,67.2 L983.8,68.8 L986.6,70.4 L989.4,72.0 L992.2,73.6 L995.0,75.3 L997.8,77.0 L1000.6,78.7 L1003.4,80.5 L1006.2,82.2 L1009.0,84.0 L1011.8,85.9 L1014.6,87.7 L1017.4,89.6 L1020.2,91.5 L1023.0,93.5 L1025.8,95.5 L1028.6,97.5 L1031.4,99.5 L1034.2,101.6 L1037.0,103.7 L1039.8,105.9 L1042.6,108.0 L1045.4,110.3 L1048.2,112.5 L1051.0,114.8 L1053.8,117.2 L1056.6,119.6 L1059.4,122.0 L1062.2,124.4 L1065.0,127.0 L1067.8,129.5 L1070.6,132.1 L1073.4,134.8 L1076.2,137.5 L1079.0,140.2 L1081.8,143.0 L1084.6,145.9 L1087.4,148.8 L1090.2,151.8 L1093.0,154.8 L1095.8,157.9 L1098.6,161.0 L1101.4,164.2 L1104.2,167.5 L1107.0,170.8 L1109.8,174.2 L1112.6,177.7 L1115.4,181.2 L1118.2,184.8 L1121.0,188.5 L1123.8,192.2 L1126.6,196.0 L1129.4,199.9 L1132.2,203.9 L1135.0,207.9 L1137.8,212.0 L1140.6,216.2 L1143.4,220.4 L1146.2,224.7 L1149.0,229.1 L1151.8,233.5 L1154.6,238.0 L1157.4,242.4 L1160.2,246.9 L1163.0,251.3 L1165.8,255.7 L1168.6,259.9 L1171.4,263.9 L1174.2,267.7 L1177.0,271.1 L1179.8,273.9 L1182.6,275.9 L1185.4,277.1 L1188.2,277.2 L1191.0,277.1 L1193.8,276.9 L1196.6,276.6 L1199.4,276.1 L1202.2,275.6 L1205.0,274.9 L1207.8,274.1 L1210.6,273.2 L1213.4,272.2 L1216.2,271.1 L1219.0,269.9 L1221.8,268.6 L1224.6,267.1 L1227.4,265.6 L1230.2,263.9 L1233.0,262.2 L1235.8,260.3 L1238.6,258.4 L1241.4,256.4 L1244.2,254.3 L1247.0,252.2 L1249.8,250.0 L1252.6,247.7 L1255.4,245.3 L1258.2,242.9 L1261.0,240.4 L1263.8,237.9 L1266.6,235.3 L1269.4,232.6 L1272.2,229.9 L1275.0,227.1 L1277.8,224.3 L1280.6,221.4 L1283.4,218.4 L1286.2,215.4 L1289.0,212.4 L1291.8,209.3 L1294.6,206.2 L1297.4,203.0 L1300.2,199.7 L1303.0,196.5 L1305.8,193.1 L1308.6,189.8 L1311.4,186.4 L1314.2,183.0 L1317.0,179.5 L1319.8,176.0 L1322.6,172.5 L1325.4,168.9 L1328.2,165.3 L1331.0,161.7 L1333.8,158.1 L1336.6,154.4 L1339.4,150.7 L1342.2,147.0 L1345.0,143.2 L1347.8,139.5 L1350.6,135.7 L1353.4,131.9 L1356.2,128.1 L1359.0,124.2 L1361.8,120.4 L1364.6,116.5 L1367.4,112.7 L1370.2,108.9 L1373.0,105.1 L1375.8,101.4 L1378.6,97.7 L1381.4,94.2 L1384.2,90.9 L1387.0,87.8 L1389.8,84.8 L1392.6,81.9 L1395.4,79.2 L1398.2,76.6 L1401.0,74.1 L1403.8,71.6 L1406.6,69.1 L1409.4,66.6 L1412.2,64.1 L1415.0,61.7"/>
<path stroke="#4fa393" d="M855.0,13.0 L857.8,13.9 L860.6,14.8 L863.4,15.7 L866.2,16.7 L869.0,17.6 L871.8,18.5 L874.6,19.5 L877.4,20.4 L880.2,21.4 L883.0,22.4 L885.8,23.4 L888.6,24.4 L891.4,25.4 L894.2,26.4 L897.0,27.5 L899.8,28.5 L902.6,29.6 L905.4,30.7 L908.2,31.8 L911.0,32.9 L913.8,34.0 L916.6,35.1 L919.4,36.3 L922.2,37.5 L925.0,38.6 L927.8,39.8 L930.6,41.0 L933.4,42.3 L936.2,43.5 L939.0,44.8 L941.8,46.0 L944.6,47.3 L947.4,48.6 L950.2,49.9 L953.0,51.3 L955.8,52.6 L958.6,54.0 L961.4,55.4 L964.2,56.8 L967.0,58.3 L969.8,59.7 L972.6,61.2 L975.4,62.7 L978.2,64.2 L981.0,65.8 L983.8,67.3 L986.6,68.9 L989.4,70.5 L992.2,72.1 L995.0,73.8 L997.8,75.5 L1000.6,77.2 L1003.4,78.9 L1006.2,80.7 L1009.0,82.5 L1011.8,84.3 L1014.6,86.1 L1017.4,88.0 L1020.2,89.9 L1023.0,91.8 L1025.8,93.8 L1028.6,95.8 L1031.4,97.8 L1034.2,99.9 L1037.0,102.0 L1039.8,104.1 L1042.6,106.3 L1045.4,108.5 L1048.2,110.7 L1051.0,113.0 L1053.8,115.4 L1056.6,117.7 L1059.4,120.1 L1062.2,122.6 L1065.0,125.1 L1067.8,127.6 L1070.6,130.2 L1073.4,132.8 L1076.2,135.5 L1079.0,138.2 L1081.8,141.0 L1084.6,143.8 L1087.4,146.7 L1090.2,149.7 L1093.0,152.7 L1095.8,155.7 L1098.6,158.8 L1101.4,162.0 L1104.2,165.3 L1107.0,168.6 L1109.8,171.9 L1112.6,175.4 L1115.4,178.9 L1118.2,182.5 L1121.0,186.1 L1123.8,189.8 L1126.6,193.6 L1129.4,197.5 L1132.2,201.4 L1135.0,205.4 L1137.8,209.5 L1140.6,213.7 L1143.4,217.9 L1146.2,222.2 L1149.0,226.5 L1151.8,230.9 L1154.6,235.4 L1157.4,239.8 L1160.2,244.3 L1163.0,248.8 L1165.8,253.2 L1168.6,257.5 L1171.4,261.7 L1174.2,265.6 L1177.0,269.2 L1179.8,272.3 L1182.6,274.8 L1185.4,276.5 L1188.2,277.2 L1191.0,277.2 L1193.8,277.0 L1196.6,276.7 L1199.4,276.4 L1202.2,275.9 L1205.0,275.3 L1207.8,274.6 L1210.6,273.8 L1213.4,272.8 L1216.2,271.8 L1219.0,270.6 L1221.8,269.4 L1224.6,268.0 L1227.4,266.6 L1230.2,265.0 L1233.0,263.3 L1235.8,261.6 L1238.6,259.7 L1241.4,257.8 L1244.2,255.8 L1247.0,253.7 L1249.8,251.5 L1252.6,249.3 L1255.4,247.0 L1258.2,244.6 L1261.0,242.2 L1263.8,239.7 L1266.6,237.2 L1269.4,234.5 L1272.2,231.9 L1275.0,229.1 L1277.8,226.3 L1280.6,223.5 L1283.4,220.6 L1286.2,217.6 L1289.0,214.6 L1291.8,211.5 L1294.6,208.4 L1297.4,205.3 L1300.2,202.1 L1303.0,198.8 L1305.8,195.6 L1308.6,192.2 L1311.4,188.9 L1314.2,185.5 L1317.0,182.1 L1319.8,178.6 L1322.6,175.1 L1325.4,171.6 L1328.2,168.0 L1331.0,164.4 L1333.8,160.8 L1336.6,157.2 L1339.4,153.5 L1342.2,149.8 L1345.0,146.1 L1347.8,142.3 L1350.6,138.6 L1353.4,134.8 L1356.2,131.0 L1359.0,127.2 L1361.8,123.3 L1364.6,119.5 L1367.4,115.6 L1370.2,111.8 L1373.0,108.0 L1375.8,104.2 L1378.6,100.5 L1381.4,96.9 L1384.2,93.5 L1387.0,90.2 L1389.8,87.1 L1392.6,84.1 L1395.4,81.3 L1398.2,78.7 L1401.0,76.1 L1403.8,73.5 L1406.6,71.0 L1409.4,68.5 L1412.2,66.0 L1415.0,63.6"/>
<path stroke="#78d8c6" d="M855.0,12.0 L857.8,12.9 L860.6,13.8 L863.4,14.7 L866.2,15.6 L869.0,16.5 L871.8,17.5 L874.6,18.4 L877.4,19.4 L880.2,20.3 L883.0,21.3 L885.8,22.3 L888.6,23.3 L891.4,24.3 L894.2,25.3 L897.0,26.4 L899.8,27.4 L902.6,28.5 L905.4,29.5 L908.2,30.6 L911.0,31.7 L913.8,32.8 L916.6,34.0 L919.4,35.1 L922.2,36.3 L925.0,37.4 L927.8,38.6 L930.6,39.8 L933.4,41.0 L936.2,42.3 L939.0,43.5 L941.8,44.8 L944.6,46.0 L947.4,47.3 L950.2,48.6 L953.0,50.0 L955.8,51.3 L958.6,52.7 L961.4,54.1 L964.2,55.5 L967.0,56.9 L969.8,58.4 L972.6,59.8 L975.4,61.3 L978.2,62.8 L981.0,64.3 L983.8,65.9 L986.6,67.5 L989.4,69.1 L992.2,70.7 L995.0,72.3 L997.8,74.0 L1000.6,75.7 L1003.4,77.4 L1006.2,79.2 L1009.0,80.9 L1011.8,82.7 L1014.6,84.6 L1017.4,86.4 L1020.2,88.3 L1023.0,90.2 L1025.8,92.2 L1028.6,94.2 L1031.4,96.2 L1034.2,98.2 L1037.0,100.3 L1039.8,102.4 L1042.6,104.6 L1045.4,106.8 L1048.2,109.0 L1051.0,111.2 L1053.8,113.5 L1056.6,115.9 L1059.4,118.3 L1062.2,120.7 L1065.0,123.2 L1067.8,125.7 L1070.6,128.3 L1073.4,130.9 L1076.2,133.5 L1079.0,136.2 L1081.8,139.0 L1084.6,141.8 L1087.4,144.7 L1090.2,147.6 L1093.0,150.6 L1095.8,153.6 L1098.6,156.7 L1101.4,159.9 L1104.2,163.1 L1107.0,166.4 L1109.8,169.7 L1112.6,173.1 L1115.4,176.6 L1118.2,180.2 L1121.0,183.8 L1123.8,187.5 L1126.6,191.2 L1129.4,195.1 L1132.2,199.0 L1135.0,203.0 L1137.8,207.0 L1140.6,211.2 L1143.4,215.4 L1146.2,219.6 L1149.0,224.0 L1151.8,228.4 L1154.6,232.8 L1157.4,237.3 L1160.2,241.8 L1163.0,246.2 L1165.8,250.7 L1168.6,255.1 L1171.4,259.3 L1174.2,263.4 L1177.0,267.2 L1179.8,270.6 L1182.6,273.4 L1185.4,275.6 L1188.2,276.9 L1191.0,277.1 L1193.8,277.1 L1196.6,276.9 L1199.4,276.6 L1202.2,276.2 L1205.0,275.6 L1207.8,275.0 L1210.6,274.2 L1213.4,273.4 L1216.2,272.4 L1219.0,271.3 L1221.8,270.1 L1224.6,268.9 L1227.4,267.5 L1230.2,266.0 L1233.0,264.4 L1235.8,262.7 L1238.6,260.9 L1241.4,259.1 L1244.2,257.1 L1247.0,255.1 L1249.8,253.0 L1252.6,250.8 L1255.4,248.6 L1258.2,246.3 L1261.0,243.9 L1263.8,241.5 L1266.6,238.9 L1269.4,236.4 L1272.2,233.7 L1275.0,231.0 L1277.8,228.3 L1280.6,225.5 L1283.4,222.6 L1286.2,219.7 L1289.0,216.7 L1291.8,213.7 L1294.6,210.6 L1297.4,207.5 L1300.2,204.4 L1303.0,201.2 L1305.8,197.9 L1308.6,194.6 L1311.4,191.3 L1314.2,187.9 L1317.0,184.5 L1319.8,181.1 L1322.6,177.6 L1325.4,174.1 L1328.2,170.6 L1331.0,167.0 L1333.8,163.4 L1336.6,159.8 L1339.4,156.2 L1342.2,152.5 L1345.0,148.8 L1347.8,145.1 L1350.6,141.3 L1353.4,137.6 L1356.2,133.8 L1359.0,130.0 L1361.8,126.2 L1364.6,122.4 L1367.4,118.5 L1370.2,114.7 L1373.0,110.9 L1375.8,107.1 L1378.6,103.3 L1381.4,99.6 L1384.2,96.1 L1387.0,92.7 L1389.8,89.4 L1392.6,86.4 L1395.4,83.5 L1398.2,80.7 L1401.0,78.0 L1403.8,75.4 L1406.6,72.9 L1409.4,70.4 L1412.2,67.9 L1415.0,65.5"/>
<path stroke="#3a8577" d="M855.0,11.0 L857.8,11.9 L860.6,12.8 L863.4,13.7 L866.2,14.6 L869.0,15.5 L871.8,16.4 L874.6,17.4 L877.4,18.3 L880.2,19.3 L883.0,20.2 L885.8,21.2 L888.6,22.2 L891.4,23.2 L894.2,24.2 L897.0,25.3 L899.8,26.3 L902.6,27.3 L905.4,28.4 L908.2,29.5 L911.0,30.6 L913.8,31.7 L916.6,32.8 L919.4,33.9 L922.2,35.1 L925.0,36.2 L927.8,37.4 L930.6,38.6 L933.4,39.8 L936.2,41.0 L939.0,42.3 L941.8,43.5 L944.6,44.8 L947.4,46.1 L950.2,47.4 L953.0,48.7 L955.8,50.0 L958.6,51.4 L961.4,52.8 L964.2,54.1 L967.0,55.6 L969.8,57.0 L972.6,58.4 L975.4,59.9 L978.2,61.4 L981.0,62.9 L983.8,64.5 L986.6,66.0 L989.4,67.6 L992.2,69.2 L995.0,70.9 L997.8,72.5 L1000.6,74.2 L1003.4,75.9 L1006.2,77.6 L1009.0,79.4 L1011.8,81.2 L1014.6,83.0 L1017.4,84.8 L1020.2,86.7 L1023.0,88.6 L1025.8,90.5 L1028.6,92.5 L1031.4,94.5 L1034.2,96.5 L1037.0,98.6 L1039.8,100.7 L1042.6,102.8 L1045.4,105.0 L1048.2,107.2 L1051.0,109.5 L1053.8,111.8 L1056.6,114.1 L1059.4,116.5 L1062.2,118.9 L1065.0,121.3 L1067.8,123.8 L1070.6,126.4 L1073.4,128.9 L1076.2,131.6 L1079.0,134.3 L1081.8,137.0 L1084.6,139.8 L1087.4,142.7 L1090.2,145.5 L1093.0,148.5 L1095.8,151.5 L1098.6,154.6 L1101.4,157.7 L1104.2,160.9 L1107.0,164.2 L1109.8,167.5 L1112.6,170.9 L1115.4,174.3 L1118.2,177.9 L1121.0,181.5 L1123.8,185.1 L1126.6,188.9 L1129.4,192.7 L1132.2,196.6 L1135.0,200.5 L1137.8,204.6 L1140.6,208.7 L1143.4,212.8 L1146.2,217.1 L1149.0,221.4 L1151.8,225.8 L1154.6,230.2 L1157.4,234.7 L1160.2,239.2 L1163.0,243.7 L1165.8,248.2 L1168.6,252.6 L1171.4,257.0 L1174.2,261.1 L1177.0,265.1 L1179.8,268.7 L1182.6,271.9 L1185.4,274.4 L1188.2,276.2 L1191.0,277.0 L1193.8,277.1 L1196.6,276.9 L1199.4,276.7 L1202.2,276.4 L1205.0,275.9 L1207.8,275.3 L1210.6,274.7 L1213.4,273.9 L1216.2,273.0 L1219.0,272.0 L1221.8,270.9 L1224.6,269.6 L1227.4,268.3 L1230.2,266.9 L1233.0,265.4 L1235.8,263.8 L1238.6,262.1 L1241.4,260.3 L1244.2,258.4 L1247.0,256.5 L1249.8,254.4 L1252.6,252.3 L1255.4,250.1 L1258.2,247.9 L1261.0,245.5 L1263.8,243.1 L1266.6,240.7 L1269.4,238.1 L1272.2,235.6 L1275.0,232.9 L1277.8,230.2 L1280.6,227.4 L1283.4,224.6 L1286.2,221.7 L1289.0,218.8 L1291.8,215.8 L1294.6,212.8 L1297.4,209.7 L1300.2,206.6 L1303.0,203.4 L1305.8,200.2 L1308.6,196.9 L1311.4,193.6 L1314.2,190.3 L1317.0,186.9 L1319.8,183.5 L1322.6,180.1 L1325.4,176.6 L1328.2,173.1 L1331.0,169.6 L1333.8,166.0 L1336.6,162.4 L1339.4,158.8 L1342.2,155.1 L1345.0,151.5 L1347.8,147.8 L1350.6,144.1 L1353.4,140.3 L1356.2,136.6 L1359.0,132.8 L1361.8,129.0 L1364.6,125.2 L1367.4,121.3 L1370.2,117.5 L1373.0,113.7 L1375.8,109.9 L1378.6,106.1 L1381.4,102.4 L1384.2,98.7 L1387.0,95.2 L1389.8,91.8 L1392.6,88.6 L1395.4,85.6 L1398.2,82.7 L1401.0,80.0 L1403.8,77.4 L1406.6,74.8 L1409.4,72.3 L1412.2,69.8 L1415.0,67.3"/>
<path stroke="#4fa393" d="M855.0,10.1 L857.8,10.9 L860.6,11.8 L863.4,12.7 L866.2,13.6 L869.0,14.5 L871.8,15.4 L874.6,16.3 L877.4,17.3 L880.2,18.2 L883.0,19.2 L885.8,20.2 L888.6,21.1 L891.4,22.1 L894.2,23.1 L897.0,24.2 L899.8,25.2 L902.6,26.2 L905.4,27.3 L908.2,28.4 L911.0,29.4 L913.8,30.5 L916.6,31.6 L919.4,32.8 L922.2,33.9 L925.0,35.0 L927.8,36.2 L930.6,37.4 L933.4,38.6 L936.2,39.8 L939.0,41.0 L941.8,42.3 L944.6,43.5 L947.4,44.8 L950.2,46.1 L953.0,47.4 L955.8,48.7 L958.6,50.1 L961.4,51.4 L964.2,52.8 L967.0,54.2 L969.8,55.6 L972.6,57.1 L975.4,58.5 L978.2,60.0 L981.0,61.5 L983.8,63.1 L986.6,64.6 L989.4,66.2 L992.2,67.8 L995.0,69.4 L997.8,71.0 L1000.6,72.7 L1003.4,74.4 L1006.2,76.1 L1009.0,77.9 L1011.8,79.6 L1014.6,81.4 L1017.4,83.3 L1020.2,85.1 L1023.0,87.0 L1025.8,88.9 L1028.6,90.9 L1031.4,92.9 L1034.2,94.9 L1037.0,96.9 L1039.8,99.0 L1042.6,101.1 L1045.4,103.3 L1048.2,105.5 L1051.0,107.7 L1053.8,110.0 L1056.6,112.3 L1059.4,114.6 L1062.2,117.0 L1065.0,119.5 L1067.8,121.9 L1070.6,124.5 L1073.4,127.0 L1076.2,129.7 L1079.0,132.3 L1081.8,135.0 L1084.6,137.8 L1087.4,140.6 L1090.2,143.5 L1093.0,146.4 L1095.8,149.4 L1098.6,152.5 L1101.4,155.6 L1104.2,158.8 L1107.0,162.0 L1109.8,165.3 L1112.6,168.7 L1115.4,172.1 L1118.2,175.6 L1121.0,179.1 L1123.8,182.8 L1126.6,186.5 L1129.4,190.3 L1132.2,194.1 L1135.0,198.1 L1137.8,202.1 L1140.6,206.2 L1143.4,210.3 L1146.2,214.6 L1149.0,218.9 L1151.8,223.2 L1154.6,227.6 L1157.4,232.1 L1160.2,236.6 L1163.0,241.1 L1165.8,245.6 L1168.6,250.1 L1171.4,254.5 L1174.2,258.8 L1177.0,262.9 L1179.8,266.7 L1182.6,270.1 L1185.4,273.0 L1188.2,275.2 L1191.0,276.6 L1193.8,277.1 L1196.6,277.0 L1199.4,276.8 L1202.2,276.5 L1205.0,276.1 L1207.8,275.6 L1210.6,275.0 L1213.4,274.3 L1216.2,273.5 L1219.0,272.5 L1221.8,271.5 L1224.6,270.4 L1227.4,269.1 L1230.2,267.8 L1233.0,266.3 L1235.8,264.8 L1238.6,263.2 L1241.4,261.4 L1244.2,259.6 L1247.0,257.7 L1249.8,255.8 L1252.6,253.7 L1255.4,251.6 L1258.2,249.4 L1261.0,247.1 L1263.8,244.7 L1266.6,242.3 L1269.4,239.8 L1272.2,237.3 L1275.0,234.7 L1277.8,232.0 L1280.6,229.3 L1283.4,226.5 L1286.2,223.7 L1289.0,220.8 L1291.8,217.8 L1294.6,214.8 L1297.4,211.8 L1300.2,208.7 L1303.0,205.5 L1305.8,202.4 L1308.6,199.1 L1311.4,195.9 L1314.2,192.6 L1317.0,189.2 L1319.8,185.9 L1322.6,182.5 L1325.4,179.0 L1328.2,175.5 L1331.0,172.0 L1333.8,168.5 L1336.6,164.9 L1339.4,161.3 L1342.2,157.7 L1345.0,154.1 L1347.8,150.4 L1350.6,146.7 L1353.4,143.0 L1356.2,139.2 L1359.0,135.5 L1361.8,131.7 L1364.6,127.9 L1367.4,124.1 L1370.2,120.3 L1373.0,116.4 L1375.8,112.6 L1378.6,108.8 L1381.4,105.0 L1384.2,101.3 L1387.0,97.7 L1389.8,94.3 L1392.6,90.9 L1395.4,87.8 L1398.2,84.8 L1401.0,82.0 L1403.8,79.3 L1406.6,76.7 L1409.4,74.1 L1412.2,71.6 L1415.0,69.1"/>
<path stroke="#2f7a6d" d="M855.0,9.1 L857.8,9.9 L860.6,10.8 L863.4,11.7 L866.2,12.6 L869.0,13.5 L871.8,14.4 L874.6,15.3 L877.4,16.2 L880.2,17.2 L883.0,18.1 L885.8,19.1 L888.6,20.1 L891.4,21.1 L894.2,22.1 L897.0,23.1 L899.8,24.1 L902.6,25.1 L905.4,26.2 L908.2,27.2 L911.0,28.3 L913.8,29.4 L916.6,30.5 L919.4,31.6 L922.2,32.7 L925.0,33.9 L927.8,35.0 L930.6,36.2 L933.4,37.4 L936.2,38.6 L939.0,39.8 L941.8,41.0 L944.6,42.3 L947.4,43.5 L950.2,44.8 L953.0,46.1 L955.8,47.4 L958.6,48.8 L961.4,50.1 L964.2,51.5 L967.0,52.9 L969.8,54.3 L972.6,55.7 L975.4,57.2 L978.2,58.7 L981.0,60.2 L983.8,61.7 L986.6,63.2 L989.4,64.8 L992.2,66.3 L995.0,68.0 L997.8,69.6 L1000.6,71.2 L1003.4,72.9 L1006.2,74.6 L1009.0,76.4 L1011.8,78.1 L1014.6,79.9 L1017.4,81.7 L1020.2,83.6 L1023.0,85.4 L1025.8,87.3 L1028.6,89.3 L1031.4,91.2 L1034.2,93.2 L1037.0,95.3 L1039.8,97.3 L1042.6,99.4 L1045.4,101.6 L1048.2,103.8 L1051.0,106.0 L1053.8,108.2 L1056.6,110.5 L1059.4,112.8 L1062.2,115.2 L1065.0,117.6 L1067.8,120.1 L1070.6,122.6 L1073.4,125.1 L1076.2,127.7 L1079.0,130.4 L1081.8,133.1 L1084.6,135.8 L1087.4,138.6 L1090.2,141.5 L1093.0,144.4 L1095.8,147.4 L1098.6,150.4 L1101.4,153.5 L1104.2,156.6 L1107.0,159.8 L1109.8,163.1 L1112.6,166.4 L1115.4,169.8 L1118.2,173.3 L1121.0,176.9 L1123.8,180.5 L1126.6,184.2 L1129.4,187.9 L1132.2,191.8 L1135.0,195.7 L1137.8,199.6 L1140.6,203.7 L1143.4,207.8 L1146.2,212.0 L1149.0,216.3 L1151.8,220.7 L1154.6,225.1 L1157.4,229.5 L1160.2,234.0 L1163.0,238.5 L1165.8,243.1 L1168.6,247.6 L1171.4,252.1 L1174.2,256.4 L1177.0,260.6 L1179.8,264.6 L1182.6,268.3 L1185.4,271.5 L1188.2,274.0 L1191.0,275.9 L1193.8,276.9 L1196.6,277.0 L1199.4,276.9 L1202.2,276.7 L1205.0,276.3 L1207.8,275.9 L1210.6,275.4 L1213.4,274.7 L1216.2,273.9 L1219.0,273.1 L1221.8,272.1 L1224.6,271.0 L1227.4,269.8 L1230.2,268.6 L1233.0,267.2 L1235.8,265.7 L1238.6,264.2 L1241.4,262.5 L1244.2,260.8 L1247.0,258.9 L1249.8,257.0 L1252.6,255.0 L1255.4,252.9 L1258.2,250.8 L1261.0,248.6 L1263.8,246.3 L1266.6,243.9 L1269.4,241.5 L1272.2,239.0 L1275.0,236.4 L1277.8,233.8 L1280.6,231.1 L1283.4,228.3 L1286.2,225.5 L1289.0,222.7 L1291.8,219.7 L1294.6,216.8 L1297.4,213.8 L1300.2,210.7 L1303.0,207.6 L1305.8,204.5 L1308.6,201.3 L1311.4,198.0 L1314.2,194.8 L1317.0,191.5 L1319.8,188.1 L1322.6,184.7 L1325.4,181.3 L1328.2,177.9 L1331.0,174.4 L1333.8,170.9 L1336.6,167.3 L1339.4,163.8 L1342.2,160.2 L1345.0,156.5 L1347.8,152.9 L1350.6,149.2 L1353.4,145.5 L1356.2,141.8 L1359.0,138.1 L1361.8,134.3 L1364.6,130.5 L1367.4,126.7 L1370.2,122.9 L1373.0,119.1 L1375.8,115.3 L1378.6,111.5 L1381.4,107.7 L1384.2,103.9 L1387.0,100.3 L1389.8,96.7 L1392.6,93.3 L1395.4,90.0 L1398.2,86.9 L1401.0,84.0 L1403.8,81.2 L1406.6,78.5 L1409.4,75.9 L1412.2,73.4 L1415.0,70.9"/>
<path stroke="#5db3a3" d="M855.0,8.1 L857.8,9.0 L860.6,9.8 L863.4,10.7 L866.2,11.6 L869.0,12.5 L871.8,13.4 L874.6,14.3 L877.4,15.2 L880.2,16.1 L883.0,17.1 L885.8,18.1 L888.6,19.0 L891.4,20.0 L894.2,21.0 L897.0,22.0 L899.8,23.0 L902.6,24.0 L905.4,25.1 L908.2,26.1 L911.0,27.2 L913.8,28.3 L916.6,29.3 L919.4,30.5 L922.2,31.6 L925.0,32.7 L927.8,33.8 L930.6,35.0 L933.4,36.2 L936.2,37.4 L939.0,38.6 L941.8,39.8 L944.6,41.0 L947.4,42.3 L950.2,43.6 L953.0,44.9 L955.8,46.2 L958.6,47.5 L961.4,48.8 L964.2,50.2 L967.0,51.6 L969.8,53.0 L972.6,54.4 L975.4,55.8 L978.2,57.3 L981.0,58.8 L983.8,60.3 L986.6,61.8 L989.4,63.4 L992.2,64.9 L995.0,66.5 L997.8,68.1 L1000.6,69.8 L1003.4,71.4 L1006.2,73.1 L1009.0,74.9 L1011.8,76.6 L1014.6,78.4 L1017.4,80.2 L1020.2,82.0 L1023.0,83.9 L1025.8,85.8 L1028.6,87.7 L1031.4,89.6 L1034.2,91.6 L1037.0,93.6 L1039.8,95.7 L1042.6,97.8 L1045.4,99.9 L1048.2,102.0 L1051.0,104.2 L1053.8,106.5 L1056.6,108.7 L1059.4,111.1 L1062.2,113.4 L1065.0,115.8 L1067.8,118.3 L1070.6,120.7 L1073.4,123.3 L1076.2,125.8 L1079.0,128.5 L1081.8,131.1 L1084.6,133.9 L1087.4,136.7 L1090.2,139.5 L1093.0,142.4 L1095.8,145.3 L1098.6,148.3 L1101.4,151.4 L1104.2,154.5 L1107.0,157.7 L1109.8,160.9 L1112.6,164.2 L1115.4,167.6 L1118.2,171.1 L1121.0,174.6 L1123.8,178.2 L1126.6,181.8 L1129.4,185.6 L1132.2,189.4 L1135.0,193.3 L1137.8,197.2 L1140.6,201.2 L1143.4,205.4 L1146.2,209.5 L1149.0,213.8 L1151.8,218.1 L1154.6,222.5 L1157.4,226.9 L1160.2,231.4 L1163.0,236.0 L1165.8,240.5 L1168.6,245.0 L1171.4,249.6 L1174.2,254.0 L1177.0,258.3 L1179.8,262.4 L1182.6,266.3 L1185.4,269.7 L1188.2,272.7 L1191.0,274.9 L1193.8,276.4 L1196.6,277.0 L1199.4,276.9 L1202.2,276.8 L1205.0,276.5 L1207.8,276.1 L1210.6,275.6 L1213.4,275.0 L1216.2,274.4 L1219.0,273.5 L1221.8,272.6 L1224.6,271.6 L1227.4,270.5 L1230.2,269.3 L1233.0,268.0 L1235.8,266.6 L1238.6,265.1 L1241.4,263.5 L1244.2,261.8 L1247.0,260.0 L1249.8,258.2 L1252.6,256.2 L1255.4,254.2 L1258.2,252.1 L1261.0,249.9 L1263.8,247.7 L1266.6,245.3 L1269.4,242.9 L1272.2,240.5 L1275.0,238.0 L1277.8,235.4 L1280.6,232.7 L1283.4,230.0 L1286.2,227.2 L1289.0,224.4 L1291.8,221.5 L1294.6,218.6 L1297.4,215.6 L1300.2,212.6 L1303.0,209.5 L1305.8,206.4 L1308.6,203.2 L1311.4,200.0 L1314.2,196.8 L1317.0,193.5 L1319.8,190.2 L1322.6,186.8 L1325.4,183.5 L1328.2,180.0 L1331.0,176.6 L1333.8,173.1 L1336.6,169.6 L1339.4,166.0 L1342.2,162.5 L1345.0,158.9 L1347.8,155.2 L1350.6,151.6 L1353.4,147.9 L1356.2,144.2 L1359.0,140.5 L1361.8,136.7 L1364.6,133.0 L1367.4,129.2 L1370.2,125.4 L1373.0,121.6 L1375.8,117.8 L1378.6,114.0 L1381.4,110.2 L1384.2,106.4 L1387.0,102.7 L1389.8,99.0 L1392.6,95.5 L1395.4,92.1 L1398.2,88.9 L1401.0,85.9 L1403.8,83.0 L1406.6,80.3 L1409.4,77.7 L1412.2,75.1 L1415.0,72.6"/>
</g>
<path d="M935.0,297.0 V290.0 M935.0,4.0 V11.0 M1135.0,297.0 V290.0 M1135.0,4.0 V11.0 M1335.0,297.0 V290.0 M1335.0,4.0 V11.0 M855.0,234.2 H862.0 M1415.0,234.2 H1408.0 M855.0,129.6 H862.0 M1415.0,129.6 H1408.0 M855.0,24.9 H862.0 M1415.0,24.9 H1408.0" stroke="#1a1a1a" stroke-width="1.8" fill="none"/>
<rect x="855.0" y="4.0" width="560.0" height="293.0" fill="none" stroke="#1a1a1a" stroke-width="2"/>
<text x="935.0" y="346.0" text-anchor="middle" class="t">0</text>
<text x="1135.0" y="346.0" text-anchor="middle" class="t">0.5</text>
<text transform="translate(1336.1,347.8) scale(1.35,1)" text-anchor="middle" class="t one">1</text>
<text x="843.0" y="247.7" text-anchor="end" class="t">5</text>
<text x="843.0" y="143.1" text-anchor="end" class="t">10</text>
<text x="843.0" y="38.4" text-anchor="end" class="t">15</text>
<g transform="translate(769.1,222.8) rotate(-90)">
<text x="0" y="0" class="l">I</text>
<text x="11.8" y="19.7" class="l" style="font-size:32.75px">DS</text>
<text x="67.3" y="0" class="l">(</text>
<text transform="translate(83.4,0) scale(1.28,1)" class="l mu">μ</text>
<text x="106" y="0" class="l">A)</text>
</g>
<text x="1135.5" y="398.0" text-anchor="middle" class="l">V<tspan style="font-size:33.3px" dy="19.2">LTG</tspan><tspan dy="-19.2"> (V)</tspan></text>
<text x="1106.2" y="53" class="ann" fill="#3a7d72" style="font-size:35.5px">NaNO<tspan class="annsub" dy="8.3">2</tspan></text>
<rect x="1091.6" y="68.5" width="141.7" height="5.4" fill="#3a7d72"/>
<clipPath id="c3"><rect x="1576.0" y="4.0" width="560.0" height="293.0"/></clipPath>
<g clip-path="url(#c3)" fill="none" stroke-width="2.70" stroke-linejoin="round" stroke-linecap="round">
<path stroke="#52b04e" d="M1555.3,126.4 L1558.2,127.1 L1561.1,127.8 L1564.0,128.6 L1566.9,129.3 L1569.8,130.1 L1572.7,130.8 L1575.6,131.6 L1578.5,132.5 L1581.4,133.3 L1584.3,134.2 L1587.2,135.0 L1590.1,135.9 L1593.0,136.9 L1595.9,137.8 L1598.8,138.8 L1601.7,139.8 L1604.6,140.8 L1607.5,141.9 L1610.4,142.9 L1613.3,144.0 L1616.2,145.2 L1619.1,146.4 L1622.0,147.6 L1624.9,148.8 L1627.9,150.1 L1630.8,151.4 L1633.7,152.7 L1636.6,154.1 L1639.5,155.5 L1642.4,157.0 L1645.3,158.5 L1648.2,160.0 L1651.1,161.6 L1654.0,163.3 L1656.9,164.9 L1659.8,166.7 L1662.7,168.5 L1665.6,170.3 L1668.5,172.2 L1671.4,174.1 L1674.3,176.1 L1677.2,178.1 L1680.1,180.2 L1683.0,182.3 L1685.9,184.5 L1688.8,186.8 L1691.7,189.0 L1694.6,191.4 L1697.5,193.8 L1700.4,196.2 L1703.3,198.7 L1706.3,201.3 L1709.2,203.9 L1712.1,206.5 L1715.0,209.2 L1717.9,211.8 L1720.8,214.6 L1723.7,217.3 L1726.6,220.1 L1729.5,222.8 L1732.4,225.6 L1735.3,228.3 L1738.2,231.1 L1741.1,233.8 L1744.0,236.4 L1746.9,239.1 L1749.8,241.6 L1752.7,244.1 L1755.6,246.5 L1758.5,248.8 L1761.4,251.0 L1764.3,253.0 L1767.2,254.9 L1770.1,256.7 L1773.0,258.3 L1775.9,259.7 L1778.8,261.0 L1781.7,262.0 L1784.7,262.8 L1787.6,263.5 L1790.5,263.9 L1793.4,264.1 L1796.3,264.1 L1799.2,263.9 L1802.1,263.6 L1805.0,263.2 L1807.9,262.6 L1810.8,261.8 L1813.7,261.0 L1816.6,260.0 L1819.5,258.8 L1822.4,257.6 L1825.3,256.2 L1828.2,254.7 L1831.1,253.2 L1834.0,251.5 L1836.9,249.7 L1839.8,247.9 L1842.7,246.0 L1845.6,244.0 L1848.5,242.0 L1851.4,240.0 L1854.3,237.8 L1857.2,235.7 L1860.1,233.5 L1863.1,231.3 L1866.0,229.1 L1868.9,226.9 L1871.8,224.7 L1874.7,222.4 L1877.6,220.2 L1880.5,218.0 L1883.4,215.8 L1886.3,213.6 L1889.2,211.5 L1892.1,209.3 L1895.0,207.2 L1897.9,205.1 L1900.8,203.0 L1903.7,201.0 L1906.6,199.0 L1909.5,197.0 L1912.4,195.1 L1915.3,193.2 L1918.2,191.3 L1921.1,189.5 L1924.0,187.7 L1926.9,186.0 L1929.8,184.3 L1932.7,182.6 L1935.6,181.0 L1938.5,179.3 L1941.5,177.8 L1944.4,176.3 L1947.3,174.8 L1950.2,173.3 L1953.1,171.9 L1956.0,170.5 L1958.9,169.1 L1961.8,167.8 L1964.7,166.5 L1967.6,165.3 L1970.5,164.0 L1973.4,162.8 L1976.3,161.7 L1979.2,160.5 L1982.1,159.4 L1985.0,158.4 L1987.9,157.3 L1990.8,156.3 L1993.7,155.3 L1996.6,154.3 L1999.5,153.3 L2002.4,152.4 L2005.3,151.5 L2008.2,150.6 L2011.1,149.8 L2014.0,148.9 L2016.9,148.1 L2019.9,147.3 L2022.8,146.6 L2025.7,145.8 L2028.6,145.1 L2031.5,144.4 L2034.4,143.6 L2037.3,143.0 L2040.2,142.3 L2043.1,141.6 L2046.0,141.0 L2048.9,140.4 L2051.8,139.8 L2054.7,139.2 L2057.6,138.6 L2060.5,138.1 L2063.4,137.5 L2066.3,137.0 L2069.2,136.4 L2072.1,135.9 L2075.0,135.4 L2077.9,134.9 L2080.8,134.5 L2083.7,134.0 L2086.6,133.5 L2089.5,133.1 L2092.4,132.7 L2095.3,132.2 L2098.3,131.8 L2101.2,131.4 L2104.1,131.0 L2107.0,130.6 L2109.9,130.3 L2112.8,129.9 L2115.7,129.5 L2118.6,129.2 L2121.5,128.8 L2124.4,128.5 L2127.3,128.1 L2130.2,127.8 L2133.1,127.5 L2136.0,127.2"/>
<path stroke="#6fe06a" d="M1555.3,109.6 L1558.2,110.6 L1561.1,111.7 L1564.0,112.7 L1566.9,113.8 L1569.8,115.0 L1572.7,116.1 L1575.6,117.3 L1578.5,118.5 L1581.4,119.7 L1584.3,120.9 L1587.2,122.2 L1590.1,123.4 L1593.0,124.7 L1595.9,126.0 L1598.8,127.4 L1601.7,128.8 L1604.6,130.1 L1607.5,131.6 L1610.4,133.0 L1613.3,134.5 L1616.2,136.0 L1619.1,137.5 L1622.0,139.0 L1624.9,140.6 L1627.9,142.2 L1630.8,143.8 L1633.7,145.5 L1636.6,147.1 L1639.5,148.8 L1642.4,150.6 L1645.3,152.3 L1648.2,154.1 L1651.1,155.9 L1654.0,157.8 L1656.9,159.7 L1659.8,161.6 L1662.7,163.5 L1665.6,165.4 L1668.5,167.4 L1671.4,169.4 L1674.3,171.4 L1677.2,173.5 L1680.1,175.6 L1683.0,177.7 L1685.9,179.8 L1688.8,181.9 L1691.7,184.1 L1694.6,186.3 L1697.5,188.5 L1700.4,190.8 L1703.3,193.0 L1706.3,195.3 L1709.2,197.5 L1712.1,199.8 L1715.0,202.1 L1717.9,204.4 L1720.8,206.8 L1723.7,209.1 L1726.6,211.4 L1729.5,213.7 L1732.4,216.0 L1735.3,218.4 L1738.2,220.7 L1741.1,223.0 L1744.0,225.3 L1746.9,227.5 L1749.8,229.8 L1752.7,232.0 L1755.6,234.2 L1758.5,236.4 L1761.4,238.5 L1764.3,240.6 L1767.2,242.6 L1770.1,244.6 L1773.0,246.6 L1775.9,248.5 L1778.8,250.3 L1781.7,252.1 L1784.7,253.9 L1787.6,255.5 L1790.5,257.1 L1793.4,258.6 L1796.3,260.0 L1799.2,261.3 L1802.1,262.6 L1805.0,263.7 L1807.9,264.8 L1810.8,265.8 L1813.7,266.7 L1816.6,267.4 L1819.5,268.1 L1822.4,268.7 L1825.3,269.1 L1828.2,269.5 L1831.1,269.7 L1834.0,269.8 L1836.9,269.8 L1839.8,269.7 L1842.7,269.3 L1845.6,268.7 L1848.5,267.9 L1851.4,266.9 L1854.3,265.7 L1857.2,264.3 L1860.1,262.7 L1863.1,261.0 L1866.0,259.2 L1868.9,257.2 L1871.8,255.1 L1874.7,252.9 L1877.6,250.6 L1880.5,248.2 L1883.4,245.7 L1886.3,243.2 L1889.2,240.7 L1892.1,238.1 L1895.0,235.5 L1897.9,232.9 L1900.8,230.3 L1903.7,227.7 L1906.6,225.1 L1909.5,222.5 L1912.4,220.0 L1915.3,217.4 L1918.2,215.0 L1921.1,212.5 L1924.0,210.1 L1926.9,207.8 L1929.8,205.5 L1932.7,203.2 L1935.6,201.0 L1938.5,198.9 L1941.5,196.8 L1944.4,194.8 L1947.3,192.8 L1950.2,190.8 L1953.1,189.0 L1956.0,187.1 L1958.9,185.4 L1961.8,183.6 L1964.7,182.0 L1967.6,180.4 L1970.5,178.8 L1973.4,177.3 L1976.3,175.8 L1979.2,174.3 L1982.1,173.0 L1985.0,171.6 L1987.9,170.3 L1990.8,169.0 L1993.7,167.8 L1996.6,166.6 L1999.5,165.5 L2002.4,164.4 L2005.3,163.3 L2008.2,162.3 L2011.1,161.2 L2014.0,160.3 L2016.9,159.3 L2019.9,158.4 L2022.8,157.5 L2025.7,156.6 L2028.6,155.8 L2031.5,155.0 L2034.4,154.2 L2037.3,153.4 L2040.2,152.7 L2043.1,152.0 L2046.0,151.3 L2048.9,150.6 L2051.8,149.9 L2054.7,149.3 L2057.6,148.7 L2060.5,148.0 L2063.4,147.5 L2066.3,146.9 L2069.2,146.3 L2072.1,145.8 L2075.0,145.3 L2077.9,144.8 L2080.8,144.3 L2083.7,143.8 L2086.6,143.3 L2089.5,142.9 L2092.4,142.4 L2095.3,142.0 L2098.3,141.6 L2101.2,141.2 L2104.1,140.8 L2107.0,140.4 L2109.9,140.0 L2112.8,139.6 L2115.7,139.3 L2118.6,138.9 L2121.5,138.6 L2124.4,138.3 L2127.3,137.9 L2130.2,137.6 L2133.1,137.3 L2136.0,137.0"/>
<path stroke="#4caf48" d="M1555.3,103.8 L1558.2,104.7 L1561.1,105.6 L1564.0,106.5 L1566.9,107.5 L1569.8,108.4 L1572.7,109.4 L1575.6,110.4 L1578.5,111.4 L1581.4,112.4 L1584.3,113.4 L1587.2,114.5 L1590.1,115.5 L1593.0,116.6 L1595.9,117.7 L1598.8,118.8 L1601.7,120.0 L1604.6,121.1 L1607.5,122.3 L1610.4,123.5 L1613.3,124.7 L1616.2,125.9 L1619.1,127.2 L1622.0,128.5 L1624.9,129.8 L1627.9,131.1 L1630.8,132.4 L1633.7,133.8 L1636.6,135.1 L1639.5,136.5 L1642.4,138.0 L1645.3,139.4 L1648.2,140.9 L1651.1,142.4 L1654.0,143.9 L1656.9,145.4 L1659.8,147.0 L1662.7,148.6 L1665.6,150.2 L1668.5,151.8 L1671.4,153.5 L1674.3,155.2 L1677.2,156.9 L1680.1,158.6 L1683.0,160.4 L1685.9,162.2 L1688.8,164.0 L1691.7,165.8 L1694.6,167.7 L1697.5,169.6 L1700.4,171.5 L1703.3,173.4 L1706.3,175.4 L1709.2,177.4 L1712.1,179.4 L1715.0,181.4 L1717.9,183.5 L1720.8,185.5 L1723.7,187.6 L1726.6,189.8 L1729.5,191.9 L1732.4,194.0 L1735.3,196.2 L1738.2,198.4 L1741.1,200.6 L1744.0,202.8 L1746.9,205.0 L1749.8,207.3 L1752.7,209.5 L1755.6,211.8 L1758.5,214.1 L1761.4,216.3 L1764.3,218.6 L1767.2,220.9 L1770.1,223.1 L1773.0,225.4 L1775.9,227.7 L1778.8,229.9 L1781.7,232.1 L1784.7,234.4 L1787.6,236.6 L1790.5,238.7 L1793.4,240.9 L1796.3,243.0 L1799.2,245.1 L1802.1,247.1 L1805.0,249.1 L1807.9,251.1 L1810.8,253.0 L1813.7,254.8 L1816.6,256.5 L1819.5,258.2 L1822.4,259.7 L1825.3,261.2 L1828.2,262.6 L1831.1,263.8 L1834.0,264.9 L1836.9,265.9 L1839.8,266.8 L1842.7,267.4 L1845.6,268.0 L1848.5,268.4 L1851.4,268.6 L1854.3,268.6 L1857.2,268.5 L1860.1,268.1 L1863.1,267.6 L1866.0,266.8 L1868.9,265.9 L1871.8,264.7 L1874.7,263.4 L1877.6,261.9 L1880.5,260.3 L1883.4,258.5 L1886.3,256.6 L1889.2,254.5 L1892.1,252.4 L1895.0,250.1 L1897.9,247.8 L1900.8,245.4 L1903.7,242.9 L1906.6,240.4 L1909.5,237.9 L1912.4,235.3 L1915.3,232.7 L1918.2,230.2 L1921.1,227.6 L1924.0,225.0 L1926.9,222.4 L1929.8,219.9 L1932.7,217.4 L1935.6,214.9 L1938.5,212.5 L1941.5,210.1 L1944.4,207.7 L1947.3,205.4 L1950.2,203.2 L1953.1,200.9 L1956.0,198.8 L1958.9,196.7 L1961.8,194.6 L1964.7,192.6 L1967.6,190.6 L1970.5,188.7 L1973.4,186.9 L1976.3,185.1 L1979.2,183.4 L1982.1,181.7 L1985.0,180.0 L1987.9,178.4 L1990.8,176.9 L1993.7,175.3 L1996.6,173.9 L1999.5,172.5 L2002.4,171.1 L2005.3,169.8 L2008.2,168.5 L2011.1,167.2 L2014.0,166.0 L2016.9,164.8 L2019.9,163.7 L2022.8,162.6 L2025.7,161.5 L2028.6,160.5 L2031.5,159.5 L2034.4,158.5 L2037.3,157.5 L2040.2,156.6 L2043.1,155.7 L2046.0,154.9 L2048.9,154.0 L2051.8,153.2 L2054.7,152.4 L2057.6,151.6 L2060.5,150.9 L2063.4,150.2 L2066.3,149.5 L2069.2,148.8 L2072.1,148.1 L2075.0,147.5 L2077.9,146.9 L2080.8,146.3 L2083.7,145.7 L2086.6,145.1 L2089.5,144.5 L2092.4,144.0 L2095.3,143.5 L2098.3,143.0 L2101.2,142.5 L2104.1,142.0 L2107.0,141.5 L2109.9,141.0 L2112.8,140.6 L2115.7,140.2 L2118.6,139.7 L2121.5,139.3 L2124.4,138.9 L2127.3,138.5 L2130.2,138.1 L2133.1,137.8 L2136.0,137.4"/>
<path stroke="#6fe06a" d="M1555.3,100.8 L1558.2,101.6 L1561.1,102.5 L1564.0,103.3 L1566.9,104.2 L1569.8,105.1 L1572.7,106.0 L1575.6,106.9 L1578.5,107.8 L1581.4,108.7 L1584.3,109.7 L1587.2,110.6 L1590.1,111.6 L1593.0,112.6 L1595.9,113.6 L1598.8,114.6 L1601.7,115.6 L1604.6,116.6 L1607.5,117.7 L1610.4,118.8 L1613.3,119.9 L1616.2,121.0 L1619.1,122.1 L1622.0,123.2 L1624.9,124.4 L1627.9,125.5 L1630.8,126.7 L1633.7,127.9 L1636.6,129.2 L1639.5,130.4 L1642.4,131.7 L1645.3,133.0 L1648.2,134.3 L1651.1,135.6 L1654.0,136.9 L1656.9,138.3 L1659.8,139.7 L1662.7,141.1 L1665.6,142.5 L1668.5,144.0 L1671.4,145.5 L1674.3,147.0 L1677.2,148.5 L1680.1,150.0 L1683.0,151.6 L1685.9,153.2 L1688.8,154.8 L1691.7,156.4 L1694.6,158.1 L1697.5,159.8 L1700.4,161.5 L1703.3,163.2 L1706.3,165.0 L1709.2,166.7 L1712.1,168.6 L1715.0,170.4 L1717.9,172.2 L1720.8,174.1 L1723.7,176.0 L1726.6,178.0 L1729.5,179.9 L1732.4,181.9 L1735.3,183.9 L1738.2,185.9 L1741.1,188.0 L1744.0,190.0 L1746.9,192.1 L1749.8,194.2 L1752.7,196.4 L1755.6,198.5 L1758.5,200.7 L1761.4,202.9 L1764.3,205.1 L1767.2,207.4 L1770.1,209.6 L1773.0,211.9 L1775.9,214.1 L1778.8,216.4 L1781.7,218.7 L1784.7,221.0 L1787.6,223.4 L1790.5,225.7 L1793.4,228.0 L1796.3,230.3 L1799.2,232.6 L1802.1,234.9 L1805.0,237.2 L1807.9,239.5 L1810.8,241.7 L1813.7,244.0 L1816.6,246.1 L1819.5,248.3 L1822.4,250.4 L1825.3,252.4 L1828.2,254.3 L1831.1,256.2 L1834.0,258.0 L1836.9,259.6 L1839.8,261.2 L1842.7,262.6 L1845.6,263.9 L1848.5,265.0 L1851.4,265.9 L1854.3,266.7 L1857.2,267.3 L1860.1,267.7 L1863.1,267.9 L1866.0,267.9 L1868.9,267.7 L1871.8,267.3 L1874.7,266.7 L1877.6,265.9 L1880.5,264.9 L1883.4,263.7 L1886.3,262.3 L1889.2,260.8 L1892.1,259.1 L1895.0,257.3 L1897.9,255.4 L1900.8,253.3 L1903.7,251.2 L1906.6,248.9 L1909.5,246.6 L1912.4,244.2 L1915.3,241.7 L1918.2,239.3 L1921.1,236.7 L1924.0,234.2 L1926.9,231.6 L1929.8,229.0 L1932.7,226.5 L1935.6,223.9 L1938.5,221.4 L1941.5,218.9 L1944.4,216.4 L1947.3,213.9 L1950.2,211.5 L1953.1,209.1 L1956.0,206.8 L1958.9,204.5 L1961.8,202.2 L1964.7,200.0 L1967.6,197.9 L1970.5,195.8 L1973.4,193.7 L1976.3,191.7 L1979.2,189.8 L1982.1,187.9 L1985.0,186.0 L1987.9,184.2 L1990.8,182.5 L1993.7,180.8 L1996.6,179.2 L1999.5,177.6 L2002.4,176.0 L2005.3,174.5 L2008.2,173.0 L2011.1,171.6 L2014.0,170.2 L2016.9,168.9 L2019.9,167.6 L2022.8,166.4 L2025.7,165.1 L2028.6,164.0 L2031.5,162.8 L2034.4,161.7 L2037.3,160.6 L2040.2,159.6 L2043.1,158.6 L2046.0,157.6 L2048.9,156.6 L2051.8,155.7 L2054.7,154.8 L2057.6,154.0 L2060.5,153.1 L2063.4,152.3 L2066.3,151.5 L2069.2,150.7 L2072.1,150.0 L2075.0,149.2 L2077.9,148.5 L2080.8,147.9 L2083.7,147.2 L2086.6,146.5 L2089.5,145.9 L2092.4,145.3 L2095.3,144.7 L2098.3,144.1 L2101.2,143.6 L2104.1,143.0 L2107.0,142.5 L2109.9,142.0 L2112.8,141.5 L2115.7,141.0 L2118.6,140.5 L2121.5,140.0 L2124.4,139.6 L2127.3,139.1 L2130.2,138.7 L2133.1,138.3 L2136.0,137.9"/>
<path stroke="#2a7a2a" d="M1555.3,98.6 L1558.2,99.4 L1561.1,100.2 L1564.0,101.0 L1566.9,101.8 L1569.8,102.7 L1572.7,103.5 L1575.6,104.4 L1578.5,105.2 L1581.4,106.1 L1584.3,107.0 L1587.2,107.9 L1590.1,108.8 L1593.0,109.7 L1595.9,110.6 L1598.8,111.5 L1601.7,112.5 L1604.6,113.5 L1607.5,114.4 L1610.4,115.4 L1613.3,116.4 L1616.2,117.5 L1619.1,118.5 L1622.0,119.5 L1624.9,120.6 L1627.9,121.7 L1630.8,122.8 L1633.7,123.9 L1636.6,125.0 L1639.5,126.1 L1642.4,127.3 L1645.3,128.4 L1648.2,129.6 L1651.1,130.8 L1654.0,132.1 L1656.9,133.3 L1659.8,134.6 L1662.7,135.8 L1665.6,137.1 L1668.5,138.4 L1671.4,139.8 L1674.3,141.1 L1677.2,142.5 L1680.1,143.9 L1683.0,145.3 L1685.9,146.8 L1688.8,148.2 L1691.7,149.7 L1694.6,151.2 L1697.5,152.7 L1700.4,154.3 L1703.3,155.9 L1706.3,157.5 L1709.2,159.1 L1712.1,160.7 L1715.0,162.4 L1717.9,164.1 L1720.8,165.8 L1723.7,167.5 L1726.6,169.3 L1729.5,171.1 L1732.4,172.9 L1735.3,174.8 L1738.2,176.6 L1741.1,178.5 L1744.0,180.5 L1746.9,182.4 L1749.8,184.4 L1752.7,186.4 L1755.6,188.4 L1758.5,190.5 L1761.4,192.6 L1764.3,194.7 L1767.2,196.8 L1770.1,199.0 L1773.0,201.2 L1775.9,203.4 L1778.8,205.6 L1781.7,207.9 L1784.7,210.1 L1787.6,212.4 L1790.5,214.8 L1793.4,217.1 L1796.3,219.5 L1799.2,221.8 L1802.1,224.2 L1805.0,226.6 L1807.9,229.0 L1810.8,231.4 L1813.7,233.9 L1816.6,236.3 L1819.5,238.6 L1822.4,241.0 L1825.3,243.4 L1828.2,245.7 L1831.1,247.9 L1834.0,250.1 L1836.9,252.3 L1839.8,254.3 L1842.7,256.3 L1845.6,258.1 L1848.5,259.8 L1851.4,261.4 L1854.3,262.8 L1857.2,264.1 L1860.1,265.1 L1863.1,266.0 L1866.0,266.7 L1868.9,267.1 L1871.8,267.3 L1874.7,267.3 L1877.6,267.1 L1880.5,266.7 L1883.4,266.1 L1886.3,265.3 L1889.2,264.3 L1892.1,263.1 L1895.0,261.7 L1897.9,260.2 L1900.8,258.6 L1903.7,256.8 L1906.6,254.9 L1909.5,252.8 L1912.4,250.7 L1915.3,248.4 L1918.2,246.1 L1921.1,243.7 L1924.0,241.3 L1926.9,238.8 L1929.8,236.3 L1932.7,233.8 L1935.6,231.2 L1938.5,228.7 L1941.5,226.1 L1944.4,223.6 L1947.3,221.0 L1950.2,218.5 L1953.1,216.0 L1956.0,213.6 L1958.9,211.2 L1961.8,208.8 L1964.7,206.4 L1967.6,204.2 L1970.5,201.9 L1973.4,199.7 L1976.3,197.5 L1979.2,195.4 L1982.1,193.4 L1985.0,191.4 L1987.9,189.4 L1990.8,187.5 L1993.7,185.7 L1996.6,183.9 L1999.5,182.1 L2002.4,180.4 L2005.3,178.8 L2008.2,177.2 L2011.1,175.6 L2014.0,174.1 L2016.9,172.6 L2019.9,171.2 L2022.8,169.8 L2025.7,168.5 L2028.6,167.2 L2031.5,165.9 L2034.4,164.7 L2037.3,163.5 L2040.2,162.3 L2043.1,161.2 L2046.0,160.1 L2048.9,159.1 L2051.8,158.1 L2054.7,157.1 L2057.6,156.1 L2060.5,155.2 L2063.4,154.3 L2066.3,153.4 L2069.2,152.5 L2072.1,151.7 L2075.0,150.9 L2077.9,150.1 L2080.8,149.4 L2083.7,148.6 L2086.6,147.9 L2089.5,147.2 L2092.4,146.6 L2095.3,145.9 L2098.3,145.3 L2101.2,144.6 L2104.1,144.0 L2107.0,143.5 L2109.9,142.9 L2112.8,142.3 L2115.7,141.8 L2118.6,141.3 L2121.5,140.8 L2124.4,140.3 L2127.3,139.8 L2130.2,139.3 L2133.1,138.8 L2136.0,138.4"/>
<path stroke="#6fe06a" d="M1555.3,96.5 L1558.2,97.3 L1561.1,98.1 L1564.0,98.8 L1566.9,99.6 L1569.8,100.4 L1572.7,101.2 L1575.6,102.0 L1578.5,102.8 L1581.4,103.7 L1584.3,104.5 L1587.2,105.3 L1590.1,106.2 L1593.0,107.1 L1595.9,107.9 L1598.8,108.8 L1601.7,109.7 L1604.6,110.6 L1607.5,111.5 L1610.4,112.4 L1613.3,113.4 L1616.2,114.3 L1619.1,115.3 L1622.0,116.2 L1624.9,117.2 L1627.9,118.2 L1630.8,119.2 L1633.7,120.2 L1636.6,121.2 L1639.5,122.3 L1642.4,123.3 L1645.3,124.4 L1648.2,125.5 L1651.1,126.6 L1654.0,127.7 L1656.9,128.8 L1659.8,130.0 L1662.7,131.1 L1665.6,132.3 L1668.5,133.5 L1671.4,134.7 L1674.3,135.9 L1677.2,137.2 L1680.1,138.4 L1683.0,139.7 L1685.9,141.0 L1688.8,142.3 L1691.7,143.7 L1694.6,145.0 L1697.5,146.4 L1700.4,147.8 L1703.3,149.2 L1706.3,150.7 L1709.2,152.1 L1712.1,153.6 L1715.0,155.1 L1717.9,156.7 L1720.8,158.2 L1723.7,159.8 L1726.6,161.4 L1729.5,163.0 L1732.4,164.7 L1735.3,166.4 L1738.2,168.1 L1741.1,169.8 L1744.0,171.6 L1746.9,173.4 L1749.8,175.2 L1752.7,177.0 L1755.6,178.9 L1758.5,180.8 L1761.4,182.7 L1764.3,184.7 L1767.2,186.7 L1770.1,188.7 L1773.0,190.8 L1775.9,192.9 L1778.8,195.0 L1781.7,197.2 L1784.7,199.4 L1787.6,201.6 L1790.5,203.8 L1793.4,206.1 L1796.3,208.4 L1799.2,210.8 L1802.1,213.2 L1805.0,215.6 L1807.9,218.0 L1810.8,220.5 L1813.7,223.0 L1816.6,225.5 L1819.5,228.0 L1822.4,230.5 L1825.3,233.0 L1828.2,235.6 L1831.1,238.1 L1834.0,240.6 L1836.9,243.1 L1839.8,245.5 L1842.7,247.9 L1845.6,250.2 L1848.5,252.5 L1851.4,254.6 L1854.3,256.6 L1857.2,258.5 L1860.1,260.2 L1863.1,261.8 L1866.0,263.2 L1868.9,264.4 L1871.8,265.3 L1874.7,266.0 L1877.6,266.5 L1880.5,266.7 L1883.4,266.7 L1886.3,266.5 L1889.2,266.1 L1892.1,265.5 L1895.0,264.7 L1897.9,263.7 L1900.8,262.5 L1903.7,261.2 L1906.6,259.7 L1909.5,258.0 L1912.4,256.2 L1915.3,254.3 L1918.2,252.3 L1921.1,250.2 L1924.0,247.9 L1926.9,245.6 L1929.8,243.3 L1932.7,240.9 L1935.6,238.4 L1938.5,235.9 L1941.5,233.4 L1944.4,230.8 L1947.3,228.3 L1950.2,225.8 L1953.1,223.2 L1956.0,220.7 L1958.9,218.2 L1961.8,215.7 L1964.7,213.3 L1967.6,210.8 L1970.5,208.5 L1973.4,206.1 L1976.3,203.8 L1979.2,201.6 L1982.1,199.4 L1985.0,197.2 L1987.9,195.1 L1990.8,193.1 L1993.7,191.1 L1996.6,189.1 L1999.5,187.2 L2002.4,185.4 L2005.3,183.5 L2008.2,181.8 L2011.1,180.1 L2014.0,178.4 L2016.9,176.8 L2019.9,175.2 L2022.8,173.7 L2025.7,172.2 L2028.6,170.8 L2031.5,169.4 L2034.4,168.1 L2037.3,166.7 L2040.2,165.5 L2043.1,164.2 L2046.0,163.0 L2048.9,161.9 L2051.8,160.7 L2054.7,159.7 L2057.6,158.6 L2060.5,157.6 L2063.4,156.6 L2066.3,155.6 L2069.2,154.6 L2072.1,153.7 L2075.0,152.8 L2077.9,152.0 L2080.8,151.1 L2083.7,150.3 L2086.6,149.5 L2089.5,148.8 L2092.4,148.0 L2095.3,147.3 L2098.3,146.6 L2101.2,145.9 L2104.1,145.3 L2107.0,144.6 L2109.9,144.0 L2112.8,143.4 L2115.7,142.8 L2118.6,142.2 L2121.5,141.7 L2124.4,141.1 L2127.3,140.6 L2130.2,140.1 L2133.1,139.6 L2136.0,139.1"/>
<path stroke="#4caf48" d="M1555.3,94.5 L1558.2,95.3 L1561.1,96.0 L1564.0,96.8 L1566.9,97.5 L1569.8,98.3 L1572.7,99.1 L1575.6,99.9 L1578.5,100.6 L1581.4,101.4 L1584.3,102.2 L1587.2,103.0 L1590.1,103.8 L1593.0,104.7 L1595.9,105.5 L1598.8,106.3 L1601.7,107.2 L1604.6,108.0 L1607.5,108.9 L1610.4,109.7 L1613.3,110.6 L1616.2,111.5 L1619.1,112.4 L1622.0,113.3 L1624.9,114.2 L1627.9,115.1 L1630.8,116.0 L1633.7,117.0 L1636.6,117.9 L1639.5,118.9 L1642.4,119.8 L1645.3,120.8 L1648.2,121.8 L1651.1,122.8 L1654.0,123.8 L1656.9,124.9 L1659.8,125.9 L1662.7,127.0 L1665.6,128.0 L1668.5,129.1 L1671.4,130.2 L1674.3,131.3 L1677.2,132.5 L1680.1,133.6 L1683.0,134.8 L1685.9,135.9 L1688.8,137.1 L1691.7,138.3 L1694.6,139.5 L1697.5,140.8 L1700.4,142.0 L1703.3,143.3 L1706.3,144.6 L1709.2,145.9 L1712.1,147.3 L1715.0,148.6 L1717.9,150.0 L1720.8,151.4 L1723.7,152.8 L1726.6,154.2 L1729.5,155.7 L1732.4,157.2 L1735.3,158.7 L1738.2,160.3 L1741.1,161.8 L1744.0,163.4 L1746.9,165.0 L1749.8,166.7 L1752.7,168.4 L1755.6,170.1 L1758.5,171.8 L1761.4,173.6 L1764.3,175.4 L1767.2,177.2 L1770.1,179.1 L1773.0,181.0 L1775.9,182.9 L1778.8,184.9 L1781.7,186.9 L1784.7,189.0 L1787.6,191.1 L1790.5,193.2 L1793.4,195.4 L1796.3,197.6 L1799.2,199.8 L1802.1,202.1 L1805.0,204.5 L1807.9,206.8 L1810.8,209.3 L1813.7,211.7 L1816.6,214.2 L1819.5,216.7 L1822.4,219.3 L1825.3,221.9 L1828.2,224.5 L1831.1,227.2 L1834.0,229.8 L1836.9,232.5 L1839.8,235.2 L1842.7,237.9 L1845.6,240.5 L1848.5,243.1 L1851.4,245.7 L1854.3,248.2 L1857.2,250.6 L1860.1,252.9 L1863.1,255.1 L1866.0,257.2 L1868.9,259.1 L1871.8,260.8 L1874.7,262.3 L1877.6,263.6 L1880.5,264.6 L1883.4,265.4 L1886.3,265.9 L1889.2,266.2 L1892.1,266.1 L1895.0,265.9 L1897.9,265.5 L1900.8,264.9 L1903.7,264.1 L1906.6,263.1 L1909.5,261.9 L1912.4,260.6 L1915.3,259.1 L1918.2,257.4 L1921.1,255.7 L1924.0,253.8 L1926.9,251.8 L1929.8,249.7 L1932.7,247.5 L1935.6,245.2 L1938.5,242.8 L1941.5,240.4 L1944.4,238.0 L1947.3,235.5 L1950.2,233.0 L1953.1,230.5 L1956.0,227.9 L1958.9,225.4 L1961.8,222.9 L1964.7,220.4 L1967.6,217.9 L1970.5,215.4 L1973.4,212.9 L1976.3,210.5 L1979.2,208.2 L1982.1,205.8 L1985.0,203.5 L1987.9,201.3 L1990.8,199.1 L1993.7,196.9 L1996.6,194.8 L1999.5,192.8 L2002.4,190.8 L2005.3,188.8 L2008.2,186.9 L2011.1,185.0 L2014.0,183.2 L2016.9,181.4 L2019.9,179.7 L2022.8,178.1 L2025.7,176.4 L2028.6,174.9 L2031.5,173.3 L2034.4,171.8 L2037.3,170.4 L2040.2,169.0 L2043.1,167.6 L2046.0,166.3 L2048.9,165.0 L2051.8,163.8 L2054.7,162.6 L2057.6,161.4 L2060.5,160.3 L2063.4,159.2 L2066.3,158.1 L2069.2,157.1 L2072.1,156.0 L2075.0,155.1 L2077.9,154.1 L2080.8,153.2 L2083.7,152.3 L2086.6,151.4 L2089.5,150.6 L2092.4,149.8 L2095.3,149.0 L2098.3,148.2 L2101.2,147.4 L2104.1,146.7 L2107.0,146.0 L2109.9,145.3 L2112.8,144.6 L2115.7,144.0 L2118.6,143.3 L2121.5,142.7 L2124.4,142.1 L2127.3,141.5 L2130.2,141.0 L2133.1,140.4 L2136.0,139.9"/>
<path stroke="#64d660" d="M1555.3,92.6 L1558.2,93.3 L1561.1,94.1 L1564.0,94.8 L1566.9,95.5 L1569.8,96.3 L1572.7,97.0 L1575.6,97.8 L1578.5,98.6 L1581.4,99.3 L1584.3,100.1 L1587.2,100.9 L1590.1,101.6 L1593.0,102.4 L1595.9,103.2 L1598.8,104.0 L1601.7,104.8 L1604.6,105.6 L1607.5,106.4 L1610.4,107.2 L1613.3,108.1 L1616.2,108.9 L1619.1,109.7 L1622.0,110.6 L1624.9,111.4 L1627.9,112.3 L1630.8,113.2 L1633.7,114.0 L1636.6,114.9 L1639.5,115.8 L1642.4,116.7 L1645.3,117.6 L1648.2,118.5 L1651.1,119.5 L1654.0,120.4 L1656.9,121.3 L1659.8,122.3 L1662.7,123.3 L1665.6,124.2 L1668.5,125.2 L1671.4,126.2 L1674.3,127.2 L1677.2,128.3 L1680.1,129.3 L1683.0,130.3 L1685.9,131.4 L1688.8,132.5 L1691.7,133.5 L1694.6,134.6 L1697.5,135.8 L1700.4,136.9 L1703.3,138.0 L1706.3,139.2 L1709.2,140.4 L1712.1,141.6 L1715.0,142.8 L1717.9,144.0 L1720.8,145.3 L1723.7,146.5 L1726.6,147.8 L1729.5,149.1 L1732.4,150.5 L1735.3,151.8 L1738.2,153.2 L1741.1,154.6 L1744.0,156.0 L1746.9,157.5 L1749.8,159.0 L1752.7,160.5 L1755.6,162.0 L1758.5,163.6 L1761.4,165.2 L1764.3,166.8 L1767.2,168.4 L1770.1,170.1 L1773.0,171.9 L1775.9,173.6 L1778.8,175.4 L1781.7,177.3 L1784.7,179.2 L1787.6,181.1 L1790.5,183.0 L1793.4,185.1 L1796.3,187.1 L1799.2,189.2 L1802.1,191.4 L1805.0,193.6 L1807.9,195.8 L1810.8,198.1 L1813.7,200.5 L1816.6,202.9 L1819.5,205.3 L1822.4,207.8 L1825.3,210.4 L1828.2,213.0 L1831.1,215.7 L1834.0,218.3 L1836.9,221.1 L1839.8,223.9 L1842.7,226.7 L1845.6,229.5 L1848.5,232.3 L1851.4,235.1 L1854.3,238.0 L1857.2,240.8 L1860.1,243.5 L1863.1,246.2 L1866.0,248.8 L1868.9,251.3 L1871.8,253.7 L1874.7,255.9 L1877.6,258.0 L1880.5,259.8 L1883.4,261.4 L1886.3,262.8 L1889.2,263.9 L1892.1,264.8 L1895.0,265.3 L1897.9,265.6 L1900.8,265.5 L1903.7,265.3 L1906.6,264.9 L1909.5,264.3 L1912.4,263.5 L1915.3,262.5 L1918.2,261.3 L1921.1,260.0 L1924.0,258.5 L1926.9,256.9 L1929.8,255.1 L1932.7,253.2 L1935.6,251.3 L1938.5,249.2 L1941.5,247.0 L1944.4,244.7 L1947.3,242.4 L1950.2,240.0 L1953.1,237.6 L1956.0,235.1 L1958.9,232.6 L1961.8,230.1 L1964.7,227.6 L1967.6,225.0 L1970.5,222.5 L1973.4,220.0 L1976.3,217.5 L1979.2,215.1 L1982.1,212.6 L1985.0,210.2 L1987.9,207.8 L1990.8,205.5 L1993.7,203.2 L1996.6,201.0 L1999.5,198.8 L2002.4,196.6 L2005.3,194.5 L2008.2,192.4 L2011.1,190.4 L2014.0,188.5 L2016.9,186.5 L2019.9,184.7 L2022.8,182.9 L2025.7,181.1 L2028.6,179.4 L2031.5,177.7 L2034.4,176.1 L2037.3,174.5 L2040.2,172.9 L2043.1,171.4 L2046.0,170.0 L2048.9,168.6 L2051.8,167.2 L2054.7,165.9 L2057.6,164.6 L2060.5,163.3 L2063.4,162.1 L2066.3,160.9 L2069.2,159.8 L2072.1,158.7 L2075.0,157.6 L2077.9,156.5 L2080.8,155.5 L2083.7,154.5 L2086.6,153.6 L2089.5,152.6 L2092.4,151.7 L2095.3,150.9 L2098.3,150.0 L2101.2,149.2 L2104.1,148.4 L2107.0,147.6 L2109.9,146.8 L2112.8,146.1 L2115.7,145.4 L2118.6,144.7 L2121.5,144.0 L2124.4,143.3 L2127.3,142.7 L2130.2,142.1 L2133.1,141.5 L2136.0,140.9"/>
<path stroke="#4caf48" d="M1555.3,90.7 L1558.2,91.4 L1561.1,92.1 L1564.0,92.9 L1566.9,93.6 L1569.8,94.3 L1572.7,95.1 L1575.6,95.8 L1578.5,96.5 L1581.4,97.3 L1584.3,98.0 L1587.2,98.8 L1590.1,99.6 L1593.0,100.3 L1595.9,101.1 L1598.8,101.8 L1601.7,102.6 L1604.6,103.4 L1607.5,104.2 L1610.4,104.9 L1613.3,105.7 L1616.2,106.5 L1619.1,107.3 L1622.0,108.1 L1624.9,108.9 L1627.9,109.7 L1630.8,110.6 L1633.7,111.4 L1636.6,112.2 L1639.5,113.1 L1642.4,113.9 L1645.3,114.7 L1648.2,115.6 L1651.1,116.5 L1654.0,117.3 L1656.9,118.2 L1659.8,119.1 L1662.7,120.0 L1665.6,120.9 L1668.5,121.8 L1671.4,122.7 L1674.3,123.6 L1677.2,124.5 L1680.1,125.5 L1683.0,126.4 L1685.9,127.4 L1688.8,128.3 L1691.7,129.3 L1694.6,130.3 L1697.5,131.3 L1700.4,132.3 L1703.3,133.4 L1706.3,134.4 L1709.2,135.5 L1712.1,136.5 L1715.0,137.6 L1717.9,138.7 L1720.8,139.8 L1723.7,141.0 L1726.6,142.1 L1729.5,143.3 L1732.4,144.4 L1735.3,145.7 L1738.2,146.9 L1741.1,148.1 L1744.0,149.4 L1746.9,150.7 L1749.8,152.0 L1752.7,153.3 L1755.6,154.7 L1758.5,156.1 L1761.4,157.5 L1764.3,158.9 L1767.2,160.4 L1770.1,161.9 L1773.0,163.5 L1775.9,165.1 L1778.8,166.7 L1781.7,168.3 L1784.7,170.0 L1787.6,171.8 L1790.5,173.5 L1793.4,175.4 L1796.3,177.2 L1799.2,179.2 L1802.1,181.1 L1805.0,183.2 L1807.9,185.2 L1810.8,187.4 L1813.7,189.6 L1816.6,191.8 L1819.5,194.1 L1822.4,196.5 L1825.3,198.9 L1828.2,201.4 L1831.1,204.0 L1834.0,206.6 L1836.9,209.3 L1839.8,212.0 L1842.7,214.8 L1845.6,217.7 L1848.5,220.6 L1851.4,223.5 L1854.3,226.5 L1857.2,229.4 L1860.1,232.4 L1863.1,235.4 L1866.0,238.4 L1868.9,241.3 L1871.8,244.2 L1874.7,247.0 L1877.6,249.7 L1880.5,252.2 L1883.4,254.6 L1886.3,256.8 L1889.2,258.8 L1892.1,260.6 L1895.0,262.1 L1897.9,263.3 L1900.8,264.2 L1903.7,264.7 L1906.6,265.0 L1909.5,265.0 L1912.4,264.7 L1915.3,264.3 L1918.2,263.7 L1921.1,262.9 L1924.0,261.9 L1926.9,260.7 L1929.8,259.4 L1932.7,257.9 L1935.6,256.3 L1938.5,254.6 L1941.5,252.7 L1944.4,250.7 L1947.3,248.7 L1950.2,246.5 L1953.1,244.2 L1956.0,241.9 L1958.9,239.6 L1961.8,237.1 L1964.7,234.7 L1967.6,232.2 L1970.5,229.7 L1973.4,227.2 L1976.3,224.7 L1979.2,222.2 L1982.1,219.7 L1985.0,217.2 L1987.9,214.7 L1990.8,212.3 L1993.7,209.9 L1996.6,207.5 L1999.5,205.2 L2002.4,202.9 L2005.3,200.7 L2008.2,198.5 L2011.1,196.3 L2014.0,194.2 L2016.9,192.1 L2019.9,190.1 L2022.8,188.1 L2025.7,186.2 L2028.6,184.3 L2031.5,182.5 L2034.4,180.7 L2037.3,179.0 L2040.2,177.3 L2043.1,175.7 L2046.0,174.1 L2048.9,172.5 L2051.8,171.0 L2054.7,169.6 L2057.6,168.2 L2060.5,166.8 L2063.4,165.4 L2066.3,164.1 L2069.2,162.9 L2072.1,161.6 L2075.0,160.5 L2077.9,159.3 L2080.8,158.2 L2083.7,157.1 L2086.6,156.0 L2089.5,155.0 L2092.4,154.0 L2095.3,153.0 L2098.3,152.1 L2101.2,151.2 L2104.1,150.3 L2107.0,149.4 L2109.9,148.6 L2112.8,147.8 L2115.7,147.0 L2118.6,146.2 L2121.5,145.5 L2124.4,144.7 L2127.3,144.0 L2130.2,143.3 L2133.1,142.7 L2136.0,142.0"/>
<path stroke="#6fe06a" d="M1555.3,88.7 L1558.2,89.4 L1561.1,90.2 L1564.0,90.9 L1566.9,91.6 L1569.8,92.3 L1572.7,93.1 L1575.6,93.8 L1578.5,94.5 L1581.4,95.3 L1584.3,96.0 L1587.2,96.8 L1590.1,97.5 L1593.0,98.3 L1595.9,99.1 L1598.8,99.8 L1601.7,100.6 L1604.6,101.4 L1607.5,102.1 L1610.4,102.9 L1613.3,103.7 L1616.2,104.5 L1619.1,105.3 L1622.0,106.1 L1624.9,106.9 L1627.9,107.7 L1630.8,108.5 L1633.7,109.4 L1636.6,110.2 L1639.5,111.0 L1642.4,111.9 L1645.3,112.7 L1648.2,113.6 L1651.1,114.4 L1654.0,115.3 L1656.9,116.2 L1659.8,117.1 L1662.7,118.0 L1665.6,118.9 L1668.5,119.8 L1671.4,120.7 L1674.3,121.6 L1677.2,122.5 L1680.1,123.5 L1683.0,124.4 L1685.9,125.4 L1688.8,126.4 L1691.7,127.4 L1694.6,128.4 L1697.5,129.4 L1700.4,130.4 L1703.3,131.4 L1706.3,132.5 L1709.2,133.5 L1712.1,134.6 L1715.0,135.7 L1717.9,136.8 L1720.8,137.9 L1723.7,139.1 L1726.6,140.2 L1729.5,141.4 L1732.4,142.6 L1735.3,143.8 L1738.2,145.0 L1741.1,146.3 L1744.0,147.6 L1746.9,148.9 L1749.8,150.2 L1752.7,151.5 L1755.6,152.9 L1758.5,154.3 L1761.4,155.7 L1764.3,157.2 L1767.2,158.7 L1770.1,160.2 L1773.0,161.7 L1775.9,163.3 L1778.8,164.9 L1781.7,166.6 L1784.7,168.3 L1787.6,170.0 L1790.5,171.8 L1793.4,173.6 L1796.3,175.5 L1799.2,177.4 L1802.1,179.3 L1805.0,181.3 L1807.9,183.4 L1810.8,185.5 L1813.7,187.7 L1816.6,189.9 L1819.5,192.2 L1822.4,194.5 L1825.3,196.9 L1828.2,199.4 L1831.1,201.9 L1834.0,204.4 L1836.9,207.1 L1839.8,209.8 L1842.7,212.5 L1845.6,215.3 L1848.5,218.2 L1851.4,221.0 L1854.3,224.0 L1857.2,226.9 L1860.1,229.9 L1863.1,232.9 L1866.0,235.8 L1868.9,238.7 L1871.8,241.6 L1874.7,244.5 L1877.6,247.2 L1880.5,249.8 L1883.4,252.3 L1886.3,254.7 L1889.2,256.8 L1892.1,258.8 L1895.0,260.4 L1897.9,261.9 L1900.8,263.0 L1903.7,263.9 L1906.6,264.4 L1909.5,264.6 L1912.4,264.6 L1915.3,264.3 L1918.2,263.8 L1921.1,263.2 L1924.0,262.4 L1926.9,261.4 L1929.8,260.2 L1932.7,258.8 L1935.6,257.3 L1938.5,255.7 L1941.5,253.9 L1944.4,252.0 L1947.3,250.0 L1950.2,247.9 L1953.1,245.7 L1956.0,243.4 L1958.9,241.1 L1961.8,238.6 L1964.7,236.2 L1967.6,233.7 L1970.5,231.2 L1973.4,228.7 L1976.3,226.1 L1979.2,223.6 L1982.1,221.0 L1985.0,218.5 L1987.9,216.0 L1990.8,213.5 L1993.7,211.1 L1996.6,208.6 L1999.5,206.2 L2002.4,203.9 L2005.3,201.6 L2008.2,199.3 L2011.1,197.0 L2014.0,194.9 L2016.9,192.7 L2019.9,190.6 L2022.8,188.6 L2025.7,186.6 L2028.6,184.7 L2031.5,182.8 L2034.4,180.9 L2037.3,179.1 L2040.2,177.4 L2043.1,175.7 L2046.0,174.0 L2048.9,172.4 L2051.8,170.8 L2054.7,169.3 L2057.6,167.8 L2060.5,166.4 L2063.4,165.0 L2066.3,163.6 L2069.2,162.3 L2072.1,161.0 L2075.0,159.8 L2077.9,158.6 L2080.8,157.4 L2083.7,156.3 L2086.6,155.2 L2089.5,154.1 L2092.4,153.1 L2095.3,152.1 L2098.3,151.1 L2101.2,150.1 L2104.1,149.2 L2107.0,148.3 L2109.9,147.4 L2112.8,146.6 L2115.7,145.8 L2118.6,145.0 L2121.5,144.2 L2124.4,143.4 L2127.3,142.7 L2130.2,142.0 L2133.1,141.3 L2136.0,140.6"/>
<path stroke="#2a7a2a" d="M1555.3,86.7 L1558.2,87.5 L1561.1,88.2 L1564.0,88.9 L1566.9,89.6 L1569.8,90.3 L1572.7,91.1 L1575.6,91.8 L1578.5,92.5 L1581.4,93.3 L1584.3,94.0 L1587.2,94.8 L1590.1,95.5 L1593.0,96.3 L1595.9,97.0 L1598.8,97.8 L1601.7,98.6 L1604.6,99.3 L1607.5,100.1 L1610.4,100.9 L1613.3,101.7 L1616.2,102.5 L1619.1,103.3 L1622.0,104.1 L1624.9,104.9 L1627.9,105.7 L1630.8,106.5 L1633.7,107.3 L1636.6,108.2 L1639.5,109.0 L1642.4,109.8 L1645.3,110.7 L1648.2,111.5 L1651.1,112.4 L1654.0,113.3 L1656.9,114.2 L1659.8,115.0 L1662.7,115.9 L1665.6,116.8 L1668.5,117.8 L1671.4,118.7 L1674.3,119.6 L1677.2,120.5 L1680.1,121.5 L1683.0,122.5 L1685.9,123.4 L1688.8,124.4 L1691.7,125.4 L1694.6,126.4 L1697.5,127.4 L1700.4,128.4 L1703.3,129.5 L1706.3,130.5 L1709.2,131.6 L1712.1,132.7 L1715.0,133.8 L1717.9,134.9 L1720.8,136.0 L1723.7,137.2 L1726.6,138.3 L1729.5,139.5 L1732.4,140.7 L1735.3,141.9 L1738.2,143.2 L1741.1,144.4 L1744.0,145.7 L1746.9,147.0 L1749.8,148.4 L1752.7,149.7 L1755.6,151.1 L1758.5,152.5 L1761.4,153.9 L1764.3,155.4 L1767.2,156.9 L1770.1,158.4 L1773.0,159.9 L1775.9,161.5 L1778.8,163.2 L1781.7,164.8 L1784.7,166.5 L1787.6,168.2 L1790.5,170.0 L1793.4,171.8 L1796.3,173.7 L1799.2,175.6 L1802.1,177.5 L1805.0,179.5 L1807.9,181.5 L1810.8,183.6 L1813.7,185.8 L1816.6,188.0 L1819.5,190.2 L1822.4,192.5 L1825.3,194.9 L1828.2,197.3 L1831.1,199.8 L1834.0,202.3 L1836.9,204.9 L1839.8,207.6 L1842.7,210.3 L1845.6,213.0 L1848.5,215.8 L1851.4,218.7 L1854.3,221.5 L1857.2,224.4 L1860.1,227.4 L1863.1,230.3 L1866.0,233.3 L1868.9,236.2 L1871.8,239.1 L1874.7,241.9 L1877.6,244.7 L1880.5,247.4 L1883.4,250.0 L1886.3,252.4 L1889.2,254.7 L1892.1,256.8 L1895.0,258.7 L1897.9,260.3 L1900.8,261.7 L1903.7,262.8 L1906.6,263.6 L1909.5,264.1 L1912.4,264.3 L1915.3,264.2 L1918.2,263.9 L1921.1,263.4 L1924.0,262.7 L1926.9,261.9 L1929.8,260.8 L1932.7,259.6 L1935.6,258.3 L1938.5,256.7 L1941.5,255.0 L1944.4,253.2 L1947.3,251.3 L1950.2,249.3 L1953.1,247.1 L1956.0,244.9 L1958.9,242.6 L1961.8,240.2 L1964.7,237.7 L1967.6,235.2 L1970.5,232.7 L1973.4,230.2 L1976.3,227.6 L1979.2,225.0 L1982.1,222.5 L1985.0,219.9 L1987.9,217.3 L1990.8,214.8 L1993.7,212.3 L1996.6,209.8 L1999.5,207.3 L2002.4,204.9 L2005.3,202.5 L2008.2,200.2 L2011.1,197.9 L2014.0,195.6 L2016.9,193.4 L2019.9,191.3 L2022.8,189.1 L2025.7,187.1 L2028.6,185.1 L2031.5,183.1 L2034.4,181.2 L2037.3,179.3 L2040.2,177.5 L2043.1,175.7 L2046.0,174.0 L2048.9,172.3 L2051.8,170.7 L2054.7,169.1 L2057.6,167.6 L2060.5,166.1 L2063.4,164.6 L2066.3,163.2 L2069.2,161.8 L2072.1,160.5 L2075.0,159.2 L2077.9,158.0 L2080.8,156.7 L2083.7,155.6 L2086.6,154.4 L2089.5,153.3 L2092.4,152.2 L2095.3,151.1 L2098.3,150.1 L2101.2,149.1 L2104.1,148.2 L2107.0,147.2 L2109.9,146.3 L2112.8,145.4 L2115.7,144.6 L2118.6,143.7 L2121.5,142.9 L2124.4,142.1 L2127.3,141.4 L2130.2,140.6 L2133.1,139.9 L2136.0,139.2"/>
<path stroke="#3f9a3b" d="M1555.3,84.8 L1558.2,85.5 L1561.1,86.2 L1564.0,86.9 L1566.9,87.6 L1569.8,88.4 L1572.7,89.1 L1575.6,89.8 L1578.5,90.5 L1581.4,91.3 L1584.3,92.0 L1587.2,92.8 L1590.1,93.5 L1593.0,94.3 L1595.9,95.0 L1598.8,95.8 L1601.7,96.5 L1604.6,97.3 L1607.5,98.1 L1610.4,98.9 L1613.3,99.6 L1616.2,100.4 L1619.1,101.2 L1622.0,102.0 L1624.9,102.8 L1627.9,103.7 L1630.8,104.5 L1633.7,105.3 L1636.6,106.1 L1639.5,107.0 L1642.4,107.8 L1645.3,108.7 L1648.2,109.5 L1651.1,110.4 L1654.0,111.2 L1656.9,112.1 L1659.8,113.0 L1662.7,113.9 L1665.6,114.8 L1668.5,115.7 L1671.4,116.7 L1674.3,117.6 L1677.2,118.5 L1680.1,119.5 L1683.0,120.4 L1685.9,121.4 L1688.8,122.4 L1691.7,123.4 L1694.6,124.4 L1697.5,125.4 L1700.4,126.5 L1703.3,127.5 L1706.3,128.6 L1709.2,129.6 L1712.1,130.7 L1715.0,131.8 L1717.9,133.0 L1720.8,134.1 L1723.7,135.2 L1726.6,136.4 L1729.5,137.6 L1732.4,138.8 L1735.3,140.0 L1738.2,141.3 L1741.1,142.6 L1744.0,143.8 L1746.9,145.2 L1749.8,146.5 L1752.7,147.9 L1755.6,149.2 L1758.5,150.6 L1761.4,152.1 L1764.3,153.6 L1767.2,155.0 L1770.1,156.6 L1773.0,158.1 L1775.9,159.7 L1778.8,161.3 L1781.7,163.0 L1784.7,164.7 L1787.6,166.4 L1790.5,168.2 L1793.4,170.0 L1796.3,171.8 L1799.2,173.7 L1802.1,175.7 L1805.0,177.7 L1807.9,179.7 L1810.8,181.8 L1813.7,183.9 L1816.6,186.1 L1819.5,188.3 L1822.4,190.6 L1825.3,192.9 L1828.2,195.3 L1831.1,197.8 L1834.0,200.3 L1836.9,202.8 L1839.8,205.4 L1842.7,208.1 L1845.6,210.8 L1848.5,213.5 L1851.4,216.3 L1854.3,219.2 L1857.2,222.0 L1860.1,224.9 L1863.1,227.8 L1866.0,230.8 L1868.9,233.7 L1871.8,236.6 L1874.7,239.4 L1877.6,242.2 L1880.5,244.9 L1883.4,247.6 L1886.3,250.1 L1889.2,252.5 L1892.1,254.7 L1895.0,256.7 L1897.9,258.6 L1900.8,260.2 L1903.7,261.5 L1906.6,262.5 L1909.5,263.3 L1912.4,263.7 L1915.3,263.9 L1918.2,263.8 L1921.1,263.5 L1924.0,263.0 L1926.9,262.3 L1929.8,261.4 L1932.7,260.3 L1935.6,259.1 L1938.5,257.7 L1941.5,256.1 L1944.4,254.4 L1947.3,252.6 L1950.2,250.6 L1953.1,248.5 L1956.0,246.3 L1958.9,244.1 L1961.8,241.7 L1964.7,239.3 L1967.6,236.8 L1970.5,234.3 L1973.4,231.7 L1976.3,229.2 L1979.2,226.6 L1982.1,224.0 L1985.0,221.4 L1987.9,218.8 L1990.8,216.2 L1993.7,213.6 L1996.6,211.0 L1999.5,208.5 L2002.4,206.0 L2005.3,203.6 L2008.2,201.2 L2011.1,198.8 L2014.0,196.5 L2016.9,194.2 L2019.9,192.0 L2022.8,189.8 L2025.7,187.6 L2028.6,185.6 L2031.5,183.5 L2034.4,181.5 L2037.3,179.6 L2040.2,177.7 L2043.1,175.9 L2046.0,174.1 L2048.9,172.3 L2051.8,170.6 L2054.7,169.0 L2057.6,167.4 L2060.5,165.8 L2063.4,164.3 L2066.3,162.8 L2069.2,161.4 L2072.1,160.0 L2075.0,158.7 L2077.9,157.4 L2080.8,156.1 L2083.7,154.9 L2086.6,153.7 L2089.5,152.5 L2092.4,151.4 L2095.3,150.3 L2098.3,149.2 L2101.2,148.2 L2104.1,147.2 L2107.0,146.2 L2109.9,145.3 L2112.8,144.3 L2115.7,143.4 L2118.6,142.6 L2121.5,141.7 L2124.4,140.9 L2127.3,140.1 L2130.2,139.3 L2133.1,138.6 L2136.0,137.8"/>
<path stroke="#4caf48" d="M1555.3,82.8 L1558.2,83.5 L1561.1,84.2 L1564.0,84.9 L1566.9,85.7 L1569.8,86.4 L1572.7,87.1 L1575.6,87.8 L1578.5,88.5 L1581.4,89.3 L1584.3,90.0 L1587.2,90.8 L1590.1,91.5 L1593.0,92.2 L1595.9,93.0 L1598.8,93.8 L1601.7,94.5 L1604.6,95.3 L1607.5,96.1 L1610.4,96.8 L1613.3,97.6 L1616.2,98.4 L1619.1,99.2 L1622.0,100.0 L1624.9,100.8 L1627.9,101.6 L1630.8,102.4 L1633.7,103.3 L1636.6,104.1 L1639.5,104.9 L1642.4,105.8 L1645.3,106.6 L1648.2,107.5 L1651.1,108.3 L1654.0,109.2 L1656.9,110.1 L1659.8,111.0 L1662.7,111.9 L1665.6,112.8 L1668.5,113.7 L1671.4,114.6 L1674.3,115.6 L1677.2,116.5 L1680.1,117.5 L1683.0,118.4 L1685.9,119.4 L1688.8,120.4 L1691.7,121.4 L1694.6,122.4 L1697.5,123.4 L1700.4,124.5 L1703.3,125.5 L1706.3,126.6 L1709.2,127.7 L1712.1,128.8 L1715.0,129.9 L1717.9,131.0 L1720.8,132.1 L1723.7,133.3 L1726.6,134.5 L1729.5,135.7 L1732.4,136.9 L1735.3,138.1 L1738.2,139.4 L1741.1,140.6 L1744.0,141.9 L1746.9,143.3 L1749.8,144.6 L1752.7,146.0 L1755.6,147.4 L1758.5,148.8 L1761.4,150.2 L1764.3,151.7 L1767.2,153.2 L1770.1,154.7 L1773.0,156.3 L1775.9,157.9 L1778.8,159.5 L1781.7,161.2 L1784.7,162.8 L1787.6,164.6 L1790.5,166.3 L1793.4,168.2 L1796.3,170.0 L1799.2,171.9 L1802.1,173.8 L1805.0,175.8 L1807.9,177.8 L1810.8,179.9 L1813.7,182.0 L1816.6,184.2 L1819.5,186.4 L1822.4,188.6 L1825.3,190.9 L1828.2,193.3 L1831.1,195.7 L1834.0,198.2 L1836.9,200.7 L1839.8,203.3 L1842.7,205.9 L1845.6,208.6 L1848.5,211.3 L1851.4,214.0 L1854.3,216.8 L1857.2,219.7 L1860.1,222.5 L1863.1,225.4 L1866.0,228.3 L1868.9,231.2 L1871.8,234.1 L1874.7,236.9 L1877.6,239.7 L1880.5,242.5 L1883.4,245.2 L1886.3,247.8 L1889.2,250.2 L1892.1,252.6 L1895.0,254.7 L1897.9,256.7 L1900.8,258.5 L1903.7,260.0 L1906.6,261.3 L1909.5,262.3 L1912.4,263.0 L1915.3,263.4 L1918.2,263.5 L1921.1,263.4 L1924.0,263.1 L1926.9,262.5 L1929.8,261.8 L1932.7,260.9 L1935.6,259.8 L1938.5,258.5 L1941.5,257.1 L1944.4,255.5 L1947.3,253.8 L1950.2,251.9 L1953.1,249.9 L1956.0,247.8 L1958.9,245.5 L1961.8,243.2 L1964.7,240.8 L1967.6,238.4 L1970.5,235.9 L1973.4,233.3 L1976.3,230.8 L1979.2,228.1 L1982.1,225.5 L1985.0,222.9 L1987.9,220.2 L1990.8,217.6 L1993.7,215.0 L1996.6,212.4 L1999.5,209.8 L2002.4,207.3 L2005.3,204.7 L2008.2,202.3 L2011.1,199.8 L2014.0,197.4 L2016.9,195.1 L2019.9,192.8 L2022.8,190.5 L2025.7,188.3 L2028.6,186.1 L2031.5,184.0 L2034.4,182.0 L2037.3,180.0 L2040.2,178.0 L2043.1,176.1 L2046.0,174.2 L2048.9,172.4 L2051.8,170.7 L2054.7,168.9 L2057.6,167.3 L2060.5,165.7 L2063.4,164.1 L2066.3,162.6 L2069.2,161.1 L2072.1,159.6 L2075.0,158.2 L2077.9,156.9 L2080.8,155.5 L2083.7,154.3 L2086.6,153.0 L2089.5,151.8 L2092.4,150.6 L2095.3,149.5 L2098.3,148.4 L2101.2,147.3 L2104.1,146.2 L2107.0,145.2 L2109.9,144.2 L2112.8,143.3 L2115.7,142.3 L2118.6,141.4 L2121.5,140.6 L2124.4,139.7 L2127.3,138.9 L2130.2,138.1 L2133.1,137.3 L2136.0,136.5"/>
<path stroke="#5bc656" d="M1555.3,80.9 L1558.2,81.6 L1561.1,82.3 L1564.0,83.0 L1566.9,83.7 L1569.8,84.4 L1572.7,85.1 L1575.6,85.8 L1578.5,86.6 L1581.4,87.3 L1584.3,88.0 L1587.2,88.7 L1590.1,89.5 L1593.0,90.2 L1595.9,91.0 L1598.8,91.7 L1601.7,92.5 L1604.6,93.3 L1607.5,94.0 L1610.4,94.8 L1613.3,95.6 L1616.2,96.4 L1619.1,97.2 L1622.0,98.0 L1624.9,98.8 L1627.9,99.6 L1630.8,100.4 L1633.7,101.2 L1636.6,102.0 L1639.5,102.9 L1642.4,103.7 L1645.3,104.6 L1648.2,105.4 L1651.1,106.3 L1654.0,107.2 L1656.9,108.0 L1659.8,108.9 L1662.7,109.8 L1665.6,110.7 L1668.5,111.7 L1671.4,112.6 L1674.3,113.5 L1677.2,114.5 L1680.1,115.4 L1683.0,116.4 L1685.9,117.4 L1688.8,118.4 L1691.7,119.4 L1694.6,120.4 L1697.5,121.4 L1700.4,122.4 L1703.3,123.5 L1706.3,124.6 L1709.2,125.7 L1712.1,126.8 L1715.0,127.9 L1717.9,129.0 L1720.8,130.1 L1723.7,131.3 L1726.6,132.5 L1729.5,133.7 L1732.4,134.9 L1735.3,136.2 L1738.2,137.4 L1741.1,138.7 L1744.0,140.0 L1746.9,141.3 L1749.8,142.7 L1752.7,144.0 L1755.6,145.4 L1758.5,146.9 L1761.4,148.3 L1764.3,149.8 L1767.2,151.3 L1770.1,152.8 L1773.0,154.4 L1775.9,156.0 L1778.8,157.6 L1781.7,159.3 L1784.7,161.0 L1787.6,162.7 L1790.5,164.5 L1793.4,166.3 L1796.3,168.1 L1799.2,170.0 L1802.1,171.9 L1805.0,173.9 L1807.9,175.9 L1810.8,178.0 L1813.7,180.1 L1816.6,182.2 L1819.5,184.4 L1822.4,186.7 L1825.3,189.0 L1828.2,191.3 L1831.1,193.7 L1834.0,196.1 L1836.9,198.6 L1839.8,201.2 L1842.7,203.7 L1845.6,206.4 L1848.5,209.1 L1851.4,211.8 L1854.3,214.5 L1857.2,217.3 L1860.1,220.2 L1863.1,223.0 L1866.0,225.9 L1868.9,228.7 L1871.8,231.6 L1874.7,234.4 L1877.6,237.3 L1880.5,240.0 L1883.4,242.8 L1886.3,245.4 L1889.2,247.9 L1892.1,250.3 L1895.0,252.6 L1897.9,254.7 L1900.8,256.6 L1903.7,258.3 L1906.6,259.8 L1909.5,261.0 L1912.4,262.0 L1915.3,262.7 L1918.2,263.0 L1921.1,263.1 L1924.0,263.0 L1926.9,262.6 L1929.8,262.1 L1932.7,261.3 L1935.6,260.4 L1938.5,259.3 L1941.5,258.0 L1944.4,256.5 L1947.3,254.9 L1950.2,253.1 L1953.1,251.2 L1956.0,249.1 L1958.9,247.0 L1961.8,244.7 L1964.7,242.4 L1967.6,240.0 L1970.5,237.5 L1973.4,235.0 L1976.3,232.4 L1979.2,229.8 L1982.1,227.1 L1985.0,224.4 L1987.9,221.8 L1990.8,219.1 L1993.7,216.4 L1996.6,213.8 L1999.5,211.2 L2002.4,208.6 L2005.3,206.0 L2008.2,203.4 L2011.1,200.9 L2014.0,198.5 L2016.9,196.0 L2019.9,193.7 L2022.8,191.3 L2025.7,189.1 L2028.6,186.8 L2031.5,184.6 L2034.4,182.5 L2037.3,180.4 L2040.2,178.4 L2043.1,176.4 L2046.0,174.5 L2048.9,172.6 L2051.8,170.8 L2054.7,169.0 L2057.6,167.3 L2060.5,165.6 L2063.4,163.9 L2066.3,162.3 L2069.2,160.8 L2072.1,159.3 L2075.0,157.8 L2077.9,156.4 L2080.8,155.0 L2083.7,153.7 L2086.6,152.4 L2089.5,151.1 L2092.4,149.9 L2095.3,148.7 L2098.3,147.6 L2101.2,146.4 L2104.1,145.3 L2107.0,144.3 L2109.9,143.3 L2112.8,142.3 L2115.7,141.3 L2118.6,140.3 L2121.5,139.4 L2124.4,138.5 L2127.3,137.7 L2130.2,136.8 L2133.1,136.0 L2136.0,135.2"/>
<path stroke="#2a7a2a" d="M1555.3,78.9 L1558.2,79.6 L1561.1,80.3 L1564.0,81.0 L1566.9,81.7 L1569.8,82.4 L1572.7,83.1 L1575.6,83.8 L1578.5,84.6 L1581.4,85.3 L1584.3,86.0 L1587.2,86.7 L1590.1,87.5 L1593.0,88.2 L1595.9,89.0 L1598.8,89.7 L1601.7,90.5 L1604.6,91.2 L1607.5,92.0 L1610.4,92.8 L1613.3,93.6 L1616.2,94.3 L1619.1,95.1 L1622.0,95.9 L1624.9,96.7 L1627.9,97.5 L1630.8,98.3 L1633.7,99.2 L1636.6,100.0 L1639.5,100.8 L1642.4,101.7 L1645.3,102.5 L1648.2,103.4 L1651.1,104.2 L1654.0,105.1 L1656.9,106.0 L1659.8,106.9 L1662.7,107.8 L1665.6,108.7 L1668.5,109.6 L1671.4,110.5 L1674.3,111.5 L1677.2,112.4 L1680.1,113.4 L1683.0,114.3 L1685.9,115.3 L1688.8,116.3 L1691.7,117.3 L1694.6,118.3 L1697.5,119.4 L1700.4,120.4 L1703.3,121.5 L1706.3,122.5 L1709.2,123.6 L1712.1,124.7 L1715.0,125.9 L1717.9,127.0 L1720.8,128.1 L1723.7,129.3 L1726.6,130.5 L1729.5,131.7 L1732.4,132.9 L1735.3,134.2 L1738.2,135.4 L1741.1,136.7 L1744.0,138.0 L1746.9,139.4 L1749.8,140.7 L1752.7,142.1 L1755.6,143.5 L1758.5,144.9 L1761.4,146.4 L1764.3,147.9 L1767.2,149.4 L1770.1,150.9 L1773.0,152.5 L1775.9,154.1 L1778.8,155.7 L1781.7,157.4 L1784.7,159.1 L1787.6,160.8 L1790.5,162.6 L1793.4,164.4 L1796.3,166.2 L1799.2,168.1 L1802.1,170.0 L1805.0,172.0 L1807.9,174.0 L1810.8,176.0 L1813.7,178.1 L1816.6,180.3 L1819.5,182.5 L1822.4,184.7 L1825.3,187.0 L1828.2,189.3 L1831.1,191.7 L1834.0,194.1 L1836.9,196.5 L1839.8,199.1 L1842.7,201.6 L1845.6,204.2 L1848.5,206.9 L1851.4,209.6 L1854.3,212.3 L1857.2,215.0 L1860.1,217.8 L1863.1,220.7 L1866.0,223.5 L1868.9,226.3 L1871.8,229.2 L1874.7,232.0 L1877.6,234.8 L1880.5,237.6 L1883.4,240.4 L1886.3,243.0 L1889.2,245.6 L1892.1,248.1 L1895.0,250.5 L1897.9,252.7 L1900.8,254.7 L1903.7,256.6 L1906.6,258.2 L1909.5,259.6 L1912.4,260.8 L1915.3,261.7 L1918.2,262.3 L1921.1,262.7 L1924.0,262.7 L1926.9,262.6 L1929.8,262.2 L1932.7,261.6 L1935.6,260.9 L1938.5,259.9 L1941.5,258.7 L1944.4,257.4 L1947.3,255.9 L1950.2,254.2 L1953.1,252.4 L1956.0,250.5 L1958.9,248.4 L1961.8,246.2 L1964.7,243.9 L1967.6,241.6 L1970.5,239.1 L1973.4,236.6 L1976.3,234.0 L1979.2,231.4 L1982.1,228.8 L1985.0,226.1 L1987.9,223.4 L1990.8,220.7 L1993.7,218.0 L1996.6,215.3 L1999.5,212.6 L2002.4,209.9 L2005.3,207.3 L2008.2,204.7 L2011.1,202.1 L2014.0,199.6 L2016.9,197.1 L2019.9,194.7 L2022.8,192.2 L2025.7,189.9 L2028.6,187.6 L2031.5,185.3 L2034.4,183.1 L2037.3,181.0 L2040.2,178.9 L2043.1,176.8 L2046.0,174.8 L2048.9,172.9 L2051.8,171.0 L2054.7,169.1 L2057.6,167.3 L2060.5,165.6 L2063.4,163.9 L2066.3,162.2 L2069.2,160.6 L2072.1,159.0 L2075.0,157.5 L2077.9,156.0 L2080.8,154.6 L2083.7,153.2 L2086.6,151.8 L2089.5,150.5 L2092.4,149.3 L2095.3,148.0 L2098.3,146.8 L2101.2,145.6 L2104.1,144.5 L2107.0,143.4 L2109.9,142.3 L2112.8,141.3 L2115.7,140.3 L2118.6,139.3 L2121.5,138.4 L2124.4,137.4 L2127.3,136.5 L2130.2,135.7 L2133.1,134.8 L2136.0,134.0"/>
<path stroke="#388f35" d="M1555.3,77.0 L1558.2,77.7 L1561.1,78.4 L1564.0,79.1 L1566.9,79.7 L1569.8,80.5 L1572.7,81.2 L1575.6,81.9 L1578.5,82.6 L1581.4,83.3 L1584.3,84.0 L1587.2,84.8 L1590.1,85.5 L1593.0,86.2 L1595.9,87.0 L1598.8,87.7 L1601.7,88.5 L1604.6,89.2 L1607.5,90.0 L1610.4,90.7 L1613.3,91.5 L1616.2,92.3 L1619.1,93.1 L1622.0,93.9 L1624.9,94.7 L1627.9,95.5 L1630.8,96.3 L1633.7,97.1 L1636.6,97.9 L1639.5,98.8 L1642.4,99.6 L1645.3,100.4 L1648.2,101.3 L1651.1,102.2 L1654.0,103.0 L1656.9,103.9 L1659.8,104.8 L1662.7,105.7 L1665.6,106.6 L1668.5,107.5 L1671.4,108.5 L1674.3,109.4 L1677.2,110.3 L1680.1,111.3 L1683.0,112.3 L1685.9,113.3 L1688.8,114.3 L1691.7,115.3 L1694.6,116.3 L1697.5,117.3 L1700.4,118.4 L1703.3,119.4 L1706.3,120.5 L1709.2,121.6 L1712.1,122.7 L1715.0,123.8 L1717.9,125.0 L1720.8,126.1 L1723.7,127.3 L1726.6,128.5 L1729.5,129.7 L1732.4,130.9 L1735.3,132.2 L1738.2,133.4 L1741.1,134.7 L1744.0,136.0 L1746.9,137.4 L1749.8,138.7 L1752.7,140.1 L1755.6,141.5 L1758.5,142.9 L1761.4,144.4 L1764.3,145.9 L1767.2,147.4 L1770.1,149.0 L1773.0,150.5 L1775.9,152.1 L1778.8,153.8 L1781.7,155.4 L1784.7,157.1 L1787.6,158.9 L1790.5,160.6 L1793.4,162.4 L1796.3,164.3 L1799.2,166.2 L1802.1,168.1 L1805.0,170.1 L1807.9,172.1 L1810.8,174.1 L1813.7,176.2 L1816.6,178.3 L1819.5,180.5 L1822.4,182.7 L1825.3,185.0 L1828.2,187.3 L1831.1,189.6 L1834.0,192.0 L1836.9,194.5 L1839.8,197.0 L1842.7,199.5 L1845.6,202.1 L1848.5,204.7 L1851.4,207.4 L1854.3,210.1 L1857.2,212.8 L1860.1,215.5 L1863.1,218.3 L1866.0,221.1 L1868.9,224.0 L1871.8,226.8 L1874.7,229.6 L1877.6,232.4 L1880.5,235.2 L1883.4,238.0 L1886.3,240.7 L1889.2,243.3 L1892.1,245.8 L1895.0,248.2 L1897.9,250.5 L1900.8,252.7 L1903.7,254.7 L1906.6,256.5 L1909.5,258.1 L1912.4,259.5 L1915.3,260.6 L1918.2,261.4 L1921.1,262.0 L1924.0,262.3 L1926.9,262.4 L1929.8,262.2 L1932.7,261.8 L1935.6,261.2 L1938.5,260.4 L1941.5,259.4 L1944.4,258.2 L1947.3,256.8 L1950.2,255.3 L1953.1,253.6 L1956.0,251.8 L1958.9,249.8 L1961.8,247.7 L1964.7,245.5 L1967.6,243.1 L1970.5,240.7 L1973.4,238.2 L1976.3,235.7 L1979.2,233.1 L1982.1,230.4 L1985.0,227.7 L1987.9,225.0 L1990.8,222.3 L1993.7,219.6 L1996.6,216.8 L1999.5,214.1 L2002.4,211.4 L2005.3,208.7 L2008.2,206.0 L2011.1,203.4 L2014.0,200.8 L2016.9,198.3 L2019.9,195.7 L2022.8,193.3 L2025.7,190.8 L2028.6,188.4 L2031.5,186.1 L2034.4,183.8 L2037.3,181.6 L2040.2,179.4 L2043.1,177.3 L2046.0,175.2 L2048.9,173.2 L2051.8,171.2 L2054.7,169.3 L2057.6,167.4 L2060.5,165.6 L2063.4,163.9 L2066.3,162.1 L2069.2,160.5 L2072.1,158.8 L2075.0,157.3 L2077.9,155.7 L2080.8,154.2 L2083.7,152.8 L2086.6,151.4 L2089.5,150.0 L2092.4,148.7 L2095.3,147.4 L2098.3,146.1 L2101.2,144.9 L2104.1,143.7 L2107.0,142.6 L2109.9,141.5 L2112.8,140.4 L2115.7,139.3 L2118.6,138.3 L2121.5,137.3 L2124.4,136.4 L2127.3,135.4 L2130.2,134.5 L2133.1,133.6 L2136.0,132.8"/>
<path stroke="#6fe06a" d="M1555.3,75.0 L1558.2,75.7 L1561.1,76.4 L1564.0,77.1 L1566.9,77.8 L1569.8,78.5 L1572.7,79.2 L1575.6,79.9 L1578.5,80.6 L1581.4,81.3 L1584.3,82.0 L1587.2,82.8 L1590.1,83.5 L1593.0,84.2 L1595.9,85.0 L1598.8,85.7 L1601.7,86.4 L1604.6,87.2 L1607.5,88.0 L1610.4,88.7 L1613.3,89.5 L1616.2,90.3 L1619.1,91.0 L1622.0,91.8 L1624.9,92.6 L1627.9,93.4 L1630.8,94.2 L1633.7,95.1 L1636.6,95.9 L1639.5,96.7 L1642.4,97.5 L1645.3,98.4 L1648.2,99.2 L1651.1,100.1 L1654.0,101.0 L1656.9,101.8 L1659.8,102.7 L1662.7,103.6 L1665.6,104.5 L1668.5,105.5 L1671.4,106.4 L1674.3,107.3 L1677.2,108.3 L1680.1,109.2 L1683.0,110.2 L1685.9,111.2 L1688.8,112.2 L1691.7,113.2 L1694.6,114.2 L1697.5,115.2 L1700.4,116.3 L1703.3,117.4 L1706.3,118.4 L1709.2,119.5 L1712.1,120.6 L1715.0,121.8 L1717.9,122.9 L1720.8,124.1 L1723.7,125.2 L1726.6,126.4 L1729.5,127.6 L1732.4,128.9 L1735.3,130.1 L1738.2,131.4 L1741.1,132.7 L1744.0,134.0 L1746.9,135.3 L1749.8,136.7 L1752.7,138.1 L1755.6,139.5 L1758.5,140.9 L1761.4,142.4 L1764.3,143.9 L1767.2,145.4 L1770.1,147.0 L1773.0,148.5 L1775.9,150.2 L1778.8,151.8 L1781.7,153.5 L1784.7,155.2 L1787.6,156.9 L1790.5,158.7 L1793.4,160.5 L1796.3,162.3 L1799.2,164.2 L1802.1,166.1 L1805.0,168.1 L1807.9,170.1 L1810.8,172.1 L1813.7,174.2 L1816.6,176.3 L1819.5,178.5 L1822.4,180.7 L1825.3,183.0 L1828.2,185.3 L1831.1,187.6 L1834.0,190.0 L1836.9,192.4 L1839.8,194.9 L1842.7,197.4 L1845.6,199.9 L1848.5,202.5 L1851.4,205.2 L1854.3,207.8 L1857.2,210.6 L1860.1,213.3 L1863.1,216.1 L1866.0,218.8 L1868.9,221.6 L1871.8,224.4 L1874.7,227.2 L1877.6,230.0 L1880.5,232.8 L1883.4,235.6 L1886.3,238.3 L1889.2,240.9 L1892.1,243.5 L1895.0,246.0 L1897.9,248.4 L1900.8,250.6 L1903.7,252.7 L1906.6,254.7 L1909.5,256.4 L1912.4,258.0 L1915.3,259.3 L1918.2,260.3 L1921.1,261.2 L1924.0,261.7 L1926.9,262.0 L1929.8,262.0 L1932.7,261.8 L1935.6,261.3 L1938.5,260.7 L1941.5,259.9 L1944.4,258.9 L1947.3,257.6 L1950.2,256.3 L1953.1,254.7 L1956.0,253.0 L1958.9,251.1 L1961.8,249.1 L1964.7,246.9 L1967.6,244.7 L1970.5,242.3 L1973.4,239.9 L1976.3,237.4 L1979.2,234.8 L1982.1,232.1 L1985.0,229.4 L1987.9,226.7 L1990.8,224.0 L1993.7,221.2 L1996.6,218.5 L1999.5,215.7 L2002.4,212.9 L2005.3,210.2 L2008.2,207.5 L2011.1,204.8 L2014.0,202.1 L2016.9,199.5 L2019.9,196.9 L2022.8,194.4 L2025.7,191.9 L2028.6,189.4 L2031.5,187.0 L2034.4,184.6 L2037.3,182.3 L2040.2,180.1 L2043.1,177.9 L2046.0,175.7 L2048.9,173.6 L2051.8,171.6 L2054.7,169.6 L2057.6,167.7 L2060.5,165.8 L2063.4,163.9 L2066.3,162.1 L2069.2,160.4 L2072.1,158.7 L2075.0,157.1 L2077.9,155.5 L2080.8,153.9 L2083.7,152.4 L2086.6,151.0 L2089.5,149.5 L2092.4,148.1 L2095.3,146.8 L2098.3,145.5 L2101.2,144.2 L2104.1,143.0 L2107.0,141.8 L2109.9,140.7 L2112.8,139.5 L2115.7,138.4 L2118.6,137.4 L2121.5,136.3 L2124.4,135.3 L2127.3,134.4 L2130.2,133.4 L2133.1,132.5 L2136.0,131.6"/>
<path stroke="#4caf48" d="M1555.3,73.1 L1558.2,73.8 L1561.1,74.5 L1564.0,75.2 L1566.9,75.8 L1569.8,76.5 L1572.7,77.2 L1575.6,77.9 L1578.5,78.6 L1581.4,79.3 L1584.3,80.1 L1587.2,80.8 L1590.1,81.5 L1593.0,82.2 L1595.9,83.0 L1598.8,83.7 L1601.7,84.4 L1604.6,85.2 L1607.5,85.9 L1610.4,86.7 L1613.3,87.5 L1616.2,88.2 L1619.1,89.0 L1622.0,89.8 L1624.9,90.6 L1627.9,91.4 L1630.8,92.2 L1633.7,93.0 L1636.6,93.8 L1639.5,94.6 L1642.4,95.5 L1645.3,96.3 L1648.2,97.2 L1651.1,98.0 L1654.0,98.9 L1656.9,99.8 L1659.8,100.7 L1662.7,101.6 L1665.6,102.5 L1668.5,103.4 L1671.4,104.3 L1674.3,105.2 L1677.2,106.2 L1680.1,107.1 L1683.0,108.1 L1685.9,109.1 L1688.8,110.1 L1691.7,111.1 L1694.6,112.1 L1697.5,113.2 L1700.4,114.2 L1703.3,115.3 L1706.3,116.4 L1709.2,117.4 L1712.1,118.6 L1715.0,119.7 L1717.9,120.8 L1720.8,122.0 L1723.7,123.2 L1726.6,124.4 L1729.5,125.6 L1732.4,126.8 L1735.3,128.1 L1738.2,129.3 L1741.1,130.6 L1744.0,132.0 L1746.9,133.3 L1749.8,134.7 L1752.7,136.1 L1755.6,137.5 L1758.5,138.9 L1761.4,140.4 L1764.3,141.9 L1767.2,143.4 L1770.1,144.9 L1773.0,146.5 L1775.9,148.1 L1778.8,149.8 L1781.7,151.5 L1784.7,153.2 L1787.6,154.9 L1790.5,156.7 L1793.4,158.5 L1796.3,160.3 L1799.2,162.2 L1802.1,164.1 L1805.0,166.1 L1807.9,168.1 L1810.8,170.1 L1813.7,172.2 L1816.6,174.3 L1819.5,176.5 L1822.4,178.7 L1825.3,180.9 L1828.2,183.2 L1831.1,185.5 L1834.0,187.9 L1836.9,190.3 L1839.8,192.8 L1842.7,195.3 L1845.6,197.8 L1848.5,200.4 L1851.4,203.0 L1854.3,205.7 L1857.2,208.3 L1860.1,211.1 L1863.1,213.8 L1866.0,216.6 L1868.9,219.3 L1871.8,222.1 L1874.7,224.9 L1877.6,227.7 L1880.5,230.5 L1883.4,233.2 L1886.3,235.9 L1889.2,238.6 L1892.1,241.2 L1895.0,243.8 L1897.9,246.2 L1900.8,248.5 L1903.7,250.7 L1906.6,252.8 L1909.5,254.6 L1912.4,256.3 L1915.3,257.8 L1918.2,259.1 L1921.1,260.1 L1924.0,260.9 L1926.9,261.4 L1929.8,261.6 L1932.7,261.6 L1935.6,261.4 L1938.5,260.9 L1941.5,260.3 L1944.4,259.4 L1947.3,258.3 L1950.2,257.1 L1953.1,255.7 L1956.0,254.1 L1958.9,252.3 L1961.8,250.4 L1964.7,248.4 L1967.6,246.2 L1970.5,243.9 L1973.4,241.5 L1976.3,239.0 L1979.2,236.5 L1982.1,233.9 L1985.0,231.2 L1987.9,228.5 L1990.8,225.7 L1993.7,222.9 L1996.6,220.1 L1999.5,217.3 L2002.4,214.5 L2005.3,211.8 L2008.2,209.0 L2011.1,206.2 L2014.0,203.5 L2016.9,200.8 L2019.9,198.2 L2022.8,195.5 L2025.7,193.0 L2028.6,190.4 L2031.5,188.0 L2034.4,185.5 L2037.3,183.2 L2040.2,180.8 L2043.1,178.5 L2046.0,176.3 L2048.9,174.2 L2051.8,172.0 L2054.7,170.0 L2057.6,168.0 L2060.5,166.0 L2063.4,164.1 L2066.3,162.2 L2069.2,160.4 L2072.1,158.7 L2075.0,157.0 L2077.9,155.3 L2080.8,153.7 L2083.7,152.1 L2086.6,150.6 L2089.5,149.1 L2092.4,147.7 L2095.3,146.3 L2098.3,144.9 L2101.2,143.6 L2104.1,142.3 L2107.0,141.1 L2109.9,139.9 L2112.8,138.7 L2115.7,137.6 L2118.6,136.5 L2121.5,135.4 L2124.4,134.4 L2127.3,133.3 L2130.2,132.4 L2133.1,131.4 L2136.0,130.5"/>
<path stroke="#2f8530" d="M1555.3,71.2 L1558.2,71.9 L1561.1,72.5 L1564.0,73.2 L1566.9,73.9 L1569.8,74.6 L1572.7,75.3 L1575.6,76.0 L1578.5,76.7 L1581.4,77.4 L1584.3,78.1 L1587.2,78.8 L1590.1,79.5 L1593.0,80.2 L1595.9,81.0 L1598.8,81.7 L1601.7,82.4 L1604.6,83.2 L1607.5,83.9 L1610.4,84.7 L1613.3,85.4 L1616.2,86.2 L1619.1,87.0 L1622.0,87.8 L1624.9,88.5 L1627.9,89.3 L1630.8,90.1 L1633.7,90.9 L1636.6,91.8 L1639.5,92.6 L1642.4,93.4 L1645.3,94.3 L1648.2,95.1 L1651.1,96.0 L1654.0,96.8 L1656.9,97.7 L1659.8,98.6 L1662.7,99.5 L1665.6,100.4 L1668.5,101.3 L1671.4,102.2 L1674.3,103.2 L1677.2,104.1 L1680.1,105.1 L1683.0,106.0 L1685.9,107.0 L1688.8,108.0 L1691.7,109.0 L1694.6,110.0 L1697.5,111.1 L1700.4,112.1 L1703.3,113.2 L1706.3,114.3 L1709.2,115.4 L1712.1,116.5 L1715.0,117.6 L1717.9,118.7 L1720.8,119.9 L1723.7,121.1 L1726.6,122.3 L1729.5,123.5 L1732.4,124.7 L1735.3,126.0 L1738.2,127.3 L1741.1,128.6 L1744.0,129.9 L1746.9,131.2 L1749.8,132.6 L1752.7,134.0 L1755.6,135.4 L1758.5,136.9 L1761.4,138.3 L1764.3,139.8 L1767.2,141.3 L1770.1,142.9 L1773.0,144.5 L1775.9,146.1 L1778.8,147.7 L1781.7,149.4 L1784.7,151.1 L1787.6,152.9 L1790.5,154.6 L1793.4,156.5 L1796.3,158.3 L1799.2,160.2 L1802.1,162.1 L1805.0,164.1 L1807.9,166.1 L1810.8,168.1 L1813.7,170.2 L1816.6,172.3 L1819.5,174.4 L1822.4,176.6 L1825.3,178.9 L1828.2,181.2 L1831.1,183.5 L1834.0,185.8 L1836.9,188.2 L1839.8,190.7 L1842.7,193.2 L1845.6,195.7 L1848.5,198.3 L1851.4,200.8 L1854.3,203.5 L1857.2,206.1 L1860.1,208.8 L1863.1,211.6 L1866.0,214.3 L1868.9,217.1 L1871.8,219.8 L1874.7,222.6 L1877.6,225.4 L1880.5,228.2 L1883.4,230.9 L1886.3,233.6 L1889.2,236.3 L1892.1,238.9 L1895.0,241.5 L1897.9,244.0 L1900.8,246.4 L1903.7,248.6 L1906.6,250.8 L1909.5,252.8 L1912.4,254.6 L1915.3,256.2 L1918.2,257.7 L1921.1,258.9 L1924.0,259.8 L1926.9,260.6 L1929.8,261.0 L1932.7,261.2 L1935.6,261.2 L1938.5,260.9 L1941.5,260.5 L1944.4,259.8 L1947.3,258.9 L1950.2,257.8 L1953.1,256.6 L1956.0,255.1 L1958.9,253.5 L1961.8,251.7 L1964.7,249.7 L1967.6,247.6 L1970.5,245.4 L1973.4,243.1 L1976.3,240.7 L1979.2,238.2 L1982.1,235.6 L1985.0,232.9 L1987.9,230.2 L1990.8,227.5 L1993.7,224.7 L1996.6,221.9 L1999.5,219.0 L2002.4,216.2 L2005.3,213.4 L2008.2,210.6 L2011.1,207.8 L2014.0,205.0 L2016.9,202.2 L2019.9,199.5 L2022.8,196.8 L2025.7,194.2 L2028.6,191.6 L2031.5,189.0 L2034.4,186.5 L2037.3,184.1 L2040.2,181.7 L2043.1,179.3 L2046.0,177.0 L2048.9,174.8 L2051.8,172.6 L2054.7,170.4 L2057.6,168.4 L2060.5,166.3 L2063.4,164.3 L2066.3,162.4 L2069.2,160.5 L2072.1,158.7 L2075.0,156.9 L2077.9,155.2 L2080.8,153.5 L2083.7,151.9 L2086.6,150.3 L2089.5,148.8 L2092.4,147.3 L2095.3,145.8 L2098.3,144.4 L2101.2,143.1 L2104.1,141.7 L2107.0,140.4 L2109.9,139.2 L2112.8,138.0 L2115.7,136.8 L2118.6,135.6 L2121.5,134.5 L2124.4,133.4 L2127.3,132.4 L2130.2,131.3 L2133.1,130.4 L2136.0,129.4"/>
<path stroke="#4fb04b" d="M1555.3,69.3 L1558.2,70.0 L1561.1,70.6 L1564.0,71.3 L1566.9,72.0 L1569.8,72.6 L1572.7,73.3 L1575.6,74.0 L1578.5,74.7 L1581.4,75.4 L1584.3,76.1 L1587.2,76.8 L1590.1,77.5 L1593.0,78.2 L1595.9,79.0 L1598.8,79.7 L1601.7,80.4 L1604.6,81.2 L1607.5,81.9 L1610.4,82.7 L1613.3,83.4 L1616.2,84.2 L1619.1,84.9 L1622.0,85.7 L1624.9,86.5 L1627.9,87.3 L1630.8,88.1 L1633.7,88.9 L1636.6,89.7 L1639.5,90.5 L1642.4,91.4 L1645.3,92.2 L1648.2,93.0 L1651.1,93.9 L1654.0,94.7 L1656.9,95.6 L1659.8,96.5 L1662.7,97.4 L1665.6,98.3 L1668.5,99.2 L1671.4,100.1 L1674.3,101.1 L1677.2,102.0 L1680.1,103.0 L1683.0,103.9 L1685.9,104.9 L1688.8,105.9 L1691.7,106.9 L1694.6,107.9 L1697.5,109.0 L1700.4,110.0 L1703.3,111.1 L1706.3,112.2 L1709.2,113.2 L1712.1,114.4 L1715.0,115.5 L1717.9,116.6 L1720.8,117.8 L1723.7,119.0 L1726.6,120.2 L1729.5,121.4 L1732.4,122.6 L1735.3,123.9 L1738.2,125.2 L1741.1,126.5 L1744.0,127.8 L1746.9,129.1 L1749.8,130.5 L1752.7,131.9 L1755.6,133.3 L1758.5,134.8 L1761.4,136.2 L1764.3,137.7 L1767.2,139.3 L1770.1,140.8 L1773.0,142.4 L1775.9,144.0 L1778.8,145.7 L1781.7,147.4 L1784.7,149.1 L1787.6,150.8 L1790.5,152.6 L1793.4,154.4 L1796.3,156.2 L1799.2,158.1 L1802.1,160.0 L1805.0,162.0 L1807.9,164.0 L1810.8,166.0 L1813.7,168.1 L1816.6,170.2 L1819.5,172.4 L1822.4,174.6 L1825.3,176.8 L1828.2,179.1 L1831.1,181.4 L1834.0,183.7 L1836.9,186.1 L1839.8,188.6 L1842.7,191.0 L1845.6,193.6 L1848.5,196.1 L1851.4,198.7 L1854.3,201.3 L1857.2,204.0 L1860.1,206.6 L1863.1,209.3 L1866.0,212.1 L1868.9,214.8 L1871.8,217.6 L1874.7,220.3 L1877.6,223.1 L1880.5,225.8 L1883.4,228.6 L1886.3,231.3 L1889.2,234.0 L1892.1,236.7 L1895.0,239.2 L1897.9,241.8 L1900.8,244.2 L1903.7,246.5 L1906.6,248.8 L1909.5,250.8 L1912.4,252.8 L1915.3,254.5 L1918.2,256.1 L1921.1,257.5 L1924.0,258.6 L1926.9,259.6 L1929.8,260.3 L1932.7,260.7 L1935.6,260.9 L1938.5,260.8 L1941.5,260.5 L1944.4,260.0 L1947.3,259.3 L1950.2,258.4 L1953.1,257.3 L1956.0,256.0 L1958.9,254.5 L1961.8,252.8 L1964.7,251.0 L1967.6,249.0 L1970.5,246.9 L1973.4,244.7 L1976.3,242.3 L1979.2,239.9 L1982.1,237.3 L1985.0,234.7 L1987.9,232.0 L1990.8,229.3 L1993.7,226.5 L1996.6,223.6 L1999.5,220.8 L2002.4,217.9 L2005.3,215.1 L2008.2,212.2 L2011.1,209.4 L2014.0,206.5 L2016.9,203.7 L2019.9,201.0 L2022.8,198.2 L2025.7,195.5 L2028.6,192.8 L2031.5,190.2 L2034.4,187.6 L2037.3,185.1 L2040.2,182.6 L2043.1,180.2 L2046.0,177.8 L2048.9,175.5 L2051.8,173.2 L2054.7,171.0 L2057.6,168.8 L2060.5,166.7 L2063.4,164.7 L2066.3,162.7 L2069.2,160.7 L2072.1,158.8 L2075.0,157.0 L2077.9,155.2 L2080.8,153.5 L2083.7,151.8 L2086.6,150.1 L2089.5,148.5 L2092.4,147.0 L2095.3,145.5 L2098.3,144.0 L2101.2,142.6 L2104.1,141.2 L2107.0,139.8 L2109.9,138.5 L2112.8,137.3 L2115.7,136.0 L2118.6,134.8 L2121.5,133.7 L2124.4,132.6 L2127.3,131.5 L2130.2,130.4 L2133.1,129.4 L2136.0,128.3"/>
<path stroke="#2a7a2a" d="M1555.3,67.4 L1558.2,68.0 L1561.1,68.7 L1564.0,69.4 L1566.9,70.0 L1569.8,70.7 L1572.7,71.4 L1575.6,72.1 L1578.5,72.8 L1581.4,73.5 L1584.3,74.1 L1587.2,74.8 L1590.1,75.6 L1593.0,76.3 L1595.9,77.0 L1598.8,77.7 L1601.7,78.4 L1604.6,79.2 L1607.5,79.9 L1610.4,80.6 L1613.3,81.4 L1616.2,82.2 L1619.1,82.9 L1622.0,83.7 L1624.9,84.5 L1627.9,85.3 L1630.8,86.0 L1633.7,86.8 L1636.6,87.7 L1639.5,88.5 L1642.4,89.3 L1645.3,90.1 L1648.2,91.0 L1651.1,91.8 L1654.0,92.7 L1656.9,93.5 L1659.8,94.4 L1662.7,95.3 L1665.6,96.2 L1668.5,97.1 L1671.4,98.0 L1674.3,99.0 L1677.2,99.9 L1680.1,100.9 L1683.0,101.8 L1685.9,102.8 L1688.8,103.8 L1691.7,104.8 L1694.6,105.8 L1697.5,106.8 L1700.4,107.9 L1703.3,109.0 L1706.3,110.0 L1709.2,111.1 L1712.1,112.2 L1715.0,113.4 L1717.9,114.5 L1720.8,115.7 L1723.7,116.9 L1726.6,118.1 L1729.5,119.3 L1732.4,120.5 L1735.3,121.8 L1738.2,123.1 L1741.1,124.4 L1744.0,125.7 L1746.9,127.0 L1749.8,128.4 L1752.7,129.8 L1755.6,131.2 L1758.5,132.7 L1761.4,134.1 L1764.3,135.6 L1767.2,137.2 L1770.1,138.7 L1773.0,140.3 L1775.9,141.9 L1778.8,143.6 L1781.7,145.3 L1784.7,147.0 L1787.6,148.7 L1790.5,150.5 L1793.4,152.3 L1796.3,154.2 L1799.2,156.0 L1802.1,158.0 L1805.0,159.9 L1807.9,161.9 L1810.8,163.9 L1813.7,166.0 L1816.6,168.1 L1819.5,170.3 L1822.4,172.5 L1825.3,174.7 L1828.2,177.0 L1831.1,179.3 L1834.0,181.6 L1836.9,184.0 L1839.8,186.4 L1842.7,188.9 L1845.6,191.4 L1848.5,193.9 L1851.4,196.5 L1854.3,199.1 L1857.2,201.8 L1860.1,204.4 L1863.1,207.1 L1866.0,209.8 L1868.9,212.6 L1871.8,215.3 L1874.7,218.1 L1877.6,220.8 L1880.5,223.6 L1883.4,226.3 L1886.3,229.0 L1889.2,231.7 L1892.1,234.4 L1895.0,237.0 L1897.9,239.6 L1900.8,242.0 L1903.7,244.4 L1906.6,246.7 L1909.5,248.9 L1912.4,250.9 L1915.3,252.8 L1918.2,254.5 L1921.1,256.0 L1924.0,257.3 L1926.9,258.4 L1929.8,259.3 L1932.7,260.0 L1935.6,260.4 L1938.5,260.5 L1941.5,260.4 L1944.4,260.1 L1947.3,259.6 L1950.2,258.9 L1953.1,257.9 L1956.0,256.8 L1958.9,255.4 L1961.8,253.9 L1964.7,252.2 L1967.6,250.4 L1970.5,248.3 L1973.4,246.2 L1976.3,243.9 L1979.2,241.5 L1982.1,239.0 L1985.0,236.4 L1987.9,233.8 L1990.8,231.1 L1993.7,228.3 L1996.6,225.5 L1999.5,222.6 L2002.4,219.7 L2005.3,216.8 L2008.2,213.9 L2011.1,211.1 L2014.0,208.2 L2016.9,205.3 L2019.9,202.5 L2022.8,199.7 L2025.7,196.9 L2028.6,194.2 L2031.5,191.5 L2034.4,188.8 L2037.3,186.2 L2040.2,183.6 L2043.1,181.1 L2046.0,178.7 L2048.9,176.3 L2051.8,173.9 L2054.7,171.6 L2057.6,169.4 L2060.5,167.2 L2063.4,165.1 L2066.3,163.0 L2069.2,161.0 L2072.1,159.1 L2075.0,157.1 L2077.9,155.3 L2080.8,153.5 L2083.7,151.7 L2086.6,150.0 L2089.5,148.3 L2092.4,146.7 L2095.3,145.2 L2098.3,143.6 L2101.2,142.1 L2104.1,140.7 L2107.0,139.3 L2109.9,138.0 L2112.8,136.6 L2115.7,135.4 L2118.6,134.1 L2121.5,132.9 L2124.4,131.7 L2127.3,130.6 L2130.2,129.5 L2133.1,128.4 L2136.0,127.4"/>
<path stroke="#4caf48" d="M1555.3,65.5 L1558.2,66.2 L1561.1,66.8 L1564.0,67.5 L1566.9,68.1 L1569.8,68.8 L1572.7,69.5 L1575.6,70.1 L1578.5,70.8 L1581.4,71.5 L1584.3,72.2 L1587.2,72.9 L1590.1,73.6 L1593.0,74.3 L1595.9,75.0 L1598.8,75.7 L1601.7,76.4 L1604.6,77.2 L1607.5,77.9 L1610.4,78.6 L1613.3,79.4 L1616.2,80.1 L1619.1,80.9 L1622.0,81.7 L1624.9,82.4 L1627.9,83.2 L1630.8,84.0 L1633.7,84.8 L1636.6,85.6 L1639.5,86.4 L1642.4,87.2 L1645.3,88.1 L1648.2,88.9 L1651.1,89.7 L1654.0,90.6 L1656.9,91.5 L1659.8,92.3 L1662.7,93.2 L1665.6,94.1 L1668.5,95.0 L1671.4,95.9 L1674.3,96.9 L1677.2,97.8 L1680.1,98.7 L1683.0,99.7 L1685.9,100.7 L1688.8,101.7 L1691.7,102.7 L1694.6,103.7 L1697.5,104.7 L1700.4,105.8 L1703.3,106.8 L1706.3,107.9 L1709.2,109.0 L1712.1,110.1 L1715.0,111.2 L1717.9,112.4 L1720.8,113.5 L1723.7,114.7 L1726.6,115.9 L1729.5,117.1 L1732.4,118.4 L1735.3,119.6 L1738.2,120.9 L1741.1,122.2 L1744.0,123.5 L1746.9,124.9 L1749.8,126.3 L1752.7,127.7 L1755.6,129.1 L1758.5,130.5 L1761.4,132.0 L1764.3,133.5 L1767.2,135.0 L1770.1,136.6 L1773.0,138.2 L1775.9,139.8 L1778.8,141.5 L1781.7,143.1 L1784.7,144.8 L1787.6,146.6 L1790.5,148.4 L1793.4,150.2 L1796.3,152.0 L1799.2,153.9 L1802.1,155.8 L1805.0,157.8 L1807.9,159.8 L1810.8,161.8 L1813.7,163.9 L1816.6,166.0 L1819.5,168.2 L1822.4,170.3 L1825.3,172.6 L1828.2,174.8 L1831.1,177.1 L1834.0,179.5 L1836.9,181.9 L1839.8,184.3 L1842.7,186.8 L1845.6,189.2 L1848.5,191.8 L1851.4,194.3 L1854.3,196.9 L1857.2,199.6 L1860.1,202.2 L1863.1,204.9 L1866.0,207.6 L1868.9,210.3 L1871.8,213.1 L1874.7,215.8 L1877.6,218.6 L1880.5,221.3 L1883.4,224.0 L1886.3,226.8 L1889.2,229.5 L1892.1,232.1 L1895.0,234.8 L1897.9,237.3 L1900.8,239.8 L1903.7,242.3 L1906.6,244.6 L1909.5,246.8 L1912.4,249.0 L1915.3,250.9 L1918.2,252.7 L1921.1,254.4 L1924.0,255.9 L1926.9,257.1 L1929.8,258.2 L1932.7,259.0 L1935.6,259.6 L1938.5,260.0 L1941.5,260.1 L1944.4,260.0 L1947.3,259.7 L1950.2,259.1 L1953.1,258.4 L1956.0,257.4 L1958.9,256.2 L1961.8,254.9 L1964.7,253.3 L1967.6,251.6 L1970.5,249.7 L1973.4,247.6 L1976.3,245.5 L1979.2,243.2 L1982.1,240.7 L1985.0,238.2 L1987.9,235.6 L1990.8,232.9 L1993.7,230.1 L1996.6,227.3 L1999.5,224.4 L2002.4,221.6 L2005.3,218.6 L2008.2,215.7 L2011.1,212.8 L2014.0,209.9 L2016.9,207.0 L2019.9,204.1 L2022.8,201.2 L2025.7,198.4 L2028.6,195.6 L2031.5,192.8 L2034.4,190.1 L2037.3,187.4 L2040.2,184.8 L2043.1,182.2 L2046.0,179.7 L2048.9,177.2 L2051.8,174.8 L2054.7,172.4 L2057.6,170.1 L2060.5,167.8 L2063.4,165.6 L2066.3,163.5 L2069.2,161.4 L2072.1,159.3 L2075.0,157.4 L2077.9,155.4 L2080.8,153.6 L2083.7,151.7 L2086.6,150.0 L2089.5,148.2 L2092.4,146.5 L2095.3,144.9 L2098.3,143.3 L2101.2,141.8 L2104.1,140.3 L2107.0,138.8 L2109.9,137.4 L2112.8,136.1 L2115.7,134.7 L2118.6,133.4 L2121.5,132.2 L2124.4,131.0 L2127.3,129.8 L2130.2,128.6 L2133.1,127.5 L2136.0,126.4"/>
<path stroke="#5ec85a" d="M1555.3,63.6 L1558.2,64.3 L1561.1,64.9 L1564.0,65.6 L1566.9,66.2 L1569.8,66.9 L1572.7,67.5 L1575.6,68.2 L1578.5,68.9 L1581.4,69.6 L1584.3,70.2 L1587.2,70.9 L1590.1,71.6 L1593.0,72.3 L1595.9,73.0 L1598.8,73.7 L1601.7,74.5 L1604.6,75.2 L1607.5,75.9 L1610.4,76.6 L1613.3,77.4 L1616.2,78.1 L1619.1,78.9 L1622.0,79.6 L1624.9,80.4 L1627.9,81.2 L1630.8,82.0 L1633.7,82.7 L1636.6,83.5 L1639.5,84.4 L1642.4,85.2 L1645.3,86.0 L1648.2,86.8 L1651.1,87.7 L1654.0,88.5 L1656.9,89.4 L1659.8,90.2 L1662.7,91.1 L1665.6,92.0 L1668.5,92.9 L1671.4,93.8 L1674.3,94.7 L1677.2,95.7 L1680.1,96.6 L1683.0,97.6 L1685.9,98.6 L1688.8,99.6 L1691.7,100.6 L1694.6,101.6 L1697.5,102.6 L1700.4,103.6 L1703.3,104.7 L1706.3,105.8 L1709.2,106.9 L1712.1,108.0 L1715.0,109.1 L1717.9,110.2 L1720.8,111.4 L1723.7,112.6 L1726.6,113.8 L1729.5,115.0 L1732.4,116.2 L1735.3,117.5 L1738.2,118.8 L1741.1,120.1 L1744.0,121.4 L1746.9,122.7 L1749.8,124.1 L1752.7,125.5 L1755.6,126.9 L1758.5,128.4 L1761.4,129.8 L1764.3,131.4 L1767.2,132.9 L1770.1,134.4 L1773.0,136.0 L1775.9,137.6 L1778.8,139.3 L1781.7,141.0 L1784.7,142.7 L1787.6,144.4 L1790.5,146.2 L1793.4,148.0 L1796.3,149.9 L1799.2,151.8 L1802.1,153.7 L1805.0,155.6 L1807.9,157.6 L1810.8,159.7 L1813.7,161.7 L1816.6,163.9 L1819.5,166.0 L1822.4,168.2 L1825.3,170.4 L1828.2,172.7 L1831.1,175.0 L1834.0,177.3 L1836.9,179.7 L1839.8,182.1 L1842.7,184.6 L1845.6,187.1 L1848.5,189.6 L1851.4,192.2 L1854.3,194.7 L1857.2,197.4 L1860.1,200.0 L1863.1,202.7 L1866.0,205.4 L1868.9,208.1 L1871.8,210.8 L1874.7,213.6 L1877.6,216.3 L1880.5,219.1 L1883.4,221.8 L1886.3,224.5 L1889.2,227.2 L1892.1,229.9 L1895.0,232.5 L1897.9,235.1 L1900.8,237.7 L1903.7,240.1 L1906.6,242.5 L1909.5,244.8 L1912.4,247.0 L1915.3,249.0 L1918.2,251.0 L1921.1,252.7 L1924.0,254.3 L1926.9,255.7 L1929.8,256.9 L1932.7,258.0 L1935.6,258.8 L1938.5,259.3 L1941.5,259.7 L1944.4,259.8 L1947.3,259.6 L1950.2,259.3 L1953.1,258.7 L1956.0,257.9 L1958.9,256.9 L1961.8,255.7 L1964.7,254.3 L1967.6,252.7 L1970.5,251.0 L1973.4,249.0 L1976.3,246.9 L1979.2,244.7 L1982.1,242.4 L1985.0,239.9 L1987.9,237.3 L1990.8,234.7 L1993.7,232.0 L1996.6,229.2 L1999.5,226.3 L2002.4,223.4 L2005.3,220.5 L2008.2,217.6 L2011.1,214.6 L2014.0,211.6 L2016.9,208.7 L2019.9,205.8 L2022.8,202.8 L2025.7,199.9 L2028.6,197.1 L2031.5,194.2 L2034.4,191.4 L2037.3,188.7 L2040.2,186.0 L2043.1,183.3 L2046.0,180.7 L2048.9,178.2 L2051.8,175.7 L2054.7,173.2 L2057.6,170.8 L2060.5,168.5 L2063.4,166.2 L2066.3,164.0 L2069.2,161.8 L2072.1,159.7 L2075.0,157.7 L2077.9,155.7 L2080.8,153.7 L2083.7,151.8 L2086.6,150.0 L2089.5,148.2 L2092.4,146.4 L2095.3,144.8 L2098.3,143.1 L2101.2,141.5 L2104.1,140.0 L2107.0,138.4 L2109.9,137.0 L2112.8,135.5 L2115.7,134.2 L2118.6,132.8 L2121.5,131.5 L2124.4,130.2 L2127.3,129.0 L2130.2,127.8 L2133.1,126.7 L2136.0,125.5"/>
<path stroke="#328a30" d="M1555.3,61.7 L1558.2,62.4 L1561.1,63.0 L1564.0,63.7 L1566.9,64.3 L1569.8,65.0 L1572.7,65.6 L1575.6,66.3 L1578.5,67.0 L1581.4,67.6 L1584.3,68.3 L1587.2,69.0 L1590.1,69.7 L1593.0,70.4 L1595.9,71.1 L1598.8,71.8 L1601.7,72.5 L1604.6,73.2 L1607.5,73.9 L1610.4,74.6 L1613.3,75.4 L1616.2,76.1 L1619.1,76.9 L1622.0,77.6 L1624.9,78.4 L1627.9,79.1 L1630.8,79.9 L1633.7,80.7 L1636.6,81.5 L1639.5,82.3 L1642.4,83.1 L1645.3,83.9 L1648.2,84.8 L1651.1,85.6 L1654.0,86.4 L1656.9,87.3 L1659.8,88.2 L1662.7,89.0 L1665.6,89.9 L1668.5,90.8 L1671.4,91.7 L1674.3,92.6 L1677.2,93.6 L1680.1,94.5 L1683.0,95.5 L1685.9,96.4 L1688.8,97.4 L1691.7,98.4 L1694.6,99.4 L1697.5,100.5 L1700.4,101.5 L1703.3,102.6 L1706.3,103.6 L1709.2,104.7 L1712.1,105.8 L1715.0,106.9 L1717.9,108.1 L1720.8,109.2 L1723.7,110.4 L1726.6,111.6 L1729.5,112.8 L1732.4,114.1 L1735.3,115.3 L1738.2,116.6 L1741.1,117.9 L1744.0,119.2 L1746.9,120.6 L1749.8,121.9 L1752.7,123.3 L1755.6,124.7 L1758.5,126.2 L1761.4,127.7 L1764.3,129.2 L1767.2,130.7 L1770.1,132.3 L1773.0,133.8 L1775.9,135.5 L1778.8,137.1 L1781.7,138.8 L1784.7,140.5 L1787.6,142.3 L1790.5,144.0 L1793.4,145.9 L1796.3,147.7 L1799.2,149.6 L1802.1,151.5 L1805.0,153.5 L1807.9,155.5 L1810.8,157.5 L1813.7,159.6 L1816.6,161.7 L1819.5,163.8 L1822.4,166.0 L1825.3,168.2 L1828.2,170.5 L1831.1,172.8 L1834.0,175.1 L1836.9,177.5 L1839.8,179.9 L1842.7,182.4 L1845.6,184.9 L1848.5,187.4 L1851.4,189.9 L1854.3,192.5 L1857.2,195.2 L1860.1,197.8 L1863.1,200.5 L1866.0,203.2 L1868.9,205.9 L1871.8,208.6 L1874.7,211.3 L1877.6,214.1 L1880.5,216.8 L1883.4,219.6 L1886.3,222.3 L1889.2,225.0 L1892.1,227.7 L1895.0,230.3 L1897.9,232.9 L1900.8,235.5 L1903.7,238.0 L1906.6,240.4 L1909.5,242.8 L1912.4,245.0 L1915.3,247.1 L1918.2,249.1 L1921.1,251.0 L1924.0,252.7 L1926.9,254.2 L1929.8,255.6 L1932.7,256.8 L1935.6,257.7 L1938.5,258.5 L1941.5,259.0 L1944.4,259.3 L1947.3,259.4 L1950.2,259.2 L1953.1,258.8 L1956.0,258.2 L1958.9,257.4 L1961.8,256.4 L1964.7,255.2 L1967.6,253.7 L1970.5,252.1 L1973.4,250.3 L1976.3,248.4 L1979.2,246.2 L1982.1,244.0 L1985.0,241.6 L1987.9,239.1 L1990.8,236.5 L1993.7,233.8 L1996.6,231.0 L1999.5,228.2 L2002.4,225.3 L2005.3,222.4 L2008.2,219.4 L2011.1,216.5 L2014.0,213.5 L2016.9,210.5 L2019.9,207.5 L2022.8,204.5 L2025.7,201.6 L2028.6,198.7 L2031.5,195.8 L2034.4,192.9 L2037.3,190.1 L2040.2,187.3 L2043.1,184.6 L2046.0,181.9 L2048.9,179.3 L2051.8,176.7 L2054.7,174.2 L2057.6,171.7 L2060.5,169.3 L2063.4,166.9 L2066.3,164.6 L2069.2,162.4 L2072.1,160.2 L2075.0,158.1 L2077.9,156.0 L2080.8,154.0 L2083.7,152.0 L2086.6,150.1 L2089.5,148.2 L2092.4,146.4 L2095.3,144.7 L2098.3,143.0 L2101.2,141.3 L2104.1,139.7 L2107.0,138.1 L2109.9,136.6 L2112.8,135.1 L2115.7,133.7 L2118.6,132.3 L2121.5,130.9 L2124.4,129.6 L2127.3,128.3 L2130.2,127.1 L2133.1,125.9 L2136.0,124.7"/>
<path stroke="#4caf48" d="M1555.3,59.9 L1558.2,60.5 L1561.1,61.1 L1564.0,61.8 L1566.9,62.4 L1569.8,63.1 L1572.7,63.7 L1575.6,64.4 L1578.5,65.0 L1581.4,65.7 L1584.3,66.4 L1587.2,67.0 L1590.1,67.7 L1593.0,68.4 L1595.9,69.1 L1598.8,69.8 L1601.7,70.5 L1604.6,71.2 L1607.5,71.9 L1610.4,72.6 L1613.3,73.4 L1616.2,74.1 L1619.1,74.8 L1622.0,75.6 L1624.9,76.4 L1627.9,77.1 L1630.8,77.9 L1633.7,78.7 L1636.6,79.5 L1639.5,80.2 L1642.4,81.1 L1645.3,81.9 L1648.2,82.7 L1651.1,83.5 L1654.0,84.4 L1656.9,85.2 L1659.8,86.1 L1662.7,86.9 L1665.6,87.8 L1668.5,88.7 L1671.4,89.6 L1674.3,90.5 L1677.2,91.5 L1680.1,92.4 L1683.0,93.3 L1685.9,94.3 L1688.8,95.3 L1691.7,96.3 L1694.6,97.3 L1697.5,98.3 L1700.4,99.3 L1703.3,100.4 L1706.3,101.5 L1709.2,102.6 L1712.1,103.7 L1715.0,104.8 L1717.9,105.9 L1720.8,107.1 L1723.7,108.2 L1726.6,109.4 L1729.5,110.6 L1732.4,111.9 L1735.3,113.1 L1738.2,114.4 L1741.1,115.7 L1744.0,117.0 L1746.9,118.4 L1749.8,119.7 L1752.7,121.1 L1755.6,122.6 L1758.5,124.0 L1761.4,125.5 L1764.3,127.0 L1767.2,128.5 L1770.1,130.1 L1773.0,131.6 L1775.9,133.3 L1778.8,134.9 L1781.7,136.6 L1784.7,138.3 L1787.6,140.1 L1790.5,141.8 L1793.4,143.6 L1796.3,145.5 L1799.2,147.4 L1802.1,149.3 L1805.0,151.3 L1807.9,153.3 L1810.8,155.3 L1813.7,157.4 L1816.6,159.5 L1819.5,161.6 L1822.4,163.8 L1825.3,166.0 L1828.2,168.3 L1831.1,170.6 L1834.0,172.9 L1836.9,175.3 L1839.8,177.7 L1842.7,180.2 L1845.6,182.6 L1848.5,185.2 L1851.4,187.7 L1854.3,190.3 L1857.2,192.9 L1860.1,195.6 L1863.1,198.2 L1866.0,200.9 L1868.9,203.6 L1871.8,206.3 L1874.7,209.1 L1877.6,211.8 L1880.5,214.6 L1883.4,217.3 L1886.3,220.0 L1889.2,222.8 L1892.1,225.5 L1895.0,228.1 L1897.9,230.8 L1900.8,233.3 L1903.7,235.9 L1906.6,238.3 L1909.5,240.7 L1912.4,243.0 L1915.3,245.2 L1918.2,247.2 L1921.1,249.2 L1924.0,251.0 L1926.9,252.6 L1929.8,254.1 L1932.7,255.4 L1935.6,256.6 L1938.5,257.5 L1941.5,258.2 L1944.4,258.7 L1947.3,258.9 L1950.2,259.0 L1953.1,258.8 L1956.0,258.4 L1958.9,257.8 L1961.8,256.9 L1964.7,255.9 L1967.6,254.6 L1970.5,253.2 L1973.4,251.5 L1976.3,249.7 L1979.2,247.7 L1982.1,245.5 L1985.0,243.2 L1987.9,240.8 L1990.8,238.3 L1993.7,235.6 L1996.6,232.9 L1999.5,230.1 L2002.4,227.2 L2005.3,224.3 L2008.2,221.4 L2011.1,218.4 L2014.0,215.4 L2016.9,212.4 L2019.9,209.3 L2022.8,206.3 L2025.7,203.3 L2028.6,200.3 L2031.5,197.4 L2034.4,194.5 L2037.3,191.6 L2040.2,188.7 L2043.1,185.9 L2046.0,183.2 L2048.9,180.5 L2051.8,177.8 L2054.7,175.2 L2057.6,172.6 L2060.5,170.2 L2063.4,167.7 L2066.3,165.3 L2069.2,163.0 L2072.1,160.8 L2075.0,158.6 L2077.9,156.4 L2080.8,154.3 L2083.7,152.3 L2086.6,150.3 L2089.5,148.4 L2092.4,146.5 L2095.3,144.6 L2098.3,142.9 L2101.2,141.1 L2104.1,139.5 L2107.0,137.8 L2109.9,136.3 L2112.8,134.7 L2115.7,133.2 L2118.6,131.8 L2121.5,130.4 L2124.4,129.0 L2127.3,127.7 L2130.2,126.4 L2133.1,125.1 L2136.0,123.9"/>
<path stroke="#2a7a2a" d="M1555.3,58.0 L1558.2,58.7 L1561.1,59.3 L1564.0,59.9 L1566.9,60.5 L1569.8,61.2 L1572.7,61.8 L1575.6,62.5 L1578.5,63.1 L1581.4,63.8 L1584.3,64.4 L1587.2,65.1 L1590.1,65.8 L1593.0,66.5 L1595.9,67.1 L1598.8,67.8 L1601.7,68.5 L1604.6,69.2 L1607.5,69.9 L1610.4,70.7 L1613.3,71.4 L1616.2,72.1 L1619.1,72.8 L1622.0,73.6 L1624.9,74.3 L1627.9,75.1 L1630.8,75.9 L1633.7,76.6 L1636.6,77.4 L1639.5,78.2 L1642.4,79.0 L1645.3,79.8 L1648.2,80.6 L1651.1,81.4 L1654.0,82.3 L1656.9,83.1 L1659.8,84.0 L1662.7,84.8 L1665.6,85.7 L1668.5,86.6 L1671.4,87.5 L1674.3,88.4 L1677.2,89.3 L1680.1,90.3 L1683.0,91.2 L1685.9,92.2 L1688.8,93.2 L1691.7,94.1 L1694.6,95.1 L1697.5,96.2 L1700.4,97.2 L1703.3,98.2 L1706.3,99.3 L1709.2,100.4 L1712.1,101.5 L1715.0,102.6 L1717.9,103.7 L1720.8,104.9 L1723.7,106.1 L1726.6,107.2 L1729.5,108.4 L1732.4,109.7 L1735.3,110.9 L1738.2,112.2 L1741.1,113.5 L1744.0,114.8 L1746.9,116.2 L1749.8,117.5 L1752.7,118.9 L1755.6,120.3 L1758.5,121.8 L1761.4,123.3 L1764.3,124.8 L1767.2,126.3 L1770.1,127.8 L1773.0,129.4 L1775.9,131.0 L1778.8,132.7 L1781.7,134.4 L1784.7,136.1 L1787.6,137.8 L1790.5,139.6 L1793.4,141.4 L1796.3,143.3 L1799.2,145.1 L1802.1,147.1 L1805.0,149.0 L1807.9,151.0 L1810.8,153.0 L1813.7,155.1 L1816.6,157.2 L1819.5,159.4 L1822.4,161.5 L1825.3,163.8 L1828.2,166.0 L1831.1,168.3 L1834.0,170.7 L1836.9,173.1 L1839.8,175.5 L1842.7,177.9 L1845.6,180.4 L1848.5,182.9 L1851.4,185.5 L1854.3,188.1 L1857.2,190.7 L1860.1,193.3 L1863.1,196.0 L1866.0,198.7 L1868.9,201.4 L1871.8,204.1 L1874.7,206.8 L1877.6,209.6 L1880.5,212.3 L1883.4,215.1 L1886.3,217.8 L1889.2,220.5 L1892.1,223.2 L1895.0,225.9 L1897.9,228.6 L1900.8,231.2 L1903.7,233.7 L1906.6,236.2 L1909.5,238.6 L1912.4,241.0 L1915.3,243.2 L1918.2,245.3 L1921.1,247.4 L1924.0,249.2 L1926.9,251.0 L1929.8,252.6 L1932.7,254.0 L1935.6,255.3 L1938.5,256.3 L1941.5,257.2 L1944.4,257.9 L1947.3,258.3 L1950.2,258.6 L1953.1,258.6 L1956.0,258.4 L1958.9,258.0 L1961.8,257.3 L1964.7,256.5 L1967.6,255.4 L1970.5,254.1 L1973.4,252.6 L1976.3,250.9 L1979.2,249.0 L1982.1,247.0 L1985.0,244.8 L1987.9,242.5 L1990.8,240.0 L1993.7,237.4 L1996.6,234.8 L1999.5,232.0 L2002.4,229.2 L2005.3,226.3 L2008.2,223.3 L2011.1,220.3 L2014.0,217.3 L2016.9,214.3 L2019.9,211.2 L2022.8,208.2 L2025.7,205.1 L2028.6,202.1 L2031.5,199.1 L2034.4,196.1 L2037.3,193.1 L2040.2,190.2 L2043.1,187.4 L2046.0,184.5 L2048.9,181.7 L2051.8,179.0 L2054.7,176.3 L2057.6,173.7 L2060.5,171.1 L2063.4,168.6 L2066.3,166.2 L2069.2,163.8 L2072.1,161.4 L2075.0,159.1 L2077.9,156.9 L2080.8,154.7 L2083.7,152.6 L2086.6,150.6 L2089.5,148.6 L2092.4,146.6 L2095.3,144.7 L2098.3,142.9 L2101.2,141.1 L2104.1,139.3 L2107.0,137.6 L2109.9,136.0 L2112.8,134.4 L2115.7,132.9 L2118.6,131.3 L2121.5,129.9 L2124.4,128.5 L2127.3,127.1 L2130.2,125.7 L2133.1,124.4 L2136.0,123.2"/>
<path stroke="#46a342" d="M1555.3,56.2 L1558.2,56.8 L1561.1,57.4 L1564.0,58.0 L1566.9,58.7 L1569.8,59.3 L1572.7,59.9 L1575.6,60.6 L1578.5,61.2 L1581.4,61.9 L1584.3,62.5 L1587.2,63.2 L1590.1,63.9 L1593.0,64.5 L1595.9,65.2 L1598.8,65.9 L1601.7,66.6 L1604.6,67.3 L1607.5,68.0 L1610.4,68.7 L1613.3,69.4 L1616.2,70.1 L1619.1,70.8 L1622.0,71.6 L1624.9,72.3 L1627.9,73.1 L1630.8,73.8 L1633.7,74.6 L1636.6,75.4 L1639.5,76.2 L1642.4,76.9 L1645.3,77.7 L1648.2,78.6 L1651.1,79.4 L1654.0,80.2 L1656.9,81.0 L1659.8,81.9 L1662.7,82.8 L1665.6,83.6 L1668.5,84.5 L1671.4,85.4 L1674.3,86.3 L1677.2,87.2 L1680.1,88.1 L1683.0,89.1 L1685.9,90.0 L1688.8,91.0 L1691.7,92.0 L1694.6,93.0 L1697.5,94.0 L1700.4,95.0 L1703.3,96.1 L1706.3,97.1 L1709.2,98.2 L1712.1,99.3 L1715.0,100.4 L1717.9,101.5 L1720.8,102.7 L1723.7,103.9 L1726.6,105.0 L1729.5,106.2 L1732.4,107.5 L1735.3,108.7 L1738.2,110.0 L1741.1,111.3 L1744.0,112.6 L1746.9,113.9 L1749.8,115.3 L1752.7,116.7 L1755.6,118.1 L1758.5,119.5 L1761.4,121.0 L1764.3,122.5 L1767.2,124.0 L1770.1,125.6 L1773.0,127.2 L1775.9,128.8 L1778.8,130.4 L1781.7,132.1 L1784.7,133.8 L1787.6,135.6 L1790.5,137.3 L1793.4,139.1 L1796.3,141.0 L1799.2,142.9 L1802.1,144.8 L1805.0,146.7 L1807.9,148.7 L1810.8,150.8 L1813.7,152.8 L1816.6,154.9 L1819.5,157.1 L1822.4,159.3 L1825.3,161.5 L1828.2,163.8 L1831.1,166.1 L1834.0,168.4 L1836.9,170.8 L1839.8,173.2 L1842.7,175.6 L1845.6,178.1 L1848.5,180.6 L1851.4,183.2 L1854.3,185.8 L1857.2,188.4 L1860.1,191.0 L1863.1,193.7 L1866.0,196.4 L1868.9,199.1 L1871.8,201.8 L1874.7,204.6 L1877.6,207.3 L1880.5,210.1 L1883.4,212.8 L1886.3,215.6 L1889.2,218.3 L1892.1,221.0 L1895.0,223.7 L1897.9,226.4 L1900.8,229.0 L1903.7,231.6 L1906.6,234.1 L1909.5,236.6 L1912.4,238.9 L1915.3,241.2 L1918.2,243.4 L1921.1,245.5 L1924.0,247.5 L1926.9,249.3 L1929.8,251.0 L1932.7,252.5 L1935.6,253.9 L1938.5,255.1 L1941.5,256.1 L1944.4,257.0 L1947.3,257.6 L1950.2,258.0 L1953.1,258.2 L1956.0,258.2 L1958.9,258.0 L1961.8,257.6 L1964.7,256.9 L1967.6,256.0 L1970.5,254.8 L1973.4,253.5 L1976.3,252.0 L1979.2,250.3 L1982.1,248.4 L1985.0,246.3 L1987.9,244.1 L1990.8,241.7 L1993.7,239.2 L1996.6,236.6 L1999.5,233.9 L2002.4,231.1 L2005.3,228.2 L2008.2,225.3 L2011.1,222.3 L2014.0,219.3 L2016.9,216.2 L2019.9,213.2 L2022.8,210.1 L2025.7,207.0 L2028.6,203.9 L2031.5,200.9 L2034.4,197.8 L2037.3,194.8 L2040.2,191.8 L2043.1,188.9 L2046.0,186.0 L2048.9,183.1 L2051.8,180.3 L2054.7,177.6 L2057.6,174.8 L2060.5,172.2 L2063.4,169.6 L2066.3,167.1 L2069.2,164.6 L2072.1,162.2 L2075.0,159.8 L2077.9,157.5 L2080.8,155.3 L2083.7,153.1 L2086.6,150.9 L2089.5,148.9 L2092.4,146.8 L2095.3,144.9 L2098.3,143.0 L2101.2,141.1 L2104.1,139.3 L2107.0,137.5 L2109.9,135.8 L2112.8,134.2 L2115.7,132.6 L2118.6,131.0 L2121.5,129.5 L2124.4,128.0 L2127.3,126.5 L2130.2,125.2 L2133.1,123.8 L2136.0,122.5"/>
<path stroke="#6fe06a" d="M1555.3,54.4 L1558.2,55.0 L1561.1,55.6 L1564.0,56.2 L1566.9,56.8 L1569.8,57.4 L1572.7,58.1 L1575.6,58.7 L1578.5,59.3 L1581.4,60.0 L1584.3,60.6 L1587.2,61.3 L1590.1,61.9 L1593.0,62.6 L1595.9,63.3 L1598.8,63.9 L1601.7,64.6 L1604.6,65.3 L1607.5,66.0 L1610.4,66.7 L1613.3,67.4 L1616.2,68.1 L1619.1,68.9 L1622.0,69.6 L1624.9,70.3 L1627.9,71.1 L1630.8,71.8 L1633.7,72.6 L1636.6,73.3 L1639.5,74.1 L1642.4,74.9 L1645.3,75.7 L1648.2,76.5 L1651.1,77.3 L1654.0,78.1 L1656.9,79.0 L1659.8,79.8 L1662.7,80.7 L1665.6,81.5 L1668.5,82.4 L1671.4,83.3 L1674.3,84.2 L1677.2,85.1 L1680.1,86.0 L1683.0,87.0 L1685.9,87.9 L1688.8,88.9 L1691.7,89.8 L1694.6,90.8 L1697.5,91.8 L1700.4,92.9 L1703.3,93.9 L1706.3,95.0 L1709.2,96.0 L1712.1,97.1 L1715.0,98.2 L1717.9,99.4 L1720.8,100.5 L1723.7,101.7 L1726.6,102.8 L1729.5,104.0 L1732.4,105.3 L1735.3,106.5 L1738.2,107.8 L1741.1,109.1 L1744.0,110.4 L1746.9,111.7 L1749.8,113.1 L1752.7,114.5 L1755.6,115.9 L1758.5,117.3 L1761.4,118.8 L1764.3,120.3 L1767.2,121.8 L1770.1,123.3 L1773.0,124.9 L1775.9,126.5 L1778.8,128.2 L1781.7,129.8 L1784.7,131.5 L1787.6,133.3 L1790.5,135.1 L1793.4,136.9 L1796.3,138.7 L1799.2,140.6 L1802.1,142.5 L1805.0,144.5 L1807.9,146.4 L1810.8,148.5 L1813.7,150.5 L1816.6,152.6 L1819.5,154.8 L1822.4,157.0 L1825.3,159.2 L1828.2,161.5 L1831.1,163.8 L1834.0,166.1 L1836.9,168.5 L1839.8,170.9 L1842.7,173.3 L1845.6,175.8 L1848.5,178.3 L1851.4,180.9 L1854.3,183.5 L1857.2,186.1 L1860.1,188.7 L1863.1,191.4 L1866.0,194.1 L1868.9,196.8 L1871.8,199.6 L1874.7,202.3 L1877.6,205.1 L1880.5,207.8 L1883.4,210.6 L1886.3,213.3 L1889.2,216.1 L1892.1,218.8 L1895.0,221.5 L1897.9,224.2 L1900.8,226.8 L1903.7,229.4 L1906.6,232.0 L1909.5,234.5 L1912.4,236.9 L1915.3,239.2 L1918.2,241.5 L1921.1,243.6 L1924.0,245.6 L1926.9,247.6 L1929.8,249.3 L1932.7,251.0 L1935.6,252.5 L1938.5,253.8 L1941.5,254.9 L1944.4,255.9 L1947.3,256.7 L1950.2,257.3 L1953.1,257.7 L1956.0,257.9 L1958.9,257.8 L1961.8,257.6 L1964.7,257.1 L1967.6,256.4 L1970.5,255.5 L1973.4,254.3 L1976.3,253.0 L1979.2,251.4 L1982.1,249.6 L1985.0,247.7 L1987.9,245.6 L1990.8,243.3 L1993.7,240.9 L1996.6,238.4 L1999.5,235.8 L2002.4,233.0 L2005.3,230.2 L2008.2,227.3 L2011.1,224.3 L2014.0,221.3 L2016.9,218.2 L2019.9,215.2 L2022.8,212.0 L2025.7,208.9 L2028.6,205.8 L2031.5,202.7 L2034.4,199.6 L2037.3,196.5 L2040.2,193.5 L2043.1,190.5 L2046.0,187.5 L2048.9,184.6 L2051.8,181.7 L2054.7,178.9 L2057.6,176.1 L2060.5,173.4 L2063.4,170.7 L2066.3,168.1 L2069.2,165.5 L2072.1,163.0 L2075.0,160.6 L2077.9,158.2 L2080.8,155.9 L2083.7,153.6 L2086.6,151.4 L2089.5,149.2 L2092.4,147.1 L2095.3,145.1 L2098.3,143.1 L2101.2,141.2 L2104.1,139.3 L2107.0,137.5 L2109.9,135.7 L2112.8,134.0 L2115.7,132.3 L2118.6,130.7 L2121.5,129.1 L2124.4,127.6 L2127.3,126.1 L2130.2,124.6 L2133.1,123.2 L2136.0,121.9"/>
<path stroke="#4caf48" d="M1555.3,52.5 L1558.2,53.1 L1561.1,53.7 L1564.0,54.4 L1566.9,55.0 L1569.8,55.6 L1572.7,56.2 L1575.6,56.8 L1578.5,57.5 L1581.4,58.1 L1584.3,58.7 L1587.2,59.4 L1590.1,60.0 L1593.0,60.7 L1595.9,61.3 L1598.8,62.0 L1601.7,62.7 L1604.6,63.4 L1607.5,64.1 L1610.4,64.7 L1613.3,65.4 L1616.2,66.2 L1619.1,66.9 L1622.0,67.6 L1624.9,68.3 L1627.9,69.1 L1630.8,69.8 L1633.7,70.5 L1636.6,71.3 L1639.5,72.1 L1642.4,72.9 L1645.3,73.6 L1648.2,74.4 L1651.1,75.2 L1654.0,76.1 L1656.9,76.9 L1659.8,77.7 L1662.7,78.6 L1665.6,79.4 L1668.5,80.3 L1671.4,81.2 L1674.3,82.1 L1677.2,83.0 L1680.1,83.9 L1683.0,84.8 L1685.9,85.8 L1688.8,86.7 L1691.7,87.7 L1694.6,88.7 L1697.5,89.7 L1700.4,90.7 L1703.3,91.7 L1706.3,92.8 L1709.2,93.9 L1712.1,94.9 L1715.0,96.0 L1717.9,97.2 L1720.8,98.3 L1723.7,99.4 L1726.6,100.6 L1729.5,101.8 L1732.4,103.0 L1735.3,104.3 L1738.2,105.5 L1741.1,106.8 L1744.0,108.1 L1746.9,109.5 L1749.8,110.8 L1752.7,112.2 L1755.6,113.6 L1758.5,115.0 L1761.4,116.5 L1764.3,118.0 L1767.2,119.5 L1770.1,121.0 L1773.0,122.6 L1775.9,124.2 L1778.8,125.9 L1781.7,127.5 L1784.7,129.2 L1787.6,131.0 L1790.5,132.7 L1793.4,134.6 L1796.3,136.4 L1799.2,138.3 L1802.1,140.2 L1805.0,142.1 L1807.9,144.1 L1810.8,146.1 L1813.7,148.2 L1816.6,150.3 L1819.5,152.5 L1822.4,154.6 L1825.3,156.9 L1828.2,159.1 L1831.1,161.4 L1834.0,163.8 L1836.9,166.1 L1839.8,168.5 L1842.7,171.0 L1845.6,173.5 L1848.5,176.0 L1851.4,178.6 L1854.3,181.1 L1857.2,183.8 L1860.1,186.4 L1863.1,189.1 L1866.0,191.8 L1868.9,194.5 L1871.8,197.2 L1874.7,200.0 L1877.6,202.8 L1880.5,205.5 L1883.4,208.3 L1886.3,211.1 L1889.2,213.8 L1892.1,216.6 L1895.0,219.3 L1897.9,222.0 L1900.8,224.7 L1903.7,227.3 L1906.6,229.9 L1909.5,232.4 L1912.4,234.8 L1915.3,237.2 L1918.2,239.5 L1921.1,241.7 L1924.0,243.8 L1926.9,245.8 L1929.8,247.6 L1932.7,249.4 L1935.6,250.9 L1938.5,252.4 L1941.5,253.6 L1944.4,254.7 L1947.3,255.7 L1950.2,256.4 L1953.1,257.0 L1956.0,257.3 L1958.9,257.5 L1961.8,257.5 L1964.7,257.2 L1967.6,256.7 L1970.5,255.9 L1973.4,255.0 L1976.3,253.8 L1979.2,252.4 L1982.1,250.8 L1985.0,249.0 L1987.9,247.0 L1990.8,244.9 L1993.7,242.6 L1996.6,240.2 L1999.5,237.6 L2002.4,234.9 L2005.3,232.1 L2008.2,229.3 L2011.1,226.3 L2014.0,223.3 L2016.9,220.3 L2019.9,217.2 L2022.8,214.1 L2025.7,210.9 L2028.6,207.8 L2031.5,204.6 L2034.4,201.5 L2037.3,198.4 L2040.2,195.3 L2043.1,192.2 L2046.0,189.2 L2048.9,186.2 L2051.8,183.2 L2054.7,180.3 L2057.6,177.4 L2060.5,174.6 L2063.4,171.9 L2066.3,169.2 L2069.2,166.5 L2072.1,164.0 L2075.0,161.4 L2077.9,159.0 L2080.8,156.6 L2083.7,154.2 L2086.6,151.9 L2089.5,149.7 L2092.4,147.5 L2095.3,145.4 L2098.3,143.4 L2101.2,141.4 L2104.1,139.4 L2107.0,137.5 L2109.9,135.7 L2112.8,133.9 L2115.7,132.2 L2118.6,130.5 L2121.5,128.8 L2124.4,127.2 L2127.3,125.7 L2130.2,124.2 L2133.1,122.7 L2136.0,121.3"/>
<path stroke="#2e7f2d" d="M1555.3,50.7 L1558.2,51.3 L1561.1,51.9 L1564.0,52.5 L1566.9,53.1 L1569.8,53.7 L1572.7,54.3 L1575.6,55.0 L1578.5,55.6 L1581.4,56.2 L1584.3,56.8 L1587.2,57.5 L1590.1,58.1 L1593.0,58.8 L1595.9,59.4 L1598.8,60.1 L1601.7,60.7 L1604.6,61.4 L1607.5,62.1 L1610.4,62.8 L1613.3,63.5 L1616.2,64.2 L1619.1,64.9 L1622.0,65.6 L1624.9,66.3 L1627.9,67.1 L1630.8,67.8 L1633.7,68.5 L1636.6,69.3 L1639.5,70.1 L1642.4,70.8 L1645.3,71.6 L1648.2,72.4 L1651.1,73.2 L1654.0,74.0 L1656.9,74.8 L1659.8,75.6 L1662.7,76.5 L1665.6,77.3 L1668.5,78.2 L1671.4,79.1 L1674.3,80.0 L1677.2,80.9 L1680.1,81.8 L1683.0,82.7 L1685.9,83.6 L1688.8,84.6 L1691.7,85.6 L1694.6,86.5 L1697.5,87.5 L1700.4,88.5 L1703.3,89.6 L1706.3,90.6 L1709.2,91.7 L1712.1,92.7 L1715.0,93.8 L1717.9,94.9 L1720.8,96.1 L1723.7,97.2 L1726.6,98.4 L1729.5,99.6 L1732.4,100.8 L1735.3,102.0 L1738.2,103.3 L1741.1,104.6 L1744.0,105.9 L1746.9,107.2 L1749.8,108.5 L1752.7,109.9 L1755.6,111.3 L1758.5,112.8 L1761.4,114.2 L1764.3,115.7 L1767.2,117.2 L1770.1,118.7 L1773.0,120.3 L1775.9,121.9 L1778.8,123.6 L1781.7,125.2 L1784.7,126.9 L1787.6,128.6 L1790.5,130.4 L1793.4,132.2 L1796.3,134.1 L1799.2,135.9 L1802.1,137.8 L1805.0,139.8 L1807.9,141.8 L1810.8,143.8 L1813.7,145.9 L1816.6,148.0 L1819.5,150.1 L1822.4,152.3 L1825.3,154.5 L1828.2,156.7 L1831.1,159.0 L1834.0,161.4 L1836.9,163.8 L1839.8,166.2 L1842.7,168.6 L1845.6,171.1 L1848.5,173.6 L1851.4,176.2 L1854.3,178.8 L1857.2,181.4 L1860.1,184.1 L1863.1,186.7 L1866.0,189.4 L1868.9,192.2 L1871.8,194.9 L1874.7,197.7 L1877.6,200.5 L1880.5,203.2 L1883.4,206.0 L1886.3,208.8 L1889.2,211.6 L1892.1,214.3 L1895.0,217.1 L1897.9,219.8 L1900.8,222.5 L1903.7,225.1 L1906.6,227.7 L1909.5,230.3 L1912.4,232.8 L1915.3,235.2 L1918.2,237.5 L1921.1,239.8 L1924.0,241.9 L1926.9,244.0 L1929.8,245.9 L1932.7,247.7 L1935.6,249.4 L1938.5,250.9 L1941.5,252.3 L1944.4,253.5 L1947.3,254.6 L1950.2,255.4 L1953.1,256.1 L1956.0,256.7 L1958.9,257.0 L1961.8,257.1 L1964.7,257.1 L1967.6,256.8 L1970.5,256.2 L1973.4,255.5 L1976.3,254.5 L1979.2,253.3 L1982.1,251.8 L1985.0,250.2 L1987.9,248.4 L1990.8,246.4 L1993.7,244.2 L1996.6,241.9 L1999.5,239.4 L2002.4,236.8 L2005.3,234.1 L2008.2,231.3 L2011.1,228.4 L2014.0,225.4 L2016.9,222.3 L2019.9,219.2 L2022.8,216.1 L2025.7,213.0 L2028.6,209.8 L2031.5,206.6 L2034.4,203.4 L2037.3,200.3 L2040.2,197.1 L2043.1,194.0 L2046.0,190.9 L2048.9,187.8 L2051.8,184.8 L2054.7,181.8 L2057.6,178.9 L2060.5,176.0 L2063.4,173.2 L2066.3,170.4 L2069.2,167.7 L2072.1,165.0 L2075.0,162.4 L2077.9,159.8 L2080.8,157.4 L2083.7,154.9 L2086.6,152.6 L2089.5,150.3 L2092.4,148.0 L2095.3,145.8 L2098.3,143.7 L2101.2,141.6 L2104.1,139.6 L2107.0,137.7 L2109.9,135.7 L2112.8,133.9 L2115.7,132.1 L2118.6,130.3 L2121.5,128.6 L2124.4,127.0 L2127.3,125.4 L2130.2,123.8 L2133.1,122.3 L2136.0,120.8"/>
<path stroke="#3d983a" d="M1555.3,48.9 L1558.2,49.5 L1561.1,50.1 L1564.0,50.7 L1566.9,51.3 L1569.8,51.9 L1572.7,52.5 L1575.6,53.1 L1578.5,53.7 L1581.4,54.3 L1584.3,55.0 L1587.2,55.6 L1590.1,56.2 L1593.0,56.9 L1595.9,57.5 L1598.8,58.2 L1601.7,58.8 L1604.6,59.5 L1607.5,60.2 L1610.4,60.8 L1613.3,61.5 L1616.2,62.2 L1619.1,62.9 L1622.0,63.6 L1624.9,64.3 L1627.9,65.1 L1630.8,65.8 L1633.7,66.5 L1636.6,67.3 L1639.5,68.0 L1642.4,68.8 L1645.3,69.6 L1648.2,70.3 L1651.1,71.1 L1654.0,71.9 L1656.9,72.8 L1659.8,73.6 L1662.7,74.4 L1665.6,75.3 L1668.5,76.1 L1671.4,77.0 L1674.3,77.9 L1677.2,78.7 L1680.1,79.6 L1683.0,80.6 L1685.9,81.5 L1688.8,82.4 L1691.7,83.4 L1694.6,84.4 L1697.5,85.4 L1700.4,86.4 L1703.3,87.4 L1706.3,88.4 L1709.2,89.5 L1712.1,90.5 L1715.0,91.6 L1717.9,92.7 L1720.8,93.9 L1723.7,95.0 L1726.6,96.2 L1729.5,97.4 L1732.4,98.6 L1735.3,99.8 L1738.2,101.0 L1741.1,102.3 L1744.0,103.6 L1746.9,104.9 L1749.8,106.3 L1752.7,107.6 L1755.6,109.0 L1758.5,110.5 L1761.4,111.9 L1764.3,113.4 L1767.2,114.9 L1770.1,116.4 L1773.0,118.0 L1775.9,119.6 L1778.8,121.2 L1781.7,122.9 L1784.7,124.6 L1787.6,126.3 L1790.5,128.1 L1793.4,129.9 L1796.3,131.7 L1799.2,133.6 L1802.1,135.5 L1805.0,137.4 L1807.9,139.4 L1810.8,141.4 L1813.7,143.5 L1816.6,145.6 L1819.5,147.7 L1822.4,149.9 L1825.3,152.1 L1828.2,154.4 L1831.1,156.6 L1834.0,159.0 L1836.9,161.4 L1839.8,163.8 L1842.7,166.2 L1845.6,168.7 L1848.5,171.2 L1851.4,173.8 L1854.3,176.4 L1857.2,179.0 L1860.1,181.7 L1863.1,184.4 L1866.0,187.1 L1868.9,189.8 L1871.8,192.6 L1874.7,195.3 L1877.6,198.1 L1880.5,200.9 L1883.4,203.7 L1886.3,206.5 L1889.2,209.3 L1892.1,212.1 L1895.0,214.8 L1897.9,217.6 L1900.8,220.3 L1903.7,223.0 L1906.6,225.6 L1909.5,228.2 L1912.4,230.7 L1915.3,233.2 L1918.2,235.6 L1921.1,237.9 L1924.0,240.1 L1926.9,242.2 L1929.8,244.2 L1932.7,246.0 L1935.6,247.8 L1938.5,249.4 L1941.5,250.9 L1944.4,252.2 L1947.3,253.4 L1950.2,254.4 L1953.1,255.2 L1956.0,255.8 L1958.9,256.3 L1961.8,256.6 L1964.7,256.8 L1967.6,256.7 L1970.5,256.3 L1973.4,255.8 L1976.3,255.0 L1979.2,254.0 L1982.1,252.7 L1985.0,251.3 L1987.9,249.6 L1990.8,247.7 L1993.7,245.7 L1996.6,243.5 L1999.5,241.1 L2002.4,238.6 L2005.3,236.0 L2008.2,233.2 L2011.1,230.4 L2014.0,227.4 L2016.9,224.4 L2019.9,221.3 L2022.8,218.2 L2025.7,215.1 L2028.6,211.9 L2031.5,208.7 L2034.4,205.4 L2037.3,202.2 L2040.2,199.0 L2043.1,195.9 L2046.0,192.7 L2048.9,189.6 L2051.8,186.5 L2054.7,183.4 L2057.6,180.4 L2060.5,177.5 L2063.4,174.5 L2066.3,171.7 L2069.2,168.9 L2072.1,166.1 L2075.0,163.5 L2077.9,160.8 L2080.8,158.3 L2083.7,155.8 L2086.6,153.3 L2089.5,150.9 L2092.4,148.6 L2095.3,146.3 L2098.3,144.1 L2101.2,142.0 L2104.1,139.9 L2107.0,137.9 L2109.9,135.9 L2112.8,134.0 L2115.7,132.1 L2118.6,130.3 L2121.5,128.5 L2124.4,126.8 L2127.3,125.1 L2130.2,123.5 L2133.1,121.9 L2136.0,120.4"/>
<path stroke="#2a7a2a" d="M1555.3,47.2 L1558.2,47.7 L1561.1,48.3 L1564.0,48.9 L1566.9,49.5 L1569.8,50.1 L1572.7,50.7 L1575.6,51.3 L1578.5,51.9 L1581.4,52.5 L1584.3,53.1 L1587.2,53.7 L1590.1,54.3 L1593.0,55.0 L1595.9,55.6 L1598.8,56.3 L1601.7,56.9 L1604.6,57.6 L1607.5,58.2 L1610.4,58.9 L1613.3,59.6 L1616.2,60.3 L1619.1,61.0 L1622.0,61.7 L1624.9,62.4 L1627.9,63.1 L1630.8,63.8 L1633.7,64.5 L1636.6,65.3 L1639.5,66.0 L1642.4,66.8 L1645.3,67.5 L1648.2,68.3 L1651.1,69.1 L1654.0,69.9 L1656.9,70.7 L1659.8,71.5 L1662.7,72.3 L1665.6,73.2 L1668.5,74.0 L1671.4,74.9 L1674.3,75.7 L1677.2,76.6 L1680.1,77.5 L1683.0,78.4 L1685.9,79.4 L1688.8,80.3 L1691.7,81.3 L1694.6,82.2 L1697.5,83.2 L1700.4,84.2 L1703.3,85.2 L1706.3,86.2 L1709.2,87.3 L1712.1,88.3 L1715.0,89.4 L1717.9,90.5 L1720.8,91.6 L1723.7,92.8 L1726.6,93.9 L1729.5,95.1 L1732.4,96.3 L1735.3,97.5 L1738.2,98.8 L1741.1,100.0 L1744.0,101.3 L1746.9,102.7 L1749.8,104.0 L1752.7,105.4 L1755.6,106.7 L1758.5,108.2 L1761.4,109.6 L1764.3,111.1 L1767.2,112.6 L1770.1,114.1 L1773.0,115.7 L1775.9,117.3 L1778.8,118.9 L1781.7,120.5 L1784.7,122.2 L1787.6,123.9 L1790.5,125.7 L1793.4,127.5 L1796.3,129.3 L1799.2,131.2 L1802.1,133.1 L1805.0,135.0 L1807.9,137.0 L1810.8,139.0 L1813.7,141.1 L1816.6,143.2 L1819.5,145.3 L1822.4,147.5 L1825.3,149.7 L1828.2,151.9 L1831.1,154.2 L1834.0,156.6 L1836.9,158.9 L1839.8,161.3 L1842.7,163.8 L1845.6,166.3 L1848.5,168.8 L1851.4,171.4 L1854.3,174.0 L1857.2,176.6 L1860.1,179.3 L1863.1,181.9 L1866.0,184.7 L1868.9,187.4 L1871.8,190.2 L1874.7,193.0 L1877.6,195.7 L1880.5,198.6 L1883.4,201.4 L1886.3,204.2 L1889.2,207.0 L1892.1,209.8 L1895.0,212.6 L1897.9,215.3 L1900.8,218.1 L1903.7,220.8 L1906.6,223.5 L1909.5,226.1 L1912.4,228.6 L1915.3,231.1 L1918.2,233.6 L1921.1,235.9 L1924.0,238.2 L1926.9,240.3 L1929.8,242.4 L1932.7,244.3 L1935.6,246.1 L1938.5,247.8 L1941.5,249.4 L1944.4,250.8 L1947.3,252.1 L1950.2,253.2 L1953.1,254.2 L1956.0,254.9 L1958.9,255.6 L1961.8,256.0 L1964.7,256.3 L1967.6,256.4 L1970.5,256.3 L1973.4,255.9 L1976.3,255.3 L1979.2,254.5 L1982.1,253.5 L1985.0,252.2 L1987.9,250.7 L1990.8,249.0 L1993.7,247.1 L1996.6,245.0 L1999.5,242.8 L2002.4,240.4 L2005.3,237.8 L2008.2,235.1 L2011.1,232.4 L2014.0,229.5 L2016.9,226.5 L2019.9,223.4 L2022.8,220.3 L2025.7,217.2 L2028.6,214.0 L2031.5,210.8 L2034.4,207.5 L2037.3,204.3 L2040.2,201.0 L2043.1,197.8 L2046.0,194.6 L2048.9,191.4 L2051.8,188.2 L2054.7,185.1 L2057.6,182.0 L2060.5,179.0 L2063.4,176.0 L2066.3,173.1 L2069.2,170.2 L2072.1,167.4 L2075.0,164.6 L2077.9,161.9 L2080.8,159.3 L2083.7,156.7 L2086.6,154.1 L2089.5,151.7 L2092.4,149.3 L2095.3,146.9 L2098.3,144.6 L2101.2,142.4 L2104.1,140.2 L2107.0,138.1 L2109.9,136.1 L2112.8,134.1 L2115.7,132.2 L2118.6,130.3 L2121.5,128.4 L2124.4,126.7 L2127.3,124.9 L2130.2,123.2 L2133.1,121.6 L2136.0,120.0"/>
</g>
<path d="M1638.2,297.0 V290.0 M1638.2,4.0 V11.0 M1845.6,297.0 V290.0 M1845.6,4.0 V11.0 M2053.0,297.0 V290.0 M2053.0,4.0 V11.0 M1576.0,234.2 H1583.0 M2136.0,234.2 H2129.0 M1576.0,129.6 H1583.0 M2136.0,129.6 H2129.0 M1576.0,24.9 H1583.0 M2136.0,24.9 H2129.0" stroke="#1a1a1a" stroke-width="1.8" fill="none"/>
<rect x="1576.0" y="4.0" width="560.0" height="293.0" fill="none" stroke="#1a1a1a" stroke-width="2"/>
<text x="1638.2" y="346.0" text-anchor="middle" class="t">0</text>
<text x="1845.6" y="346.0" text-anchor="middle" class="t">0.5</text>
<text transform="translate(2054.1,347.8) scale(1.35,1)" text-anchor="middle" class="t one">1</text>
<text x="1564.0" y="247.7" text-anchor="end" class="t">5</text>
<text x="1564.0" y="143.1" text-anchor="end" class="t">10</text>
<text x="1564.0" y="38.4" text-anchor="end" class="t">15</text>
<g transform="translate(1490.1,222.8) rotate(-90)">
<text x="0" y="0" class="l">I</text>
<text x="11.8" y="19.7" class="l" style="font-size:32.75px">DS</text>
<text x="67.3" y="0" class="l">(</text>
<text transform="translate(83.4,0) scale(1.28,1)" class="l mu">μ</text>
<text x="106" y="0" class="l">A)</text>
</g>
<text x="1856.5" y="398.0" text-anchor="middle" class="l">V<tspan style="font-size:33.3px" dy="19.2">LTG</tspan><tspan dy="-19.2"> (V)</tspan></text>
<text x="1841" y="53" class="ann" fill="#3a8a30" style="font-size:34.2px">Sucrose</text>
<rect x="1840.6" y="67.8" width="141" height="5.6" fill="#55b04a"/>
<text x="2014.5" y="375.5" class="vi">V</text><text x="2033.5" y="383.7" class="vi" style="font-size:25px">LTG</text>
<clipPath id="c4"><rect x="114.0" y="457.0" width="580.0" height="312.0"/></clipPath>
<g clip-path="url(#c4)" fill="none" stroke-width="2.30" stroke-linejoin="round" stroke-linecap="round">
<path stroke="#4459a6" d="M114.0,605.0 L125.0,600.0 L137.4,592.1 L150.0,591.0 L183.0,589.7 L220.0,590.0 L255.0,590.2 L280.0,589.2 L330.0,589.5 L400.0,588.0 L460.0,586.8 L510.7,585.6 L560.0,584.0 L597.9,582.6 L694.0,580.3"/>
</g>
<path d="M114.0,769.0 V762.0 M114.0,457.0 V464.0 M230.0,769.0 V762.0 M230.0,457.0 V464.0 M346.0,769.0 V762.0 M346.0,457.0 V464.0 M462.0,769.0 V762.0 M462.0,457.0 V464.0 M578.0,769.0 V762.0 M578.0,457.0 V464.0 M694.0,769.0 V762.0 M694.0,457.0 V464.0 M114.0,769.0 H121.0 M694.0,769.0 H687.0 M114.0,665.0 H121.0 M694.0,665.0 H687.0 M114.0,561.0 H121.0 M694.0,561.0 H687.0 M114.0,457.0 H121.0 M694.0,457.0 H687.0" stroke="#1a1a1a" stroke-width="1.8" fill="none"/>
<rect x="114.0" y="457.0" width="580.0" height="312.0" fill="none" stroke="#1a1a1a" stroke-width="2"/>
<text x="114.0" y="818.0" text-anchor="middle" class="t">0</text>
<text x="230.0" y="818.0" text-anchor="middle" class="t">50</text>
<text x="346.0" y="818.0" text-anchor="middle" class="t">100</text>
<text x="462.0" y="818.0" text-anchor="middle" class="t">150</text>
<text x="578.0" y="818.0" text-anchor="middle" class="t">200</text>
<text x="694.0" y="818.0" text-anchor="middle" class="t">250</text>
<text x="102.0" y="782.5" text-anchor="end" class="t">2</text>
<text x="102.0" y="678.5" text-anchor="end" class="t">4</text>
<text x="102.0" y="574.5" text-anchor="end" class="t">6</text>
<text x="102.0" y="470.5" text-anchor="end" class="t">8</text>
<g transform="translate(48.2,691.3) rotate(-90)">
<text x="0" y="0" class="l">I</text>
<text x="11.8" y="19.7" class="l" style="font-size:32.75px">DS</text>
<text x="67.3" y="0" class="l">(</text>
<text transform="translate(83.4,0) scale(1.28,1)" class="l mu">μ</text>
<text x="106" y="0" class="l">A)</text>
</g>
<text x="404.0" y="869.0" text-anchor="middle" class="l">Time (s)</text>
<text x="521.1" y="534.7" class="ann" fill="#4a5ba8" style="font-size:34.6px">Honey</text>
<rect x="510.4" y="548.4" width="142" height="5.8" fill="#4a5ba8"/>
<clipPath id="c5"><rect x="855.0" y="457.0" width="560.0" height="312.0"/></clipPath>
<g clip-path="url(#c5)" fill="none" stroke-width="2.60" stroke-linejoin="round" stroke-linecap="round">
<path stroke="#5a9f92" d="M866.8,740.2 L877.9,763.4 L888.4,719.5 L899.5,684.5 L922.5,641.6 L944.1,617.7 L966.4,599.3 L988.6,584.3 L1012.5,571.6 L1045.9,558.2 L1068.2,550.9 L1093.6,543.9 L1115.9,538.8 L1135.0,535.6 L1158.7,530.6 L1224.4,522.1 L1266.5,517.5 L1315.1,512.9 L1351.9,510.2 L1414.4,507.0"/>
</g>
<path d="M855.0,769.0 V762.0 M855.0,457.0 V464.0 M967.0,769.0 V762.0 M967.0,457.0 V464.0 M1079.0,769.0 V762.0 M1079.0,457.0 V464.0 M1191.0,769.0 V762.0 M1191.0,457.0 V464.0 M1303.0,769.0 V762.0 M1303.0,457.0 V464.0 M1415.0,769.0 V762.0 M1415.0,457.0 V464.0 M855.0,724.4 H862.0 M1415.0,724.4 H1408.0 M855.0,635.3 H862.0 M1415.0,635.3 H1408.0 M855.0,546.1 H862.0 M1415.0,546.1 H1408.0 M855.0,457.0 H862.0 M1415.0,457.0 H1408.0" stroke="#1a1a1a" stroke-width="1.8" fill="none"/>
<rect x="855.0" y="457.0" width="560.0" height="312.0" fill="none" stroke="#1a1a1a" stroke-width="2"/>
<text x="855.0" y="818.0" text-anchor="middle" class="t">0</text>
<text x="967.0" y="818.0" text-anchor="middle" class="t">50</text>
<text x="1079.0" y="818.0" text-anchor="middle" class="t">100</text>
<text x="1191.0" y="818.0" text-anchor="middle" class="t">150</text>
<text x="1303.0" y="818.0" text-anchor="middle" class="t">200</text>
<text x="1415.0" y="818.0" text-anchor="middle" class="t">250</text>
<text x="843.0" y="737.9" text-anchor="end" class="t">4</text>
<text x="843.0" y="648.8" text-anchor="end" class="t">6</text>
<text x="843.0" y="559.6" text-anchor="end" class="t">8</text>
<text x="843.0" y="470.5" text-anchor="end" class="t">10</text>
<g transform="translate(769.6,691.3) rotate(-90)">
<text x="0" y="0" class="l">I</text>
<text x="11.8" y="19.7" class="l" style="font-size:32.75px">DS</text>
<text x="67.3" y="0" class="l">(</text>
<text transform="translate(83.4,0) scale(1.28,1)" class="l mu">μ</text>
<text x="106" y="0" class="l">A)</text>
</g>
<text x="1135.0" y="869.0" text-anchor="middle" class="l">Time (s)</text>
<text x="1217.6" y="592.6" class="ann" fill="#3a7d72" style="font-size:35.5px">NaNO<tspan class="annsub" dy="8.3">2</tspan></text>
<rect x="1203.2" y="608.8" width="141.7" height="5" fill="#4a9587"/>
<clipPath id="c6"><rect x="1576.0" y="457.0" width="560.0" height="312.0"/></clipPath>
<g clip-path="url(#c6)" fill="none" stroke-width="2.60" stroke-linejoin="round" stroke-linecap="round">
<path stroke="#4ba445" d="M1587.9,769.2 L1598.2,746.0 L1610.1,711.9 L1620.3,681.2 L1632.3,655.6 L1644.2,636.9 L1657.9,619.8 L1678.3,599.4 L1705.6,578.9 L1732.9,563.6 L1760.2,551.6 L1790.9,539.7 L1821.6,529.5 L1856.0,521.4 L1867.8,518.9 L1878.3,518.3 L1890.1,514.8 L1918.9,509.1 L1973.9,500.0 L2013.2,495.1 L2046.0,490.8 L2078.7,486.9 L2104.9,484.2 L2135.7,482.0"/>
</g>
<path d="M1576.0,769.0 V762.0 M1576.0,457.0 V464.0 M1688.0,769.0 V762.0 M1688.0,457.0 V464.0 M1800.0,769.0 V762.0 M1800.0,457.0 V464.0 M1912.0,769.0 V762.0 M1912.0,457.0 V464.0 M2024.0,769.0 V762.0 M2024.0,457.0 V464.0 M2136.0,769.0 V762.0 M2136.0,457.0 V464.0 M1576.0,750.9 H1583.0 M2136.0,750.9 H2129.0 M1576.0,652.9 H1583.0 M2136.0,652.9 H2129.0 M1576.0,555.0 H1583.0 M2136.0,555.0 H2129.0 M1576.0,457.0 H1583.0 M2136.0,457.0 H2129.0" stroke="#1a1a1a" stroke-width="1.8" fill="none"/>
<rect x="1576.0" y="457.0" width="560.0" height="312.0" fill="none" stroke="#1a1a1a" stroke-width="2"/>
<text x="1576.0" y="818.0" text-anchor="middle" class="t">0</text>
<text x="1688.0" y="818.0" text-anchor="middle" class="t">50</text>
<text x="1800.0" y="818.0" text-anchor="middle" class="t">100</text>
<text x="1912.0" y="818.0" text-anchor="middle" class="t">150</text>
<text x="2024.0" y="818.0" text-anchor="middle" class="t">200</text>
<text x="2136.0" y="818.0" text-anchor="middle" class="t">250</text>
<text x="1564.0" y="764.4" text-anchor="end" class="t">4</text>
<text x="1564.0" y="666.4" text-anchor="end" class="t">6</text>
<text x="1564.0" y="568.5" text-anchor="end" class="t">8</text>
<text x="1564.0" y="470.5" text-anchor="end" class="t">10</text>
<g transform="translate(1490.4,691.3) rotate(-90)">
<text x="0" y="0" class="l">I</text>
<text x="11.8" y="19.7" class="l" style="font-size:32.75px">DS</text>
<text x="67.3" y="0" class="l">(</text>
<text transform="translate(83.4,0) scale(1.28,1)" class="l mu">μ</text>
<text x="106" y="0" class="l">A)</text>
</g>
<text x="1856.0" y="869.0" text-anchor="middle" class="l">Time (s)</text>
<text x="1964.8" y="593" class="ann" fill="#3a8a30" style="font-size:34.5px">Sucrose</text>
<rect x="1959.8" y="603.7" width="141.7" height="5" fill="#55b04a"/>
<text x="476.0" y="712.0" class="vb" fill="#4a5ba8">V</text>
<text x="502.0" y="720.0" class="vb vbsub" fill="#4a5ba8">LTG</text>
<text x="559.6" y="712.7" class="eq" fill="#4a5ba8">=</text>
<text x="586.9" y="712.7" class="eq" fill="#4a5ba8">0.4 V</text>
<text x="1186.0" y="713.3" class="vb" fill="#3a7d72">V</text>
<text x="1212.0" y="721.3" class="vb vbsub" fill="#3a7d72">LTG</text>
<text x="1269.6" y="714.0" class="eq" fill="#3a7d72">=</text>
<text x="1296.9" y="714.0" class="eq" fill="#3a7d72">0.4 V</text>
<text x="1918.0" y="712.7" class="vb" fill="#3a8a30">V</text>
<text x="1944.0" y="720.7" class="vb vbsub" fill="#3a8a30">LTG</text>
<text x="2001.6" y="713.4" class="eq" fill="#3a8a30">=</text>
<text x="2028.9" y="713.4" class="eq" fill="#3a8a30">0.4 V</text></svg></body></html>
